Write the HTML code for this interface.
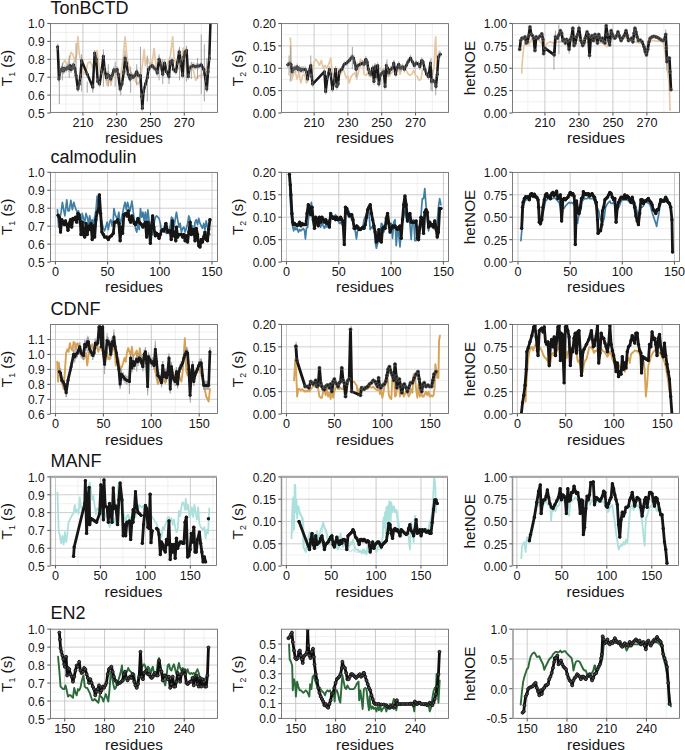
<!DOCTYPE html>
<html><head><meta charset="utf-8"><style>
html,body{margin:0;padding:0;background:#fff;}
svg{display:block;}
text{font-family:"Liberation Sans", sans-serif;fill:#141414;}
.tk{font-size:12px;}
.tkx{font-size:12.6px;}
.ax{font-size:15.3px;}
.ti{font-size:18px;}
</style></head><body>
<svg width="685" height="750" viewBox="0 0 685 750">
<defs><clipPath id="c00"><rect x="50.5" y="23.6" width="167" height="88.8"/></clipPath><clipPath id="c01"><rect x="281.5" y="23.6" width="167" height="88.8"/></clipPath><clipPath id="c02"><rect x="512.5" y="23.6" width="167" height="88.8"/></clipPath><clipPath id="c10"><rect x="50.5" y="172.4" width="167" height="89.1"/></clipPath><clipPath id="c11"><rect x="281.5" y="172.4" width="167" height="89.1"/></clipPath><clipPath id="c12"><rect x="512.5" y="172.4" width="167" height="89.1"/></clipPath><clipPath id="c20"><rect x="50.5" y="324.5" width="167" height="89"/></clipPath><clipPath id="c21"><rect x="281.5" y="324.5" width="167" height="89"/></clipPath><clipPath id="c22"><rect x="512.5" y="324.5" width="167" height="89"/></clipPath><clipPath id="c30"><rect x="50.5" y="477" width="166" height="88.5"/></clipPath><clipPath id="c31"><rect x="281.5" y="477" width="166" height="88.5"/></clipPath><clipPath id="c32"><rect x="512.5" y="477" width="166" height="88.5"/></clipPath><clipPath id="c40"><rect x="50.5" y="629.2" width="167" height="89.2"/></clipPath><clipPath id="c41"><rect x="281.5" y="629.2" width="167" height="89.2"/></clipPath><clipPath id="c42"><rect x="512.5" y="629.2" width="167" height="89.2"/></clipPath></defs>
<rect width="685" height="750" fill="#fff"/>
<line x1="50.5" x2="217.5" y1="104.05" y2="104.05" stroke="#e5e5e5" stroke-width="0.6"/>
<line x1="50.5" x2="217.5" y1="86.15" y2="86.15" stroke="#e5e5e5" stroke-width="0.6"/>
<line x1="50.5" x2="217.5" y1="68.25" y2="68.25" stroke="#e5e5e5" stroke-width="0.6"/>
<line x1="50.5" x2="217.5" y1="50.35" y2="50.35" stroke="#e5e5e5" stroke-width="0.6"/>
<line x1="50.5" x2="217.5" y1="32.45" y2="32.45" stroke="#e5e5e5" stroke-width="0.6"/>
<line y1="23.6" y2="112.4" x1="66" x2="66" stroke="#e5e5e5" stroke-width="0.6"/>
<line y1="23.6" y2="112.4" x1="99.8" x2="99.8" stroke="#e5e5e5" stroke-width="0.6"/>
<line y1="23.6" y2="112.4" x1="133.6" x2="133.6" stroke="#e5e5e5" stroke-width="0.6"/>
<line y1="23.6" y2="112.4" x1="167.4" x2="167.4" stroke="#e5e5e5" stroke-width="0.6"/>
<line y1="23.6" y2="112.4" x1="201.2" x2="201.2" stroke="#e5e5e5" stroke-width="0.6"/>
<line x1="50.5" x2="217.5" y1="95.1" y2="95.1" stroke="#cbcbcb" stroke-width="0.9"/>
<line x1="50.5" x2="217.5" y1="77.2" y2="77.2" stroke="#cbcbcb" stroke-width="0.9"/>
<line x1="50.5" x2="217.5" y1="59.3" y2="59.3" stroke="#cbcbcb" stroke-width="0.9"/>
<line x1="50.5" x2="217.5" y1="41.4" y2="41.4" stroke="#cbcbcb" stroke-width="0.9"/>
<line y1="23.6" y2="112.4" x1="82.9" x2="82.9" stroke="#c4c4c4" stroke-width="0.9"/>
<line y1="23.6" y2="112.4" x1="116.7" x2="116.7" stroke="#c4c4c4" stroke-width="0.9"/>
<line y1="23.6" y2="112.4" x1="150.5" x2="150.5" stroke="#c4c4c4" stroke-width="0.9"/>
<line y1="23.6" y2="112.4" x1="184.3" x2="184.3" stroke="#c4c4c4" stroke-width="0.9"/>
<g clip-path="url(#c00)">
<polyline points="60.55,74.15 63.03,62.97 64.89,60.49 67.37,65.45 69.85,58.01 71.09,52.42 72.96,54.28 74.82,61.73 76.68,54.28 77.92,36.9 79.16,53.04 81.02,62.97 83.5,74.15 85.99,71.66 87.85,62.97 90.33,61.73 92.81,67.94 95.29,55.52 97.15,50.56 99.01,66.7 100.88,75.39 103.36,65.45 105.22,75.39 107.08,85.32 108.94,75.39 110.8,85.32 113.28,74.15 115.77,70.42 118.25,77.87 120.73,75.39 123.21,56.76 125.07,36.9 126.93,56.76 129.42,69.18 131.9,74.15 135,75.39 135.48,81.6 137.96,84.08 140.45,80.35 142.31,65.45 144.17,49.31 145.41,65.45 147.27,58.01 149.13,62.97 150.99,65.45 152.85,58.01 154.09,48.69 155.34,59.25 156.58,69.18 158.44,62.97 160.3,59.25 162.78,64.21 165.26,69.18 167.74,62.97 170.23,56.76 172.71,36.9 173.95,56.76 175.81,64.21 177.67,69.18 179.53,66.7 181.39,59.25 183.26,48.07 185.12,59.25 186.36,66.7 188.22,74.15 190.08,69.18 191.94,67.94 193.8,71.66 195.66,80.35 197.53,76.63 200.01,75.39 202.49,75.39 204.35,71.66 206.21,67.94 207.45,66.7" fill="none" stroke="#e6c7a2" stroke-width="1.7" stroke-linejoin="round" stroke-linecap="round" opacity="1"/>
<line x1="59.31" x2="59.31" y1="59.25" y2="103.94" stroke="#9a9a9a" stroke-width="0.9"/>
<line x1="62.41" x2="62.41" y1="62.97" y2="80.35" stroke="#9a9a9a" stroke-width="0.9"/>
<line x1="69.23" x2="69.23" y1="55.52" y2="77.87" stroke="#9a9a9a" stroke-width="0.9"/>
<line x1="76.06" x2="76.06" y1="43.11" y2="71.66" stroke="#9a9a9a" stroke-width="0.9"/>
<line x1="81.64" x2="81.64" y1="54.28" y2="91.53" stroke="#9a9a9a" stroke-width="0.9"/>
<line x1="87.23" x2="87.23" y1="81.6" y2="92.77" stroke="#9a9a9a" stroke-width="0.9"/>
<line x1="92.81" x2="92.81" y1="81.6" y2="92.77" stroke="#9a9a9a" stroke-width="0.9"/>
<line x1="103.36" x2="103.36" y1="49.31" y2="86.56" stroke="#9a9a9a" stroke-width="0.9"/>
<line x1="108.32" x2="108.32" y1="64.21" y2="86.56" stroke="#9a9a9a" stroke-width="0.9"/>
<line x1="115.15" x2="115.15" y1="61.73" y2="86.56" stroke="#9a9a9a" stroke-width="0.9"/>
<line x1="120.73" x2="120.73" y1="76.63" y2="95.25" stroke="#9a9a9a" stroke-width="0.9"/>
<line x1="125.07" x2="125.07" y1="50.56" y2="74.15" stroke="#9a9a9a" stroke-width="0.9"/>
<line x1="130.66" x2="130.66" y1="66.7" y2="92.77" stroke="#9a9a9a" stroke-width="0.9"/>
<line x1="136.72" x2="136.72" y1="64.21" y2="85.32" stroke="#9a9a9a" stroke-width="0.9"/>
<line x1="140.45" x2="140.45" y1="46.83" y2="89.04" stroke="#9a9a9a" stroke-width="0.9"/>
<line x1="147.27" x2="147.27" y1="55.52" y2="101.46" stroke="#9a9a9a" stroke-width="0.9"/>
<line x1="159.06" x2="159.06" y1="54.28" y2="80.35" stroke="#9a9a9a" stroke-width="0.9"/>
<line x1="162.78" x2="162.78" y1="59.25" y2="84.08" stroke="#9a9a9a" stroke-width="0.9"/>
<line x1="168.99" x2="168.99" y1="61.73" y2="84.08" stroke="#9a9a9a" stroke-width="0.9"/>
<line x1="179.53" x2="179.53" y1="46.83" y2="80.35" stroke="#9a9a9a" stroke-width="0.9"/>
<line x1="186.36" x2="186.36" y1="45.59" y2="81.6" stroke="#9a9a9a" stroke-width="0.9"/>
<line x1="191.32" x2="191.32" y1="61.73" y2="79.11" stroke="#9a9a9a" stroke-width="0.9"/>
<line x1="197.53" x2="197.53" y1="58.01" y2="79.11" stroke="#9a9a9a" stroke-width="0.9"/>
<line x1="201.25" x2="201.25" y1="34.42" y2="94.01" stroke="#9a9a9a" stroke-width="0.9"/>
<line x1="204.35" x2="204.35" y1="44.35" y2="101.46" stroke="#9a9a9a" stroke-width="0.9"/>
<line x1="206.83" x2="206.83" y1="58.01" y2="91.53" stroke="#9a9a9a" stroke-width="0.9"/>
<polyline points="57.69,46.83 58.93,79.11 59.93,71.66 61.17,69.8 62.41,67.94 63.65,71.04 64.89,68.56 66.13,69.18 67.37,67.32 68.61,68.56 69.85,65.45 71.09,69.8 72.34,66.08 73.58,64.83 74.82,68.56 76.06,75.39 77.92,89.04 79.16,84.08 80.4,76.63 81.64,60.49 87.23,74.15 92.81,87.18 94.67,53.04 96.16,59.25 97.77,81.6 99.64,84.08 101.5,71.66 103.36,56.14 104.6,69.18 106.46,77.87 107.7,74.15 108.94,75.39 110.8,79.11 112.04,75.39 113.91,69.8 115.15,71.04 117.01,69.18 118.25,74.15 120.11,89.04 121.97,84.08 123.83,71.66 125.07,58.01 126.31,62.97 128.18,74.15 130.04,79.11 131.28,75.39 133.14,77.25 134.86,75.39 136.72,71.66 138.58,75.39 140.45,75.39 141.69,96.49 142.31,108.29 143.55,91.53 145.41,84.08 147.27,77.87 148.51,69.18 150.37,66.7 152.23,65.45 154.09,67.94 155.96,69.18 157.2,72.9 159.06,59.25 160.92,65.45 162.78,74.15 164.64,62.97 166.5,71.66 168.99,76.63 170.23,61.73 172.09,60.49 173.33,69.18 175.81,71.66 177.67,61.73 179.16,51.8 180.77,61.73 182.64,75.39 183.88,56.76 185.12,51.8 186.61,50.56 188.22,76.63 189.46,67.94 191.32,66.7 193.18,65.45 195.04,66.7 196.91,66.08 198.77,66.08 201.25,64.83 203.73,69.18 205.59,79.11 206.83,89.04 208.07,71.66 209.31,58.01 210.55,19.52" fill="none" stroke="#1a1a1a" stroke-width="2.5" stroke-linejoin="round" stroke-linecap="round" opacity="1"/>
<circle cx="57.69" cy="46.83" r="1.5" fill="#1a1a1a" stroke="none" stroke-width="0"/>
<circle cx="58.93" cy="79.11" r="1.5" fill="#1a1a1a" stroke="none" stroke-width="0"/>
<circle cx="59.93" cy="71.66" r="1.5" fill="#1a1a1a" stroke="none" stroke-width="0"/>
<circle cx="61.17" cy="69.8" r="1.5" fill="#1a1a1a" stroke="none" stroke-width="0"/>
<circle cx="62.41" cy="67.94" r="1.5" fill="#1a1a1a" stroke="none" stroke-width="0"/>
<circle cx="63.65" cy="71.04" r="1.5" fill="#1a1a1a" stroke="none" stroke-width="0"/>
<circle cx="64.89" cy="68.56" r="1.5" fill="#1a1a1a" stroke="none" stroke-width="0"/>
<circle cx="66.13" cy="69.18" r="1.5" fill="#1a1a1a" stroke="none" stroke-width="0"/>
<circle cx="67.37" cy="67.32" r="1.5" fill="#1a1a1a" stroke="none" stroke-width="0"/>
<circle cx="68.61" cy="68.56" r="1.5" fill="#1a1a1a" stroke="none" stroke-width="0"/>
<circle cx="69.85" cy="65.45" r="1.5" fill="#1a1a1a" stroke="none" stroke-width="0"/>
<circle cx="71.09" cy="69.8" r="1.5" fill="#1a1a1a" stroke="none" stroke-width="0"/>
<circle cx="72.34" cy="66.08" r="1.5" fill="#1a1a1a" stroke="none" stroke-width="0"/>
<circle cx="73.58" cy="64.83" r="1.5" fill="#1a1a1a" stroke="none" stroke-width="0"/>
<circle cx="74.82" cy="68.56" r="1.5" fill="#1a1a1a" stroke="none" stroke-width="0"/>
<circle cx="76.06" cy="75.39" r="1.5" fill="#1a1a1a" stroke="none" stroke-width="0"/>
<circle cx="77.92" cy="89.04" r="1.5" fill="#1a1a1a" stroke="none" stroke-width="0"/>
<circle cx="79.16" cy="84.08" r="1.5" fill="#1a1a1a" stroke="none" stroke-width="0"/>
<circle cx="80.4" cy="76.63" r="1.5" fill="#1a1a1a" stroke="none" stroke-width="0"/>
<circle cx="81.64" cy="60.49" r="1.5" fill="#1a1a1a" stroke="none" stroke-width="0"/>
<circle cx="87.23" cy="74.15" r="1.5" fill="#1a1a1a" stroke="none" stroke-width="0"/>
<circle cx="92.81" cy="87.18" r="1.5" fill="#1a1a1a" stroke="none" stroke-width="0"/>
<circle cx="94.67" cy="53.04" r="1.5" fill="#1a1a1a" stroke="none" stroke-width="0"/>
<circle cx="96.16" cy="59.25" r="1.5" fill="#1a1a1a" stroke="none" stroke-width="0"/>
<circle cx="97.77" cy="81.6" r="1.5" fill="#1a1a1a" stroke="none" stroke-width="0"/>
<circle cx="99.64" cy="84.08" r="1.5" fill="#1a1a1a" stroke="none" stroke-width="0"/>
<circle cx="101.5" cy="71.66" r="1.5" fill="#1a1a1a" stroke="none" stroke-width="0"/>
<circle cx="103.36" cy="56.14" r="1.5" fill="#1a1a1a" stroke="none" stroke-width="0"/>
<circle cx="104.6" cy="69.18" r="1.5" fill="#1a1a1a" stroke="none" stroke-width="0"/>
<circle cx="106.46" cy="77.87" r="1.5" fill="#1a1a1a" stroke="none" stroke-width="0"/>
<circle cx="107.7" cy="74.15" r="1.5" fill="#1a1a1a" stroke="none" stroke-width="0"/>
<circle cx="108.94" cy="75.39" r="1.5" fill="#1a1a1a" stroke="none" stroke-width="0"/>
<circle cx="110.8" cy="79.11" r="1.5" fill="#1a1a1a" stroke="none" stroke-width="0"/>
<circle cx="112.04" cy="75.39" r="1.5" fill="#1a1a1a" stroke="none" stroke-width="0"/>
<circle cx="113.91" cy="69.8" r="1.5" fill="#1a1a1a" stroke="none" stroke-width="0"/>
<circle cx="115.15" cy="71.04" r="1.5" fill="#1a1a1a" stroke="none" stroke-width="0"/>
<circle cx="117.01" cy="69.18" r="1.5" fill="#1a1a1a" stroke="none" stroke-width="0"/>
<circle cx="118.25" cy="74.15" r="1.5" fill="#1a1a1a" stroke="none" stroke-width="0"/>
<circle cx="120.11" cy="89.04" r="1.5" fill="#1a1a1a" stroke="none" stroke-width="0"/>
<circle cx="121.97" cy="84.08" r="1.5" fill="#1a1a1a" stroke="none" stroke-width="0"/>
<circle cx="123.83" cy="71.66" r="1.5" fill="#1a1a1a" stroke="none" stroke-width="0"/>
<circle cx="125.07" cy="58.01" r="1.5" fill="#1a1a1a" stroke="none" stroke-width="0"/>
<circle cx="126.31" cy="62.97" r="1.5" fill="#1a1a1a" stroke="none" stroke-width="0"/>
<circle cx="128.18" cy="74.15" r="1.5" fill="#1a1a1a" stroke="none" stroke-width="0"/>
<circle cx="130.04" cy="79.11" r="1.5" fill="#1a1a1a" stroke="none" stroke-width="0"/>
<circle cx="131.28" cy="75.39" r="1.5" fill="#1a1a1a" stroke="none" stroke-width="0"/>
<circle cx="133.14" cy="77.25" r="1.5" fill="#1a1a1a" stroke="none" stroke-width="0"/>
<circle cx="134.86" cy="75.39" r="1.5" fill="#1a1a1a" stroke="none" stroke-width="0"/>
<circle cx="136.72" cy="71.66" r="1.5" fill="#1a1a1a" stroke="none" stroke-width="0"/>
<circle cx="138.58" cy="75.39" r="1.5" fill="#1a1a1a" stroke="none" stroke-width="0"/>
<circle cx="140.45" cy="75.39" r="1.5" fill="#1a1a1a" stroke="none" stroke-width="0"/>
<circle cx="141.69" cy="96.49" r="1.5" fill="#1a1a1a" stroke="none" stroke-width="0"/>
<circle cx="142.31" cy="108.29" r="1.5" fill="#1a1a1a" stroke="none" stroke-width="0"/>
<circle cx="143.55" cy="91.53" r="1.5" fill="#1a1a1a" stroke="none" stroke-width="0"/>
<circle cx="145.41" cy="84.08" r="1.5" fill="#1a1a1a" stroke="none" stroke-width="0"/>
<circle cx="147.27" cy="77.87" r="1.5" fill="#1a1a1a" stroke="none" stroke-width="0"/>
<circle cx="148.51" cy="69.18" r="1.5" fill="#1a1a1a" stroke="none" stroke-width="0"/>
<circle cx="150.37" cy="66.7" r="1.5" fill="#1a1a1a" stroke="none" stroke-width="0"/>
<circle cx="152.23" cy="65.45" r="1.5" fill="#1a1a1a" stroke="none" stroke-width="0"/>
<circle cx="154.09" cy="67.94" r="1.5" fill="#1a1a1a" stroke="none" stroke-width="0"/>
<circle cx="155.96" cy="69.18" r="1.5" fill="#1a1a1a" stroke="none" stroke-width="0"/>
<circle cx="157.2" cy="72.9" r="1.5" fill="#1a1a1a" stroke="none" stroke-width="0"/>
<circle cx="159.06" cy="59.25" r="1.5" fill="#1a1a1a" stroke="none" stroke-width="0"/>
<circle cx="160.92" cy="65.45" r="1.5" fill="#1a1a1a" stroke="none" stroke-width="0"/>
<circle cx="162.78" cy="74.15" r="1.5" fill="#1a1a1a" stroke="none" stroke-width="0"/>
<circle cx="164.64" cy="62.97" r="1.5" fill="#1a1a1a" stroke="none" stroke-width="0"/>
<circle cx="166.5" cy="71.66" r="1.5" fill="#1a1a1a" stroke="none" stroke-width="0"/>
<circle cx="168.99" cy="76.63" r="1.5" fill="#1a1a1a" stroke="none" stroke-width="0"/>
<circle cx="170.23" cy="61.73" r="1.5" fill="#1a1a1a" stroke="none" stroke-width="0"/>
<circle cx="172.09" cy="60.49" r="1.5" fill="#1a1a1a" stroke="none" stroke-width="0"/>
<circle cx="173.33" cy="69.18" r="1.5" fill="#1a1a1a" stroke="none" stroke-width="0"/>
<circle cx="175.81" cy="71.66" r="1.5" fill="#1a1a1a" stroke="none" stroke-width="0"/>
<circle cx="177.67" cy="61.73" r="1.5" fill="#1a1a1a" stroke="none" stroke-width="0"/>
<circle cx="179.16" cy="51.8" r="1.5" fill="#1a1a1a" stroke="none" stroke-width="0"/>
<circle cx="180.77" cy="61.73" r="1.5" fill="#1a1a1a" stroke="none" stroke-width="0"/>
<circle cx="182.64" cy="75.39" r="1.5" fill="#1a1a1a" stroke="none" stroke-width="0"/>
<circle cx="183.88" cy="56.76" r="1.5" fill="#1a1a1a" stroke="none" stroke-width="0"/>
<circle cx="185.12" cy="51.8" r="1.5" fill="#1a1a1a" stroke="none" stroke-width="0"/>
<circle cx="186.61" cy="50.56" r="1.5" fill="#1a1a1a" stroke="none" stroke-width="0"/>
<circle cx="188.22" cy="76.63" r="1.5" fill="#1a1a1a" stroke="none" stroke-width="0"/>
<circle cx="189.46" cy="67.94" r="1.5" fill="#1a1a1a" stroke="none" stroke-width="0"/>
<circle cx="191.32" cy="66.7" r="1.5" fill="#1a1a1a" stroke="none" stroke-width="0"/>
<circle cx="193.18" cy="65.45" r="1.5" fill="#1a1a1a" stroke="none" stroke-width="0"/>
<circle cx="195.04" cy="66.7" r="1.5" fill="#1a1a1a" stroke="none" stroke-width="0"/>
<circle cx="196.91" cy="66.08" r="1.5" fill="#1a1a1a" stroke="none" stroke-width="0"/>
<circle cx="198.77" cy="66.08" r="1.5" fill="#1a1a1a" stroke="none" stroke-width="0"/>
<circle cx="201.25" cy="64.83" r="1.5" fill="#1a1a1a" stroke="none" stroke-width="0"/>
<circle cx="203.73" cy="69.18" r="1.5" fill="#1a1a1a" stroke="none" stroke-width="0"/>
<circle cx="205.59" cy="79.11" r="1.5" fill="#1a1a1a" stroke="none" stroke-width="0"/>
<circle cx="206.83" cy="89.04" r="1.5" fill="#1a1a1a" stroke="none" stroke-width="0"/>
<circle cx="208.07" cy="71.66" r="1.5" fill="#1a1a1a" stroke="none" stroke-width="0"/>
<circle cx="209.31" cy="58.01" r="1.5" fill="#1a1a1a" stroke="none" stroke-width="0"/>
<circle cx="210.55" cy="19.52" r="1.5" fill="#1a1a1a" stroke="none" stroke-width="0"/>
<line x1="57.69" x2="57.69" y1="43.63" y2="50.03" stroke="#8c8c8c" stroke-width="1.2" opacity="0.55"/>
<line x1="58.93" x2="58.93" y1="75.91" y2="82.31" stroke="#8c8c8c" stroke-width="1.2" opacity="0.55"/>
<line x1="59.93" x2="59.93" y1="68.46" y2="74.86" stroke="#8c8c8c" stroke-width="1.2" opacity="0.55"/>
<line x1="61.17" x2="61.17" y1="66.6" y2="73" stroke="#8c8c8c" stroke-width="1.2" opacity="0.55"/>
<line x1="62.41" x2="62.41" y1="64.74" y2="71.14" stroke="#8c8c8c" stroke-width="1.2" opacity="0.55"/>
<line x1="63.65" x2="63.65" y1="67.84" y2="74.24" stroke="#8c8c8c" stroke-width="1.2" opacity="0.55"/>
<line x1="64.89" x2="64.89" y1="65.36" y2="71.76" stroke="#8c8c8c" stroke-width="1.2" opacity="0.55"/>
<line x1="66.13" x2="66.13" y1="65.98" y2="72.38" stroke="#8c8c8c" stroke-width="1.2" opacity="0.55"/>
<line x1="67.37" x2="67.37" y1="64.12" y2="70.52" stroke="#8c8c8c" stroke-width="1.2" opacity="0.55"/>
<line x1="68.61" x2="68.61" y1="65.36" y2="71.76" stroke="#8c8c8c" stroke-width="1.2" opacity="0.55"/>
<line x1="69.85" x2="69.85" y1="62.25" y2="68.65" stroke="#8c8c8c" stroke-width="1.2" opacity="0.55"/>
<line x1="71.09" x2="71.09" y1="66.6" y2="73" stroke="#8c8c8c" stroke-width="1.2" opacity="0.55"/>
<line x1="72.34" x2="72.34" y1="62.88" y2="69.28" stroke="#8c8c8c" stroke-width="1.2" opacity="0.55"/>
<line x1="73.58" x2="73.58" y1="61.63" y2="68.03" stroke="#8c8c8c" stroke-width="1.2" opacity="0.55"/>
<line x1="74.82" x2="74.82" y1="65.36" y2="71.76" stroke="#8c8c8c" stroke-width="1.2" opacity="0.55"/>
<line x1="76.06" x2="76.06" y1="72.19" y2="78.59" stroke="#8c8c8c" stroke-width="1.2" opacity="0.55"/>
<line x1="77.92" x2="77.92" y1="85.84" y2="92.24" stroke="#8c8c8c" stroke-width="1.2" opacity="0.55"/>
<line x1="79.16" x2="79.16" y1="80.88" y2="87.28" stroke="#8c8c8c" stroke-width="1.2" opacity="0.55"/>
<line x1="80.4" x2="80.4" y1="73.43" y2="79.83" stroke="#8c8c8c" stroke-width="1.2" opacity="0.55"/>
<line x1="81.64" x2="81.64" y1="57.29" y2="63.69" stroke="#8c8c8c" stroke-width="1.2" opacity="0.55"/>
<line x1="87.23" x2="87.23" y1="70.95" y2="77.35" stroke="#8c8c8c" stroke-width="1.2" opacity="0.55"/>
<line x1="92.81" x2="92.81" y1="83.98" y2="90.38" stroke="#8c8c8c" stroke-width="1.2" opacity="0.55"/>
<line x1="94.67" x2="94.67" y1="49.84" y2="56.24" stroke="#8c8c8c" stroke-width="1.2" opacity="0.55"/>
<line x1="96.16" x2="96.16" y1="56.05" y2="62.45" stroke="#8c8c8c" stroke-width="1.2" opacity="0.55"/>
<line x1="97.77" x2="97.77" y1="78.4" y2="84.8" stroke="#8c8c8c" stroke-width="1.2" opacity="0.55"/>
<line x1="99.64" x2="99.64" y1="80.88" y2="87.28" stroke="#8c8c8c" stroke-width="1.2" opacity="0.55"/>
<line x1="101.5" x2="101.5" y1="68.46" y2="74.86" stroke="#8c8c8c" stroke-width="1.2" opacity="0.55"/>
<line x1="103.36" x2="103.36" y1="52.94" y2="59.34" stroke="#8c8c8c" stroke-width="1.2" opacity="0.55"/>
<line x1="104.6" x2="104.6" y1="65.98" y2="72.38" stroke="#8c8c8c" stroke-width="1.2" opacity="0.55"/>
<line x1="106.46" x2="106.46" y1="74.67" y2="81.07" stroke="#8c8c8c" stroke-width="1.2" opacity="0.55"/>
<line x1="107.7" x2="107.7" y1="70.95" y2="77.35" stroke="#8c8c8c" stroke-width="1.2" opacity="0.55"/>
<line x1="108.94" x2="108.94" y1="72.19" y2="78.59" stroke="#8c8c8c" stroke-width="1.2" opacity="0.55"/>
<line x1="110.8" x2="110.8" y1="75.91" y2="82.31" stroke="#8c8c8c" stroke-width="1.2" opacity="0.55"/>
<line x1="112.04" x2="112.04" y1="72.19" y2="78.59" stroke="#8c8c8c" stroke-width="1.2" opacity="0.55"/>
<line x1="113.91" x2="113.91" y1="66.6" y2="73" stroke="#8c8c8c" stroke-width="1.2" opacity="0.55"/>
<line x1="115.15" x2="115.15" y1="67.84" y2="74.24" stroke="#8c8c8c" stroke-width="1.2" opacity="0.55"/>
<line x1="117.01" x2="117.01" y1="65.98" y2="72.38" stroke="#8c8c8c" stroke-width="1.2" opacity="0.55"/>
<line x1="118.25" x2="118.25" y1="70.95" y2="77.35" stroke="#8c8c8c" stroke-width="1.2" opacity="0.55"/>
<line x1="120.11" x2="120.11" y1="85.84" y2="92.24" stroke="#8c8c8c" stroke-width="1.2" opacity="0.55"/>
<line x1="121.97" x2="121.97" y1="80.88" y2="87.28" stroke="#8c8c8c" stroke-width="1.2" opacity="0.55"/>
<line x1="123.83" x2="123.83" y1="68.46" y2="74.86" stroke="#8c8c8c" stroke-width="1.2" opacity="0.55"/>
<line x1="125.07" x2="125.07" y1="54.81" y2="61.21" stroke="#8c8c8c" stroke-width="1.2" opacity="0.55"/>
<line x1="126.31" x2="126.31" y1="59.77" y2="66.17" stroke="#8c8c8c" stroke-width="1.2" opacity="0.55"/>
<line x1="128.18" x2="128.18" y1="70.95" y2="77.35" stroke="#8c8c8c" stroke-width="1.2" opacity="0.55"/>
<line x1="130.04" x2="130.04" y1="75.91" y2="82.31" stroke="#8c8c8c" stroke-width="1.2" opacity="0.55"/>
<line x1="131.28" x2="131.28" y1="72.19" y2="78.59" stroke="#8c8c8c" stroke-width="1.2" opacity="0.55"/>
<line x1="133.14" x2="133.14" y1="74.05" y2="80.45" stroke="#8c8c8c" stroke-width="1.2" opacity="0.55"/>
<line x1="134.86" x2="134.86" y1="72.19" y2="78.59" stroke="#8c8c8c" stroke-width="1.2" opacity="0.55"/>
<line x1="136.72" x2="136.72" y1="68.46" y2="74.86" stroke="#8c8c8c" stroke-width="1.2" opacity="0.55"/>
<line x1="138.58" x2="138.58" y1="72.19" y2="78.59" stroke="#8c8c8c" stroke-width="1.2" opacity="0.55"/>
<line x1="140.45" x2="140.45" y1="72.19" y2="78.59" stroke="#8c8c8c" stroke-width="1.2" opacity="0.55"/>
<line x1="141.69" x2="141.69" y1="93.29" y2="99.69" stroke="#8c8c8c" stroke-width="1.2" opacity="0.55"/>
<line x1="142.31" x2="142.31" y1="105.09" y2="111.49" stroke="#8c8c8c" stroke-width="1.2" opacity="0.55"/>
<line x1="143.55" x2="143.55" y1="88.33" y2="94.73" stroke="#8c8c8c" stroke-width="1.2" opacity="0.55"/>
<line x1="145.41" x2="145.41" y1="80.88" y2="87.28" stroke="#8c8c8c" stroke-width="1.2" opacity="0.55"/>
<line x1="147.27" x2="147.27" y1="74.67" y2="81.07" stroke="#8c8c8c" stroke-width="1.2" opacity="0.55"/>
<line x1="148.51" x2="148.51" y1="65.98" y2="72.38" stroke="#8c8c8c" stroke-width="1.2" opacity="0.55"/>
<line x1="150.37" x2="150.37" y1="63.5" y2="69.9" stroke="#8c8c8c" stroke-width="1.2" opacity="0.55"/>
<line x1="152.23" x2="152.23" y1="62.25" y2="68.65" stroke="#8c8c8c" stroke-width="1.2" opacity="0.55"/>
<line x1="154.09" x2="154.09" y1="64.74" y2="71.14" stroke="#8c8c8c" stroke-width="1.2" opacity="0.55"/>
<line x1="155.96" x2="155.96" y1="65.98" y2="72.38" stroke="#8c8c8c" stroke-width="1.2" opacity="0.55"/>
<line x1="157.2" x2="157.2" y1="69.7" y2="76.1" stroke="#8c8c8c" stroke-width="1.2" opacity="0.55"/>
<line x1="159.06" x2="159.06" y1="56.05" y2="62.45" stroke="#8c8c8c" stroke-width="1.2" opacity="0.55"/>
<line x1="160.92" x2="160.92" y1="62.25" y2="68.65" stroke="#8c8c8c" stroke-width="1.2" opacity="0.55"/>
<line x1="162.78" x2="162.78" y1="70.95" y2="77.35" stroke="#8c8c8c" stroke-width="1.2" opacity="0.55"/>
<line x1="164.64" x2="164.64" y1="59.77" y2="66.17" stroke="#8c8c8c" stroke-width="1.2" opacity="0.55"/>
<line x1="166.5" x2="166.5" y1="68.46" y2="74.86" stroke="#8c8c8c" stroke-width="1.2" opacity="0.55"/>
<line x1="168.99" x2="168.99" y1="73.43" y2="79.83" stroke="#8c8c8c" stroke-width="1.2" opacity="0.55"/>
<line x1="170.23" x2="170.23" y1="58.53" y2="64.93" stroke="#8c8c8c" stroke-width="1.2" opacity="0.55"/>
<line x1="172.09" x2="172.09" y1="57.29" y2="63.69" stroke="#8c8c8c" stroke-width="1.2" opacity="0.55"/>
<line x1="173.33" x2="173.33" y1="65.98" y2="72.38" stroke="#8c8c8c" stroke-width="1.2" opacity="0.55"/>
<line x1="175.81" x2="175.81" y1="68.46" y2="74.86" stroke="#8c8c8c" stroke-width="1.2" opacity="0.55"/>
<line x1="177.67" x2="177.67" y1="58.53" y2="64.93" stroke="#8c8c8c" stroke-width="1.2" opacity="0.55"/>
<line x1="179.16" x2="179.16" y1="48.6" y2="55" stroke="#8c8c8c" stroke-width="1.2" opacity="0.55"/>
<line x1="180.77" x2="180.77" y1="58.53" y2="64.93" stroke="#8c8c8c" stroke-width="1.2" opacity="0.55"/>
<line x1="182.64" x2="182.64" y1="72.19" y2="78.59" stroke="#8c8c8c" stroke-width="1.2" opacity="0.55"/>
<line x1="183.88" x2="183.88" y1="53.56" y2="59.96" stroke="#8c8c8c" stroke-width="1.2" opacity="0.55"/>
<line x1="185.12" x2="185.12" y1="48.6" y2="55" stroke="#8c8c8c" stroke-width="1.2" opacity="0.55"/>
<line x1="186.61" x2="186.61" y1="47.36" y2="53.76" stroke="#8c8c8c" stroke-width="1.2" opacity="0.55"/>
<line x1="188.22" x2="188.22" y1="73.43" y2="79.83" stroke="#8c8c8c" stroke-width="1.2" opacity="0.55"/>
<line x1="189.46" x2="189.46" y1="64.74" y2="71.14" stroke="#8c8c8c" stroke-width="1.2" opacity="0.55"/>
<line x1="191.32" x2="191.32" y1="63.5" y2="69.9" stroke="#8c8c8c" stroke-width="1.2" opacity="0.55"/>
<line x1="193.18" x2="193.18" y1="62.25" y2="68.65" stroke="#8c8c8c" stroke-width="1.2" opacity="0.55"/>
<line x1="195.04" x2="195.04" y1="63.5" y2="69.9" stroke="#8c8c8c" stroke-width="1.2" opacity="0.55"/>
<line x1="196.91" x2="196.91" y1="62.88" y2="69.28" stroke="#8c8c8c" stroke-width="1.2" opacity="0.55"/>
<line x1="198.77" x2="198.77" y1="62.88" y2="69.28" stroke="#8c8c8c" stroke-width="1.2" opacity="0.55"/>
<line x1="201.25" x2="201.25" y1="61.63" y2="68.03" stroke="#8c8c8c" stroke-width="1.2" opacity="0.55"/>
<line x1="203.73" x2="203.73" y1="65.98" y2="72.38" stroke="#8c8c8c" stroke-width="1.2" opacity="0.55"/>
<line x1="205.59" x2="205.59" y1="75.91" y2="82.31" stroke="#8c8c8c" stroke-width="1.2" opacity="0.55"/>
<line x1="206.83" x2="206.83" y1="85.84" y2="92.24" stroke="#8c8c8c" stroke-width="1.2" opacity="0.55"/>
<line x1="208.07" x2="208.07" y1="68.46" y2="74.86" stroke="#8c8c8c" stroke-width="1.2" opacity="0.55"/>
<line x1="209.31" x2="209.31" y1="54.81" y2="61.21" stroke="#8c8c8c" stroke-width="1.2" opacity="0.55"/>
<line x1="210.55" x2="210.55" y1="16.32" y2="22.72" stroke="#8c8c8c" stroke-width="1.2" opacity="0.55"/>
</g>
<rect x="50.5" y="23.6" width="167" height="88.8" fill="none" stroke="#6e6e6e" stroke-width="0.9"/>
<line x1="47.3" x2="50.5" y1="113" y2="113" stroke="#5e5e5e" stroke-width="1.1"/>
<text x="44.6" y="117.9" text-anchor="end" class="tk">0.5</text>
<line x1="47.3" x2="50.5" y1="95.1" y2="95.1" stroke="#5e5e5e" stroke-width="1.1"/>
<text x="44.6" y="100" text-anchor="end" class="tk">0.6</text>
<line x1="47.3" x2="50.5" y1="77.2" y2="77.2" stroke="#5e5e5e" stroke-width="1.1"/>
<text x="44.6" y="82.1" text-anchor="end" class="tk">0.7</text>
<line x1="47.3" x2="50.5" y1="59.3" y2="59.3" stroke="#5e5e5e" stroke-width="1.1"/>
<text x="44.6" y="64.2" text-anchor="end" class="tk">0.8</text>
<line x1="47.3" x2="50.5" y1="41.4" y2="41.4" stroke="#5e5e5e" stroke-width="1.1"/>
<text x="44.6" y="46.3" text-anchor="end" class="tk">0.9</text>
<line x1="47.3" x2="50.5" y1="23.5" y2="23.5" stroke="#5e5e5e" stroke-width="1.1"/>
<text x="44.6" y="28.4" text-anchor="end" class="tk">1.0</text>
<line y1="112.4" y2="115.4" x1="82.9" x2="82.9" stroke="#5e5e5e" stroke-width="1.1"/>
<text x="82.9" y="127" text-anchor="middle" class="tkx">210</text>
<line y1="112.4" y2="115.4" x1="116.7" x2="116.7" stroke="#5e5e5e" stroke-width="1.1"/>
<text x="116.7" y="127" text-anchor="middle" class="tkx">230</text>
<line y1="112.4" y2="115.4" x1="150.5" x2="150.5" stroke="#5e5e5e" stroke-width="1.1"/>
<text x="150.5" y="127" text-anchor="middle" class="tkx">250</text>
<line y1="112.4" y2="115.4" x1="184.3" x2="184.3" stroke="#5e5e5e" stroke-width="1.1"/>
<text x="184.3" y="127" text-anchor="middle" class="tkx">270</text>
<text x="134" y="143.3" text-anchor="middle" class="ax">residues</text>
<text transform="translate(12,68) rotate(-90)" text-anchor="middle" class="ax">T<tspan font-size="8.8" dy="2.8">1</tspan><tspan dy="-2.8"> (s)</tspan></text>
<line x1="281.5" x2="448.5" y1="101.81" y2="101.81" stroke="#e5e5e5" stroke-width="0.6"/>
<line x1="281.5" x2="448.5" y1="79.44" y2="79.44" stroke="#e5e5e5" stroke-width="0.6"/>
<line x1="281.5" x2="448.5" y1="57.06" y2="57.06" stroke="#e5e5e5" stroke-width="0.6"/>
<line x1="281.5" x2="448.5" y1="34.69" y2="34.69" stroke="#e5e5e5" stroke-width="0.6"/>
<line y1="23.6" y2="112.4" x1="297.2" x2="297.2" stroke="#e5e5e5" stroke-width="0.6"/>
<line y1="23.6" y2="112.4" x1="331" x2="331" stroke="#e5e5e5" stroke-width="0.6"/>
<line y1="23.6" y2="112.4" x1="364.8" x2="364.8" stroke="#e5e5e5" stroke-width="0.6"/>
<line y1="23.6" y2="112.4" x1="398.6" x2="398.6" stroke="#e5e5e5" stroke-width="0.6"/>
<line y1="23.6" y2="112.4" x1="432.4" x2="432.4" stroke="#e5e5e5" stroke-width="0.6"/>
<line x1="281.5" x2="448.5" y1="90.62" y2="90.62" stroke="#cbcbcb" stroke-width="0.9"/>
<line x1="281.5" x2="448.5" y1="68.25" y2="68.25" stroke="#cbcbcb" stroke-width="0.9"/>
<line x1="281.5" x2="448.5" y1="45.88" y2="45.88" stroke="#cbcbcb" stroke-width="0.9"/>
<line y1="23.6" y2="112.4" x1="314.1" x2="314.1" stroke="#c4c4c4" stroke-width="0.9"/>
<line y1="23.6" y2="112.4" x1="347.9" x2="347.9" stroke="#c4c4c4" stroke-width="0.9"/>
<line y1="23.6" y2="112.4" x1="381.7" x2="381.7" stroke="#c4c4c4" stroke-width="0.9"/>
<line y1="23.6" y2="112.4" x1="415.5" x2="415.5" stroke="#c4c4c4" stroke-width="0.9"/>
<g clip-path="url(#c01)">
<polyline points="290.31,38.14 290.93,46.83 291.55,80.35 293.41,74.15 295.27,71.66 297.13,79.11 298.99,72.9 300.85,82.84 302.72,75.39 304.58,74.15 306.44,82.84 308.3,71.66 310.16,69.18 312.02,74.15 313.88,62.97 315.74,59.25 317.61,61.73 319.47,65.45 321.33,60.49 323.19,67.94 325.05,65.45 326.91,67.94 328.77,64.21 330.64,58.01 331.88,69.18 333.74,76.63 335.6,71.66 337.46,74.15 339.32,69.18 340.56,74.15 342.42,67.94 344.28,71.66 346.15,77.87 348.01,76.63 349.25,82.84 351.11,76.63 352.97,74.15 354.83,72.9 356.69,79.11 358.55,71.66 360.42,59.25 362.9,61.73 364,74.15 365.86,75.39 367.72,72.9 369.58,76.63 371.45,76.63 373.31,69.18 375.17,64.21 377.03,69.18 378.89,66.7 381.37,70.42 383.23,69.18 385.09,72.9 386.96,74.15 388.82,76.63 390.68,74.15 392.54,71.66 394.4,71.66 396.26,69.18 398.12,66.7 399.99,74.15 401.85,67.94 403.71,69.18 405.57,69.18 407.43,72.9 409.91,75.39 411.77,74.15 413.64,70.42 415.5,75.39 417.36,76.63 419.22,80.35 421.08,79.11 422.32,70.42 423.56,69.18 426.04,71.66 428.53,74.15 431.01,75.39 432.87,74.15 434.11,66.7 434.98,46.83 435.72,36.9 436.59,61.73 437.83,74.15" fill="none" stroke="#e6c7a2" stroke-width="1.7" stroke-linejoin="round" stroke-linecap="round" opacity="1"/>
<line x1="289.07" x2="289.07" y1="55.52" y2="75.39" stroke="#9a9a9a" stroke-width="0.9"/>
<line x1="290.31" x2="290.31" y1="45.59" y2="81.6" stroke="#9a9a9a" stroke-width="0.9"/>
<line x1="310.78" x2="310.78" y1="55.52" y2="74.15" stroke="#9a9a9a" stroke-width="0.9"/>
<line x1="352.35" x2="352.35" y1="46.83" y2="69.18" stroke="#9a9a9a" stroke-width="0.9"/>
<line x1="356.69" x2="356.69" y1="65.45" y2="76.63" stroke="#9a9a9a" stroke-width="0.9"/>
<line x1="386.96" x2="386.96" y1="59.25" y2="76.63" stroke="#9a9a9a" stroke-width="0.9"/>
<line x1="431.01" x2="431.01" y1="58.01" y2="90.29" stroke="#9a9a9a" stroke-width="0.9"/>
<line x1="432.25" x2="432.25" y1="69.18" y2="91.53" stroke="#9a9a9a" stroke-width="0.9"/>
<line x1="435.72" x2="435.72" y1="75.39" y2="95.25" stroke="#9a9a9a" stroke-width="0.9"/>
<line x1="439.07" x2="439.07" y1="50.56" y2="59.25" stroke="#9a9a9a" stroke-width="0.9"/>
<polyline points="287.82,64.83 289.69,63.59 290.93,64.21 292.17,71.66 293.41,69.18 294.65,67.94 295.89,68.56 297.13,66.7 298.37,69.8 299.61,68.56 300.85,70.42 302.09,69.18 303.34,69.8 305.2,69.18 306.44,71.66 307.68,79.11 308.92,71.66 310.78,65.45 311.77,76.63 312.64,84.08 324.43,71.66 325.67,91.53 327.53,76.63 329.39,69.18 330.64,74.15 332.5,89.04 334.36,80.35 335.6,69.18 336.84,86.56 338.08,84.08 339.32,71.66 341.8,69.18 344.28,64.21 346.77,62.97 349.25,60.49 351.11,58.01 352.35,56.76 353.59,58.01 354.83,62.97 356.07,69.18 357.93,65.45 360.42,64.21 362.9,62.97 364,64.21 365.86,59.25 367.1,61.73 368.34,69.18 369.58,72.9 370.82,74.15 372.69,67.94 373.93,81.6 375.17,66.7 376.41,76.63 377.65,65.45 378.89,84.08 380.13,75.39 381.99,72.9 383.85,71.66 385.09,86.56 386.34,65.45 387.58,67.94 388.82,72.9 390.68,69.18 392.54,67.94 393.78,62.97 395.64,74.15 396.88,67.94 398.74,64.21 399.99,67.94 401.23,67.94 402.47,66.7 404.33,69.18 406.19,65.45 408.05,61.73 410.53,58.01 412.39,61.73 414.26,65.45 416.12,62.97 418.6,64.21 419.84,66.7 421.7,60.49 422.94,61.73 424.8,69.18 426.66,74.15 428.53,76.63 430.39,62.97 431.63,81.6 432.87,80.35 434.73,81.6 435.97,86.56 437.21,74.15 438.45,56.76 440.31,54.28" fill="none" stroke="#1a1a1a" stroke-width="2.5" stroke-linejoin="round" stroke-linecap="round" opacity="1"/>
<circle cx="287.82" cy="64.83" r="1.5" fill="#1a1a1a" stroke="none" stroke-width="0"/>
<circle cx="289.69" cy="63.59" r="1.5" fill="#1a1a1a" stroke="none" stroke-width="0"/>
<circle cx="290.93" cy="64.21" r="1.5" fill="#1a1a1a" stroke="none" stroke-width="0"/>
<circle cx="292.17" cy="71.66" r="1.5" fill="#1a1a1a" stroke="none" stroke-width="0"/>
<circle cx="293.41" cy="69.18" r="1.5" fill="#1a1a1a" stroke="none" stroke-width="0"/>
<circle cx="294.65" cy="67.94" r="1.5" fill="#1a1a1a" stroke="none" stroke-width="0"/>
<circle cx="295.89" cy="68.56" r="1.5" fill="#1a1a1a" stroke="none" stroke-width="0"/>
<circle cx="297.13" cy="66.7" r="1.5" fill="#1a1a1a" stroke="none" stroke-width="0"/>
<circle cx="298.37" cy="69.8" r="1.5" fill="#1a1a1a" stroke="none" stroke-width="0"/>
<circle cx="299.61" cy="68.56" r="1.5" fill="#1a1a1a" stroke="none" stroke-width="0"/>
<circle cx="300.85" cy="70.42" r="1.5" fill="#1a1a1a" stroke="none" stroke-width="0"/>
<circle cx="302.09" cy="69.18" r="1.5" fill="#1a1a1a" stroke="none" stroke-width="0"/>
<circle cx="303.34" cy="69.8" r="1.5" fill="#1a1a1a" stroke="none" stroke-width="0"/>
<circle cx="305.2" cy="69.18" r="1.5" fill="#1a1a1a" stroke="none" stroke-width="0"/>
<circle cx="306.44" cy="71.66" r="1.5" fill="#1a1a1a" stroke="none" stroke-width="0"/>
<circle cx="307.68" cy="79.11" r="1.5" fill="#1a1a1a" stroke="none" stroke-width="0"/>
<circle cx="308.92" cy="71.66" r="1.5" fill="#1a1a1a" stroke="none" stroke-width="0"/>
<circle cx="310.78" cy="65.45" r="1.5" fill="#1a1a1a" stroke="none" stroke-width="0"/>
<circle cx="311.77" cy="76.63" r="1.5" fill="#1a1a1a" stroke="none" stroke-width="0"/>
<circle cx="312.64" cy="84.08" r="1.5" fill="#1a1a1a" stroke="none" stroke-width="0"/>
<circle cx="324.43" cy="71.66" r="1.5" fill="#1a1a1a" stroke="none" stroke-width="0"/>
<circle cx="325.67" cy="91.53" r="1.5" fill="#1a1a1a" stroke="none" stroke-width="0"/>
<circle cx="327.53" cy="76.63" r="1.5" fill="#1a1a1a" stroke="none" stroke-width="0"/>
<circle cx="329.39" cy="69.18" r="1.5" fill="#1a1a1a" stroke="none" stroke-width="0"/>
<circle cx="330.64" cy="74.15" r="1.5" fill="#1a1a1a" stroke="none" stroke-width="0"/>
<circle cx="332.5" cy="89.04" r="1.5" fill="#1a1a1a" stroke="none" stroke-width="0"/>
<circle cx="334.36" cy="80.35" r="1.5" fill="#1a1a1a" stroke="none" stroke-width="0"/>
<circle cx="335.6" cy="69.18" r="1.5" fill="#1a1a1a" stroke="none" stroke-width="0"/>
<circle cx="336.84" cy="86.56" r="1.5" fill="#1a1a1a" stroke="none" stroke-width="0"/>
<circle cx="338.08" cy="84.08" r="1.5" fill="#1a1a1a" stroke="none" stroke-width="0"/>
<circle cx="339.32" cy="71.66" r="1.5" fill="#1a1a1a" stroke="none" stroke-width="0"/>
<circle cx="341.8" cy="69.18" r="1.5" fill="#1a1a1a" stroke="none" stroke-width="0"/>
<circle cx="344.28" cy="64.21" r="1.5" fill="#1a1a1a" stroke="none" stroke-width="0"/>
<circle cx="346.77" cy="62.97" r="1.5" fill="#1a1a1a" stroke="none" stroke-width="0"/>
<circle cx="349.25" cy="60.49" r="1.5" fill="#1a1a1a" stroke="none" stroke-width="0"/>
<circle cx="351.11" cy="58.01" r="1.5" fill="#1a1a1a" stroke="none" stroke-width="0"/>
<circle cx="352.35" cy="56.76" r="1.5" fill="#1a1a1a" stroke="none" stroke-width="0"/>
<circle cx="353.59" cy="58.01" r="1.5" fill="#1a1a1a" stroke="none" stroke-width="0"/>
<circle cx="354.83" cy="62.97" r="1.5" fill="#1a1a1a" stroke="none" stroke-width="0"/>
<circle cx="356.07" cy="69.18" r="1.5" fill="#1a1a1a" stroke="none" stroke-width="0"/>
<circle cx="357.93" cy="65.45" r="1.5" fill="#1a1a1a" stroke="none" stroke-width="0"/>
<circle cx="360.42" cy="64.21" r="1.5" fill="#1a1a1a" stroke="none" stroke-width="0"/>
<circle cx="362.9" cy="62.97" r="1.5" fill="#1a1a1a" stroke="none" stroke-width="0"/>
<circle cx="364" cy="64.21" r="1.5" fill="#1a1a1a" stroke="none" stroke-width="0"/>
<circle cx="365.86" cy="59.25" r="1.5" fill="#1a1a1a" stroke="none" stroke-width="0"/>
<circle cx="367.1" cy="61.73" r="1.5" fill="#1a1a1a" stroke="none" stroke-width="0"/>
<circle cx="368.34" cy="69.18" r="1.5" fill="#1a1a1a" stroke="none" stroke-width="0"/>
<circle cx="369.58" cy="72.9" r="1.5" fill="#1a1a1a" stroke="none" stroke-width="0"/>
<circle cx="370.82" cy="74.15" r="1.5" fill="#1a1a1a" stroke="none" stroke-width="0"/>
<circle cx="372.69" cy="67.94" r="1.5" fill="#1a1a1a" stroke="none" stroke-width="0"/>
<circle cx="373.93" cy="81.6" r="1.5" fill="#1a1a1a" stroke="none" stroke-width="0"/>
<circle cx="375.17" cy="66.7" r="1.5" fill="#1a1a1a" stroke="none" stroke-width="0"/>
<circle cx="376.41" cy="76.63" r="1.5" fill="#1a1a1a" stroke="none" stroke-width="0"/>
<circle cx="377.65" cy="65.45" r="1.5" fill="#1a1a1a" stroke="none" stroke-width="0"/>
<circle cx="378.89" cy="84.08" r="1.5" fill="#1a1a1a" stroke="none" stroke-width="0"/>
<circle cx="380.13" cy="75.39" r="1.5" fill="#1a1a1a" stroke="none" stroke-width="0"/>
<circle cx="381.99" cy="72.9" r="1.5" fill="#1a1a1a" stroke="none" stroke-width="0"/>
<circle cx="383.85" cy="71.66" r="1.5" fill="#1a1a1a" stroke="none" stroke-width="0"/>
<circle cx="385.09" cy="86.56" r="1.5" fill="#1a1a1a" stroke="none" stroke-width="0"/>
<circle cx="386.34" cy="65.45" r="1.5" fill="#1a1a1a" stroke="none" stroke-width="0"/>
<circle cx="387.58" cy="67.94" r="1.5" fill="#1a1a1a" stroke="none" stroke-width="0"/>
<circle cx="388.82" cy="72.9" r="1.5" fill="#1a1a1a" stroke="none" stroke-width="0"/>
<circle cx="390.68" cy="69.18" r="1.5" fill="#1a1a1a" stroke="none" stroke-width="0"/>
<circle cx="392.54" cy="67.94" r="1.5" fill="#1a1a1a" stroke="none" stroke-width="0"/>
<circle cx="393.78" cy="62.97" r="1.5" fill="#1a1a1a" stroke="none" stroke-width="0"/>
<circle cx="395.64" cy="74.15" r="1.5" fill="#1a1a1a" stroke="none" stroke-width="0"/>
<circle cx="396.88" cy="67.94" r="1.5" fill="#1a1a1a" stroke="none" stroke-width="0"/>
<circle cx="398.74" cy="64.21" r="1.5" fill="#1a1a1a" stroke="none" stroke-width="0"/>
<circle cx="399.99" cy="67.94" r="1.5" fill="#1a1a1a" stroke="none" stroke-width="0"/>
<circle cx="401.23" cy="67.94" r="1.5" fill="#1a1a1a" stroke="none" stroke-width="0"/>
<circle cx="402.47" cy="66.7" r="1.5" fill="#1a1a1a" stroke="none" stroke-width="0"/>
<circle cx="404.33" cy="69.18" r="1.5" fill="#1a1a1a" stroke="none" stroke-width="0"/>
<circle cx="406.19" cy="65.45" r="1.5" fill="#1a1a1a" stroke="none" stroke-width="0"/>
<circle cx="408.05" cy="61.73" r="1.5" fill="#1a1a1a" stroke="none" stroke-width="0"/>
<circle cx="410.53" cy="58.01" r="1.5" fill="#1a1a1a" stroke="none" stroke-width="0"/>
<circle cx="412.39" cy="61.73" r="1.5" fill="#1a1a1a" stroke="none" stroke-width="0"/>
<circle cx="414.26" cy="65.45" r="1.5" fill="#1a1a1a" stroke="none" stroke-width="0"/>
<circle cx="416.12" cy="62.97" r="1.5" fill="#1a1a1a" stroke="none" stroke-width="0"/>
<circle cx="418.6" cy="64.21" r="1.5" fill="#1a1a1a" stroke="none" stroke-width="0"/>
<circle cx="419.84" cy="66.7" r="1.5" fill="#1a1a1a" stroke="none" stroke-width="0"/>
<circle cx="421.7" cy="60.49" r="1.5" fill="#1a1a1a" stroke="none" stroke-width="0"/>
<circle cx="422.94" cy="61.73" r="1.5" fill="#1a1a1a" stroke="none" stroke-width="0"/>
<circle cx="424.8" cy="69.18" r="1.5" fill="#1a1a1a" stroke="none" stroke-width="0"/>
<circle cx="426.66" cy="74.15" r="1.5" fill="#1a1a1a" stroke="none" stroke-width="0"/>
<circle cx="428.53" cy="76.63" r="1.5" fill="#1a1a1a" stroke="none" stroke-width="0"/>
<circle cx="430.39" cy="62.97" r="1.5" fill="#1a1a1a" stroke="none" stroke-width="0"/>
<circle cx="431.63" cy="81.6" r="1.5" fill="#1a1a1a" stroke="none" stroke-width="0"/>
<circle cx="432.87" cy="80.35" r="1.5" fill="#1a1a1a" stroke="none" stroke-width="0"/>
<circle cx="434.73" cy="81.6" r="1.5" fill="#1a1a1a" stroke="none" stroke-width="0"/>
<circle cx="435.97" cy="86.56" r="1.5" fill="#1a1a1a" stroke="none" stroke-width="0"/>
<circle cx="437.21" cy="74.15" r="1.5" fill="#1a1a1a" stroke="none" stroke-width="0"/>
<circle cx="438.45" cy="56.76" r="1.5" fill="#1a1a1a" stroke="none" stroke-width="0"/>
<circle cx="440.31" cy="54.28" r="1.5" fill="#1a1a1a" stroke="none" stroke-width="0"/>
<line x1="287.82" x2="287.82" y1="61.63" y2="68.03" stroke="#8c8c8c" stroke-width="1.2" opacity="0.55"/>
<line x1="289.69" x2="289.69" y1="60.39" y2="66.79" stroke="#8c8c8c" stroke-width="1.2" opacity="0.55"/>
<line x1="290.93" x2="290.93" y1="61.01" y2="67.41" stroke="#8c8c8c" stroke-width="1.2" opacity="0.55"/>
<line x1="292.17" x2="292.17" y1="68.46" y2="74.86" stroke="#8c8c8c" stroke-width="1.2" opacity="0.55"/>
<line x1="293.41" x2="293.41" y1="65.98" y2="72.38" stroke="#8c8c8c" stroke-width="1.2" opacity="0.55"/>
<line x1="294.65" x2="294.65" y1="64.74" y2="71.14" stroke="#8c8c8c" stroke-width="1.2" opacity="0.55"/>
<line x1="295.89" x2="295.89" y1="65.36" y2="71.76" stroke="#8c8c8c" stroke-width="1.2" opacity="0.55"/>
<line x1="297.13" x2="297.13" y1="63.5" y2="69.9" stroke="#8c8c8c" stroke-width="1.2" opacity="0.55"/>
<line x1="298.37" x2="298.37" y1="66.6" y2="73" stroke="#8c8c8c" stroke-width="1.2" opacity="0.55"/>
<line x1="299.61" x2="299.61" y1="65.36" y2="71.76" stroke="#8c8c8c" stroke-width="1.2" opacity="0.55"/>
<line x1="300.85" x2="300.85" y1="67.22" y2="73.62" stroke="#8c8c8c" stroke-width="1.2" opacity="0.55"/>
<line x1="302.09" x2="302.09" y1="65.98" y2="72.38" stroke="#8c8c8c" stroke-width="1.2" opacity="0.55"/>
<line x1="303.34" x2="303.34" y1="66.6" y2="73" stroke="#8c8c8c" stroke-width="1.2" opacity="0.55"/>
<line x1="305.2" x2="305.2" y1="65.98" y2="72.38" stroke="#8c8c8c" stroke-width="1.2" opacity="0.55"/>
<line x1="306.44" x2="306.44" y1="68.46" y2="74.86" stroke="#8c8c8c" stroke-width="1.2" opacity="0.55"/>
<line x1="307.68" x2="307.68" y1="75.91" y2="82.31" stroke="#8c8c8c" stroke-width="1.2" opacity="0.55"/>
<line x1="308.92" x2="308.92" y1="68.46" y2="74.86" stroke="#8c8c8c" stroke-width="1.2" opacity="0.55"/>
<line x1="310.78" x2="310.78" y1="62.25" y2="68.65" stroke="#8c8c8c" stroke-width="1.2" opacity="0.55"/>
<line x1="311.77" x2="311.77" y1="73.43" y2="79.83" stroke="#8c8c8c" stroke-width="1.2" opacity="0.55"/>
<line x1="312.64" x2="312.64" y1="80.88" y2="87.28" stroke="#8c8c8c" stroke-width="1.2" opacity="0.55"/>
<line x1="324.43" x2="324.43" y1="68.46" y2="74.86" stroke="#8c8c8c" stroke-width="1.2" opacity="0.55"/>
<line x1="325.67" x2="325.67" y1="88.33" y2="94.73" stroke="#8c8c8c" stroke-width="1.2" opacity="0.55"/>
<line x1="327.53" x2="327.53" y1="73.43" y2="79.83" stroke="#8c8c8c" stroke-width="1.2" opacity="0.55"/>
<line x1="329.39" x2="329.39" y1="65.98" y2="72.38" stroke="#8c8c8c" stroke-width="1.2" opacity="0.55"/>
<line x1="330.64" x2="330.64" y1="70.95" y2="77.35" stroke="#8c8c8c" stroke-width="1.2" opacity="0.55"/>
<line x1="332.5" x2="332.5" y1="85.84" y2="92.24" stroke="#8c8c8c" stroke-width="1.2" opacity="0.55"/>
<line x1="334.36" x2="334.36" y1="77.15" y2="83.55" stroke="#8c8c8c" stroke-width="1.2" opacity="0.55"/>
<line x1="335.6" x2="335.6" y1="65.98" y2="72.38" stroke="#8c8c8c" stroke-width="1.2" opacity="0.55"/>
<line x1="336.84" x2="336.84" y1="83.36" y2="89.76" stroke="#8c8c8c" stroke-width="1.2" opacity="0.55"/>
<line x1="338.08" x2="338.08" y1="80.88" y2="87.28" stroke="#8c8c8c" stroke-width="1.2" opacity="0.55"/>
<line x1="339.32" x2="339.32" y1="68.46" y2="74.86" stroke="#8c8c8c" stroke-width="1.2" opacity="0.55"/>
<line x1="341.8" x2="341.8" y1="65.98" y2="72.38" stroke="#8c8c8c" stroke-width="1.2" opacity="0.55"/>
<line x1="344.28" x2="344.28" y1="61.01" y2="67.41" stroke="#8c8c8c" stroke-width="1.2" opacity="0.55"/>
<line x1="346.77" x2="346.77" y1="59.77" y2="66.17" stroke="#8c8c8c" stroke-width="1.2" opacity="0.55"/>
<line x1="349.25" x2="349.25" y1="57.29" y2="63.69" stroke="#8c8c8c" stroke-width="1.2" opacity="0.55"/>
<line x1="351.11" x2="351.11" y1="54.81" y2="61.21" stroke="#8c8c8c" stroke-width="1.2" opacity="0.55"/>
<line x1="352.35" x2="352.35" y1="53.56" y2="59.96" stroke="#8c8c8c" stroke-width="1.2" opacity="0.55"/>
<line x1="353.59" x2="353.59" y1="54.81" y2="61.21" stroke="#8c8c8c" stroke-width="1.2" opacity="0.55"/>
<line x1="354.83" x2="354.83" y1="59.77" y2="66.17" stroke="#8c8c8c" stroke-width="1.2" opacity="0.55"/>
<line x1="356.07" x2="356.07" y1="65.98" y2="72.38" stroke="#8c8c8c" stroke-width="1.2" opacity="0.55"/>
<line x1="357.93" x2="357.93" y1="62.25" y2="68.65" stroke="#8c8c8c" stroke-width="1.2" opacity="0.55"/>
<line x1="360.42" x2="360.42" y1="61.01" y2="67.41" stroke="#8c8c8c" stroke-width="1.2" opacity="0.55"/>
<line x1="362.9" x2="362.9" y1="59.77" y2="66.17" stroke="#8c8c8c" stroke-width="1.2" opacity="0.55"/>
<line x1="364" x2="364" y1="61.01" y2="67.41" stroke="#8c8c8c" stroke-width="1.2" opacity="0.55"/>
<line x1="365.86" x2="365.86" y1="56.05" y2="62.45" stroke="#8c8c8c" stroke-width="1.2" opacity="0.55"/>
<line x1="367.1" x2="367.1" y1="58.53" y2="64.93" stroke="#8c8c8c" stroke-width="1.2" opacity="0.55"/>
<line x1="368.34" x2="368.34" y1="65.98" y2="72.38" stroke="#8c8c8c" stroke-width="1.2" opacity="0.55"/>
<line x1="369.58" x2="369.58" y1="69.7" y2="76.1" stroke="#8c8c8c" stroke-width="1.2" opacity="0.55"/>
<line x1="370.82" x2="370.82" y1="70.95" y2="77.35" stroke="#8c8c8c" stroke-width="1.2" opacity="0.55"/>
<line x1="372.69" x2="372.69" y1="64.74" y2="71.14" stroke="#8c8c8c" stroke-width="1.2" opacity="0.55"/>
<line x1="373.93" x2="373.93" y1="78.4" y2="84.8" stroke="#8c8c8c" stroke-width="1.2" opacity="0.55"/>
<line x1="375.17" x2="375.17" y1="63.5" y2="69.9" stroke="#8c8c8c" stroke-width="1.2" opacity="0.55"/>
<line x1="376.41" x2="376.41" y1="73.43" y2="79.83" stroke="#8c8c8c" stroke-width="1.2" opacity="0.55"/>
<line x1="377.65" x2="377.65" y1="62.25" y2="68.65" stroke="#8c8c8c" stroke-width="1.2" opacity="0.55"/>
<line x1="378.89" x2="378.89" y1="80.88" y2="87.28" stroke="#8c8c8c" stroke-width="1.2" opacity="0.55"/>
<line x1="380.13" x2="380.13" y1="72.19" y2="78.59" stroke="#8c8c8c" stroke-width="1.2" opacity="0.55"/>
<line x1="381.99" x2="381.99" y1="69.7" y2="76.1" stroke="#8c8c8c" stroke-width="1.2" opacity="0.55"/>
<line x1="383.85" x2="383.85" y1="68.46" y2="74.86" stroke="#8c8c8c" stroke-width="1.2" opacity="0.55"/>
<line x1="385.09" x2="385.09" y1="83.36" y2="89.76" stroke="#8c8c8c" stroke-width="1.2" opacity="0.55"/>
<line x1="386.34" x2="386.34" y1="62.25" y2="68.65" stroke="#8c8c8c" stroke-width="1.2" opacity="0.55"/>
<line x1="387.58" x2="387.58" y1="64.74" y2="71.14" stroke="#8c8c8c" stroke-width="1.2" opacity="0.55"/>
<line x1="388.82" x2="388.82" y1="69.7" y2="76.1" stroke="#8c8c8c" stroke-width="1.2" opacity="0.55"/>
<line x1="390.68" x2="390.68" y1="65.98" y2="72.38" stroke="#8c8c8c" stroke-width="1.2" opacity="0.55"/>
<line x1="392.54" x2="392.54" y1="64.74" y2="71.14" stroke="#8c8c8c" stroke-width="1.2" opacity="0.55"/>
<line x1="393.78" x2="393.78" y1="59.77" y2="66.17" stroke="#8c8c8c" stroke-width="1.2" opacity="0.55"/>
<line x1="395.64" x2="395.64" y1="70.95" y2="77.35" stroke="#8c8c8c" stroke-width="1.2" opacity="0.55"/>
<line x1="396.88" x2="396.88" y1="64.74" y2="71.14" stroke="#8c8c8c" stroke-width="1.2" opacity="0.55"/>
<line x1="398.74" x2="398.74" y1="61.01" y2="67.41" stroke="#8c8c8c" stroke-width="1.2" opacity="0.55"/>
<line x1="399.99" x2="399.99" y1="64.74" y2="71.14" stroke="#8c8c8c" stroke-width="1.2" opacity="0.55"/>
<line x1="401.23" x2="401.23" y1="64.74" y2="71.14" stroke="#8c8c8c" stroke-width="1.2" opacity="0.55"/>
<line x1="402.47" x2="402.47" y1="63.5" y2="69.9" stroke="#8c8c8c" stroke-width="1.2" opacity="0.55"/>
<line x1="404.33" x2="404.33" y1="65.98" y2="72.38" stroke="#8c8c8c" stroke-width="1.2" opacity="0.55"/>
<line x1="406.19" x2="406.19" y1="62.25" y2="68.65" stroke="#8c8c8c" stroke-width="1.2" opacity="0.55"/>
<line x1="408.05" x2="408.05" y1="58.53" y2="64.93" stroke="#8c8c8c" stroke-width="1.2" opacity="0.55"/>
<line x1="410.53" x2="410.53" y1="54.81" y2="61.21" stroke="#8c8c8c" stroke-width="1.2" opacity="0.55"/>
<line x1="412.39" x2="412.39" y1="58.53" y2="64.93" stroke="#8c8c8c" stroke-width="1.2" opacity="0.55"/>
<line x1="414.26" x2="414.26" y1="62.25" y2="68.65" stroke="#8c8c8c" stroke-width="1.2" opacity="0.55"/>
<line x1="416.12" x2="416.12" y1="59.77" y2="66.17" stroke="#8c8c8c" stroke-width="1.2" opacity="0.55"/>
<line x1="418.6" x2="418.6" y1="61.01" y2="67.41" stroke="#8c8c8c" stroke-width="1.2" opacity="0.55"/>
<line x1="419.84" x2="419.84" y1="63.5" y2="69.9" stroke="#8c8c8c" stroke-width="1.2" opacity="0.55"/>
<line x1="421.7" x2="421.7" y1="57.29" y2="63.69" stroke="#8c8c8c" stroke-width="1.2" opacity="0.55"/>
<line x1="422.94" x2="422.94" y1="58.53" y2="64.93" stroke="#8c8c8c" stroke-width="1.2" opacity="0.55"/>
<line x1="424.8" x2="424.8" y1="65.98" y2="72.38" stroke="#8c8c8c" stroke-width="1.2" opacity="0.55"/>
<line x1="426.66" x2="426.66" y1="70.95" y2="77.35" stroke="#8c8c8c" stroke-width="1.2" opacity="0.55"/>
<line x1="428.53" x2="428.53" y1="73.43" y2="79.83" stroke="#8c8c8c" stroke-width="1.2" opacity="0.55"/>
<line x1="430.39" x2="430.39" y1="59.77" y2="66.17" stroke="#8c8c8c" stroke-width="1.2" opacity="0.55"/>
<line x1="431.63" x2="431.63" y1="78.4" y2="84.8" stroke="#8c8c8c" stroke-width="1.2" opacity="0.55"/>
<line x1="432.87" x2="432.87" y1="77.15" y2="83.55" stroke="#8c8c8c" stroke-width="1.2" opacity="0.55"/>
<line x1="434.73" x2="434.73" y1="78.4" y2="84.8" stroke="#8c8c8c" stroke-width="1.2" opacity="0.55"/>
<line x1="435.97" x2="435.97" y1="83.36" y2="89.76" stroke="#8c8c8c" stroke-width="1.2" opacity="0.55"/>
<line x1="437.21" x2="437.21" y1="70.95" y2="77.35" stroke="#8c8c8c" stroke-width="1.2" opacity="0.55"/>
<line x1="438.45" x2="438.45" y1="53.56" y2="59.96" stroke="#8c8c8c" stroke-width="1.2" opacity="0.55"/>
<line x1="440.31" x2="440.31" y1="51.08" y2="57.48" stroke="#8c8c8c" stroke-width="1.2" opacity="0.55"/>
</g>
<rect x="281.5" y="23.6" width="167" height="88.8" fill="none" stroke="#6e6e6e" stroke-width="0.9"/>
<line x1="278.3" x2="281.5" y1="113" y2="113" stroke="#5e5e5e" stroke-width="1.1"/>
<text x="276" y="117.9" text-anchor="end" class="tk">0.00</text>
<line x1="278.3" x2="281.5" y1="90.62" y2="90.62" stroke="#5e5e5e" stroke-width="1.1"/>
<text x="276" y="95.53" text-anchor="end" class="tk">0.05</text>
<line x1="278.3" x2="281.5" y1="68.25" y2="68.25" stroke="#5e5e5e" stroke-width="1.1"/>
<text x="276" y="73.15" text-anchor="end" class="tk">0.10</text>
<line x1="278.3" x2="281.5" y1="45.88" y2="45.88" stroke="#5e5e5e" stroke-width="1.1"/>
<text x="276" y="50.78" text-anchor="end" class="tk">0.15</text>
<line x1="278.3" x2="281.5" y1="23.5" y2="23.5" stroke="#5e5e5e" stroke-width="1.1"/>
<text x="276" y="28.4" text-anchor="end" class="tk">0.20</text>
<line y1="112.4" y2="115.4" x1="314.1" x2="314.1" stroke="#5e5e5e" stroke-width="1.1"/>
<text x="314.1" y="127" text-anchor="middle" class="tkx">210</text>
<line y1="112.4" y2="115.4" x1="347.9" x2="347.9" stroke="#5e5e5e" stroke-width="1.1"/>
<text x="347.9" y="127" text-anchor="middle" class="tkx">230</text>
<line y1="112.4" y2="115.4" x1="381.7" x2="381.7" stroke="#5e5e5e" stroke-width="1.1"/>
<text x="381.7" y="127" text-anchor="middle" class="tkx">250</text>
<line y1="112.4" y2="115.4" x1="415.5" x2="415.5" stroke="#5e5e5e" stroke-width="1.1"/>
<text x="415.5" y="127" text-anchor="middle" class="tkx">270</text>
<text x="365" y="143.3" text-anchor="middle" class="ax">residues</text>
<text transform="translate(243,68) rotate(-90)" text-anchor="middle" class="ax">T<tspan font-size="8.8" dy="2.8">2</tspan><tspan dy="-2.8"> (s)</tspan></text>
<line x1="512.5" x2="679.5" y1="101.81" y2="101.81" stroke="#e5e5e5" stroke-width="0.6"/>
<line x1="512.5" x2="679.5" y1="79.44" y2="79.44" stroke="#e5e5e5" stroke-width="0.6"/>
<line x1="512.5" x2="679.5" y1="57.06" y2="57.06" stroke="#e5e5e5" stroke-width="0.6"/>
<line x1="512.5" x2="679.5" y1="34.69" y2="34.69" stroke="#e5e5e5" stroke-width="0.6"/>
<line y1="23.6" y2="112.4" x1="527.9" x2="527.9" stroke="#e5e5e5" stroke-width="0.6"/>
<line y1="23.6" y2="112.4" x1="561.9" x2="561.9" stroke="#e5e5e5" stroke-width="0.6"/>
<line y1="23.6" y2="112.4" x1="595.9" x2="595.9" stroke="#e5e5e5" stroke-width="0.6"/>
<line y1="23.6" y2="112.4" x1="629.9" x2="629.9" stroke="#e5e5e5" stroke-width="0.6"/>
<line y1="23.6" y2="112.4" x1="663.9" x2="663.9" stroke="#e5e5e5" stroke-width="0.6"/>
<line x1="512.5" x2="679.5" y1="90.62" y2="90.62" stroke="#cbcbcb" stroke-width="0.9"/>
<line x1="512.5" x2="679.5" y1="68.25" y2="68.25" stroke="#cbcbcb" stroke-width="0.9"/>
<line x1="512.5" x2="679.5" y1="45.88" y2="45.88" stroke="#cbcbcb" stroke-width="0.9"/>
<line y1="23.6" y2="112.4" x1="544.9" x2="544.9" stroke="#c4c4c4" stroke-width="0.9"/>
<line y1="23.6" y2="112.4" x1="578.9" x2="578.9" stroke="#c4c4c4" stroke-width="0.9"/>
<line y1="23.6" y2="112.4" x1="612.9" x2="612.9" stroke="#c4c4c4" stroke-width="0.9"/>
<line y1="23.6" y2="112.4" x1="646.9" x2="646.9" stroke="#c4c4c4" stroke-width="0.9"/>
<g clip-path="url(#c02)">
<polyline points="521.68,72.9 522.55,59.25 523.79,46.83 525.03,42.49 526.89,43.11 528.75,44.35 530.61,41.87 531.85,38.76 533.72,38.14 535.58,39.38 537.44,39.38 539.3,40.62 541.16,43.11 543.02,45.59 544.88,46.83 546.74,43.73 548.61,42.49 550.47,41.87 552.95,43.11 555.43,41.87 557.91,41.87 560.39,41.87 562.88,42.49 565.36,41.87 567.84,40.62 570.32,40.62 572.8,40.62 575.28,40.62 577.77,40 580.25,40.62 582.73,40.62 585.21,41.87 587.69,42.49 590.18,41.87 593.9,41.24 595,41.87 597.48,43.11 599.96,42.49 602.45,43.11 604.93,44.35 606.79,46.83 608.65,43.11 610.51,38.14 612.37,39.38 614.85,38.76 617.34,36.9 619.82,38.14 622.3,39.38 624.78,37.52 627.26,38.14 629.74,39.38 632.23,40.62 634.71,41.87 637.19,42.49 639.67,43.11 642.15,43.11 644.64,46.83 646.5,54.28 647.74,48.07 649.6,41.24 652.08,40.62 654.56,40.62 657.04,41.24 659.53,40.62 662.01,41.87 663.87,44.35 665.11,53.04 666.35,61.73 667.59,71.66 668.83,80.35 669.45,91.53 670.07,110.15" fill="none" stroke="#e6c7a2" stroke-width="1.7" stroke-linejoin="round" stroke-linecap="round" opacity="1"/>
<line x1="553.94" x2="553.94" y1="55.52" y2="69.8" stroke="#9a9a9a" stroke-width="0.9"/>
<line x1="555.43" x2="555.43" y1="30.69" y2="53.04" stroke="#9a9a9a" stroke-width="0.9"/>
<line x1="558.91" x2="558.91" y1="24.48" y2="54.28" stroke="#9a9a9a" stroke-width="0.9"/>
<line x1="569.08" x2="569.08" y1="46.83" y2="53.66" stroke="#9a9a9a" stroke-width="0.9"/>
<line x1="589.55" x2="589.55" y1="51.8" y2="59.25" stroke="#9a9a9a" stroke-width="0.9"/>
<line x1="665.73" x2="665.73" y1="29.45" y2="50.56" stroke="#9a9a9a" stroke-width="0.9"/>
<line x1="666.97" x2="666.97" y1="56.76" y2="70.42" stroke="#9a9a9a" stroke-width="0.9"/>
<polyline points="519.69,49.31 520.69,40.62 521.93,38.14 523.79,38.14 525.03,36.9 526.27,43.11 527.51,41.87 528.75,35.66 529.99,26.97 531.23,34.42 532.47,35.66 533.72,38.14 534.96,50.56 536.2,36.9 538.06,38.14 539.92,36.28 541.78,33.79 543.02,39.38 543.64,53.66 544.88,48.07 554.19,54.9 555.43,36.9 557.29,38.14 559.15,34.42 560.39,30.69 561.64,33.17 562.88,40.62 564.12,39.38 565.36,43.11 566.6,39.38 567.84,40.62 569.08,49.31 570.32,39.38 571.56,36.9 572.8,28.21 574.04,45.59 575.28,43.11 576.53,36.9 577.77,34.42 579.01,28.21 580.87,40.62 582.73,45.59 583.97,43.11 585.21,38.14 587.07,31.93 588.31,34.42 589.55,55.52 590.8,36.9 592.04,35.66 593.28,40.62 594.52,35.66 595,34.42 596.24,36.9 597.48,43.11 598.72,34.42 599.96,38.14 601.2,40.62 602.45,38.14 603.69,41.87 604.93,43.11 606.17,25.72 607.41,34.42 608.65,40.62 609.64,44.97 611.13,30.69 612.37,34.42 613.61,36.9 614.85,38.14 616.72,35.66 617.96,31.93 619.2,35.66 621.06,40.62 622.3,38.14 624.16,35.66 626.02,30.69 627.26,35.66 628.5,40.62 630.36,39.38 631.61,38.14 632.85,41.87 634.09,33.17 634.96,28.21 635.95,31.93 637.19,36.9 638.43,40.62 640.29,40 642.15,41.87 644.01,46.83 645.26,51.8 646.5,54.9 647.74,49.31 648.98,41.87 650.22,38.14 652.08,36.9 653.94,36.28 655.8,36.9 657.66,37.52 659.53,38.76 661.39,40 663.25,40.62 664.49,39.38 665.73,34.42 666.35,48.07 666.97,61.73 668.21,58.01 669.45,58.01 670.07,71.66 670.94,89.67" fill="none" stroke="#161616" stroke-width="2.7" stroke-linejoin="round" stroke-linecap="round" opacity="1"/>
<circle cx="519.69" cy="49.31" r="1.6" fill="#2a2a2a" stroke="#7a7a7a" stroke-width="0.5"/>
<circle cx="520.69" cy="40.62" r="1.6" fill="#2a2a2a" stroke="#7a7a7a" stroke-width="0.5"/>
<circle cx="521.93" cy="38.14" r="1.6" fill="#2a2a2a" stroke="#7a7a7a" stroke-width="0.5"/>
<circle cx="523.79" cy="38.14" r="1.6" fill="#2a2a2a" stroke="#7a7a7a" stroke-width="0.5"/>
<circle cx="525.03" cy="36.9" r="1.6" fill="#2a2a2a" stroke="#7a7a7a" stroke-width="0.5"/>
<circle cx="526.27" cy="43.11" r="1.6" fill="#2a2a2a" stroke="#7a7a7a" stroke-width="0.5"/>
<circle cx="527.51" cy="41.87" r="1.6" fill="#2a2a2a" stroke="#7a7a7a" stroke-width="0.5"/>
<circle cx="528.75" cy="35.66" r="1.6" fill="#2a2a2a" stroke="#7a7a7a" stroke-width="0.5"/>
<circle cx="529.99" cy="26.97" r="1.6" fill="#2a2a2a" stroke="#7a7a7a" stroke-width="0.5"/>
<circle cx="531.23" cy="34.42" r="1.6" fill="#2a2a2a" stroke="#7a7a7a" stroke-width="0.5"/>
<circle cx="532.47" cy="35.66" r="1.6" fill="#2a2a2a" stroke="#7a7a7a" stroke-width="0.5"/>
<circle cx="533.72" cy="38.14" r="1.6" fill="#2a2a2a" stroke="#7a7a7a" stroke-width="0.5"/>
<circle cx="534.96" cy="50.56" r="1.6" fill="#2a2a2a" stroke="#7a7a7a" stroke-width="0.5"/>
<circle cx="536.2" cy="36.9" r="1.6" fill="#2a2a2a" stroke="#7a7a7a" stroke-width="0.5"/>
<circle cx="538.06" cy="38.14" r="1.6" fill="#2a2a2a" stroke="#7a7a7a" stroke-width="0.5"/>
<circle cx="539.92" cy="36.28" r="1.6" fill="#2a2a2a" stroke="#7a7a7a" stroke-width="0.5"/>
<circle cx="541.78" cy="33.79" r="1.6" fill="#2a2a2a" stroke="#7a7a7a" stroke-width="0.5"/>
<circle cx="543.02" cy="39.38" r="1.6" fill="#2a2a2a" stroke="#7a7a7a" stroke-width="0.5"/>
<circle cx="543.64" cy="53.66" r="1.6" fill="#2a2a2a" stroke="#7a7a7a" stroke-width="0.5"/>
<circle cx="544.88" cy="48.07" r="1.6" fill="#2a2a2a" stroke="#7a7a7a" stroke-width="0.5"/>
<circle cx="554.19" cy="54.9" r="1.6" fill="#2a2a2a" stroke="#7a7a7a" stroke-width="0.5"/>
<circle cx="555.43" cy="36.9" r="1.6" fill="#2a2a2a" stroke="#7a7a7a" stroke-width="0.5"/>
<circle cx="557.29" cy="38.14" r="1.6" fill="#2a2a2a" stroke="#7a7a7a" stroke-width="0.5"/>
<circle cx="559.15" cy="34.42" r="1.6" fill="#2a2a2a" stroke="#7a7a7a" stroke-width="0.5"/>
<circle cx="560.39" cy="30.69" r="1.6" fill="#2a2a2a" stroke="#7a7a7a" stroke-width="0.5"/>
<circle cx="561.64" cy="33.17" r="1.6" fill="#2a2a2a" stroke="#7a7a7a" stroke-width="0.5"/>
<circle cx="562.88" cy="40.62" r="1.6" fill="#2a2a2a" stroke="#7a7a7a" stroke-width="0.5"/>
<circle cx="564.12" cy="39.38" r="1.6" fill="#2a2a2a" stroke="#7a7a7a" stroke-width="0.5"/>
<circle cx="565.36" cy="43.11" r="1.6" fill="#2a2a2a" stroke="#7a7a7a" stroke-width="0.5"/>
<circle cx="566.6" cy="39.38" r="1.6" fill="#2a2a2a" stroke="#7a7a7a" stroke-width="0.5"/>
<circle cx="567.84" cy="40.62" r="1.6" fill="#2a2a2a" stroke="#7a7a7a" stroke-width="0.5"/>
<circle cx="569.08" cy="49.31" r="1.6" fill="#2a2a2a" stroke="#7a7a7a" stroke-width="0.5"/>
<circle cx="570.32" cy="39.38" r="1.6" fill="#2a2a2a" stroke="#7a7a7a" stroke-width="0.5"/>
<circle cx="571.56" cy="36.9" r="1.6" fill="#2a2a2a" stroke="#7a7a7a" stroke-width="0.5"/>
<circle cx="572.8" cy="28.21" r="1.6" fill="#2a2a2a" stroke="#7a7a7a" stroke-width="0.5"/>
<circle cx="574.04" cy="45.59" r="1.6" fill="#2a2a2a" stroke="#7a7a7a" stroke-width="0.5"/>
<circle cx="575.28" cy="43.11" r="1.6" fill="#2a2a2a" stroke="#7a7a7a" stroke-width="0.5"/>
<circle cx="576.53" cy="36.9" r="1.6" fill="#2a2a2a" stroke="#7a7a7a" stroke-width="0.5"/>
<circle cx="577.77" cy="34.42" r="1.6" fill="#2a2a2a" stroke="#7a7a7a" stroke-width="0.5"/>
<circle cx="579.01" cy="28.21" r="1.6" fill="#2a2a2a" stroke="#7a7a7a" stroke-width="0.5"/>
<circle cx="580.87" cy="40.62" r="1.6" fill="#2a2a2a" stroke="#7a7a7a" stroke-width="0.5"/>
<circle cx="582.73" cy="45.59" r="1.6" fill="#2a2a2a" stroke="#7a7a7a" stroke-width="0.5"/>
<circle cx="583.97" cy="43.11" r="1.6" fill="#2a2a2a" stroke="#7a7a7a" stroke-width="0.5"/>
<circle cx="585.21" cy="38.14" r="1.6" fill="#2a2a2a" stroke="#7a7a7a" stroke-width="0.5"/>
<circle cx="587.07" cy="31.93" r="1.6" fill="#2a2a2a" stroke="#7a7a7a" stroke-width="0.5"/>
<circle cx="588.31" cy="34.42" r="1.6" fill="#2a2a2a" stroke="#7a7a7a" stroke-width="0.5"/>
<circle cx="589.55" cy="55.52" r="1.6" fill="#2a2a2a" stroke="#7a7a7a" stroke-width="0.5"/>
<circle cx="590.8" cy="36.9" r="1.6" fill="#2a2a2a" stroke="#7a7a7a" stroke-width="0.5"/>
<circle cx="592.04" cy="35.66" r="1.6" fill="#2a2a2a" stroke="#7a7a7a" stroke-width="0.5"/>
<circle cx="593.28" cy="40.62" r="1.6" fill="#2a2a2a" stroke="#7a7a7a" stroke-width="0.5"/>
<circle cx="594.52" cy="35.66" r="1.6" fill="#2a2a2a" stroke="#7a7a7a" stroke-width="0.5"/>
<circle cx="595" cy="34.42" r="1.6" fill="#2a2a2a" stroke="#7a7a7a" stroke-width="0.5"/>
<circle cx="596.24" cy="36.9" r="1.6" fill="#2a2a2a" stroke="#7a7a7a" stroke-width="0.5"/>
<circle cx="597.48" cy="43.11" r="1.6" fill="#2a2a2a" stroke="#7a7a7a" stroke-width="0.5"/>
<circle cx="598.72" cy="34.42" r="1.6" fill="#2a2a2a" stroke="#7a7a7a" stroke-width="0.5"/>
<circle cx="599.96" cy="38.14" r="1.6" fill="#2a2a2a" stroke="#7a7a7a" stroke-width="0.5"/>
<circle cx="601.2" cy="40.62" r="1.6" fill="#2a2a2a" stroke="#7a7a7a" stroke-width="0.5"/>
<circle cx="602.45" cy="38.14" r="1.6" fill="#2a2a2a" stroke="#7a7a7a" stroke-width="0.5"/>
<circle cx="603.69" cy="41.87" r="1.6" fill="#2a2a2a" stroke="#7a7a7a" stroke-width="0.5"/>
<circle cx="604.93" cy="43.11" r="1.6" fill="#2a2a2a" stroke="#7a7a7a" stroke-width="0.5"/>
<circle cx="606.17" cy="25.72" r="1.6" fill="#2a2a2a" stroke="#7a7a7a" stroke-width="0.5"/>
<circle cx="607.41" cy="34.42" r="1.6" fill="#2a2a2a" stroke="#7a7a7a" stroke-width="0.5"/>
<circle cx="608.65" cy="40.62" r="1.6" fill="#2a2a2a" stroke="#7a7a7a" stroke-width="0.5"/>
<circle cx="609.64" cy="44.97" r="1.6" fill="#2a2a2a" stroke="#7a7a7a" stroke-width="0.5"/>
<circle cx="611.13" cy="30.69" r="1.6" fill="#2a2a2a" stroke="#7a7a7a" stroke-width="0.5"/>
<circle cx="612.37" cy="34.42" r="1.6" fill="#2a2a2a" stroke="#7a7a7a" stroke-width="0.5"/>
<circle cx="613.61" cy="36.9" r="1.6" fill="#2a2a2a" stroke="#7a7a7a" stroke-width="0.5"/>
<circle cx="614.85" cy="38.14" r="1.6" fill="#2a2a2a" stroke="#7a7a7a" stroke-width="0.5"/>
<circle cx="616.72" cy="35.66" r="1.6" fill="#2a2a2a" stroke="#7a7a7a" stroke-width="0.5"/>
<circle cx="617.96" cy="31.93" r="1.6" fill="#2a2a2a" stroke="#7a7a7a" stroke-width="0.5"/>
<circle cx="619.2" cy="35.66" r="1.6" fill="#2a2a2a" stroke="#7a7a7a" stroke-width="0.5"/>
<circle cx="621.06" cy="40.62" r="1.6" fill="#2a2a2a" stroke="#7a7a7a" stroke-width="0.5"/>
<circle cx="622.3" cy="38.14" r="1.6" fill="#2a2a2a" stroke="#7a7a7a" stroke-width="0.5"/>
<circle cx="624.16" cy="35.66" r="1.6" fill="#2a2a2a" stroke="#7a7a7a" stroke-width="0.5"/>
<circle cx="626.02" cy="30.69" r="1.6" fill="#2a2a2a" stroke="#7a7a7a" stroke-width="0.5"/>
<circle cx="627.26" cy="35.66" r="1.6" fill="#2a2a2a" stroke="#7a7a7a" stroke-width="0.5"/>
<circle cx="628.5" cy="40.62" r="1.6" fill="#2a2a2a" stroke="#7a7a7a" stroke-width="0.5"/>
<circle cx="630.36" cy="39.38" r="1.6" fill="#2a2a2a" stroke="#7a7a7a" stroke-width="0.5"/>
<circle cx="631.61" cy="38.14" r="1.6" fill="#2a2a2a" stroke="#7a7a7a" stroke-width="0.5"/>
<circle cx="632.85" cy="41.87" r="1.6" fill="#2a2a2a" stroke="#7a7a7a" stroke-width="0.5"/>
<circle cx="634.09" cy="33.17" r="1.6" fill="#2a2a2a" stroke="#7a7a7a" stroke-width="0.5"/>
<circle cx="634.96" cy="28.21" r="1.6" fill="#2a2a2a" stroke="#7a7a7a" stroke-width="0.5"/>
<circle cx="635.95" cy="31.93" r="1.6" fill="#2a2a2a" stroke="#7a7a7a" stroke-width="0.5"/>
<circle cx="637.19" cy="36.9" r="1.6" fill="#2a2a2a" stroke="#7a7a7a" stroke-width="0.5"/>
<circle cx="638.43" cy="40.62" r="1.6" fill="#2a2a2a" stroke="#7a7a7a" stroke-width="0.5"/>
<circle cx="640.29" cy="40" r="1.6" fill="#2a2a2a" stroke="#7a7a7a" stroke-width="0.5"/>
<circle cx="642.15" cy="41.87" r="1.6" fill="#2a2a2a" stroke="#7a7a7a" stroke-width="0.5"/>
<circle cx="644.01" cy="46.83" r="1.6" fill="#2a2a2a" stroke="#7a7a7a" stroke-width="0.5"/>
<circle cx="645.26" cy="51.8" r="1.6" fill="#2a2a2a" stroke="#7a7a7a" stroke-width="0.5"/>
<circle cx="646.5" cy="54.9" r="1.6" fill="#2a2a2a" stroke="#7a7a7a" stroke-width="0.5"/>
<circle cx="647.74" cy="49.31" r="1.6" fill="#2a2a2a" stroke="#7a7a7a" stroke-width="0.5"/>
<circle cx="648.98" cy="41.87" r="1.6" fill="#2a2a2a" stroke="#7a7a7a" stroke-width="0.5"/>
<circle cx="650.22" cy="38.14" r="1.6" fill="#2a2a2a" stroke="#7a7a7a" stroke-width="0.5"/>
<circle cx="652.08" cy="36.9" r="1.6" fill="#2a2a2a" stroke="#7a7a7a" stroke-width="0.5"/>
<circle cx="653.94" cy="36.28" r="1.6" fill="#2a2a2a" stroke="#7a7a7a" stroke-width="0.5"/>
<circle cx="655.8" cy="36.9" r="1.6" fill="#2a2a2a" stroke="#7a7a7a" stroke-width="0.5"/>
<circle cx="657.66" cy="37.52" r="1.6" fill="#2a2a2a" stroke="#7a7a7a" stroke-width="0.5"/>
<circle cx="659.53" cy="38.76" r="1.6" fill="#2a2a2a" stroke="#7a7a7a" stroke-width="0.5"/>
<circle cx="661.39" cy="40" r="1.6" fill="#2a2a2a" stroke="#7a7a7a" stroke-width="0.5"/>
<circle cx="663.25" cy="40.62" r="1.6" fill="#2a2a2a" stroke="#7a7a7a" stroke-width="0.5"/>
<circle cx="664.49" cy="39.38" r="1.6" fill="#2a2a2a" stroke="#7a7a7a" stroke-width="0.5"/>
<circle cx="665.73" cy="34.42" r="1.6" fill="#2a2a2a" stroke="#7a7a7a" stroke-width="0.5"/>
<circle cx="666.35" cy="48.07" r="1.6" fill="#2a2a2a" stroke="#7a7a7a" stroke-width="0.5"/>
<circle cx="666.97" cy="61.73" r="1.6" fill="#2a2a2a" stroke="#7a7a7a" stroke-width="0.5"/>
<circle cx="668.21" cy="58.01" r="1.6" fill="#2a2a2a" stroke="#7a7a7a" stroke-width="0.5"/>
<circle cx="669.45" cy="58.01" r="1.6" fill="#2a2a2a" stroke="#7a7a7a" stroke-width="0.5"/>
<circle cx="670.07" cy="71.66" r="1.6" fill="#2a2a2a" stroke="#7a7a7a" stroke-width="0.5"/>
<circle cx="670.94" cy="89.67" r="1.6" fill="#2a2a2a" stroke="#7a7a7a" stroke-width="0.5"/>
</g>
<rect x="512.5" y="23.6" width="167" height="88.8" fill="none" stroke="#6e6e6e" stroke-width="0.9"/>
<line x1="509.3" x2="512.5" y1="113" y2="113" stroke="#5e5e5e" stroke-width="1.1"/>
<text x="507.2" y="117.9" text-anchor="end" class="tk">0.00</text>
<line x1="509.3" x2="512.5" y1="90.62" y2="90.62" stroke="#5e5e5e" stroke-width="1.1"/>
<text x="507.2" y="95.53" text-anchor="end" class="tk">0.25</text>
<line x1="509.3" x2="512.5" y1="68.25" y2="68.25" stroke="#5e5e5e" stroke-width="1.1"/>
<text x="507.2" y="73.15" text-anchor="end" class="tk">0.50</text>
<line x1="509.3" x2="512.5" y1="45.88" y2="45.88" stroke="#5e5e5e" stroke-width="1.1"/>
<text x="507.2" y="50.77" text-anchor="end" class="tk">0.75</text>
<line x1="509.3" x2="512.5" y1="23.5" y2="23.5" stroke="#5e5e5e" stroke-width="1.1"/>
<text x="507.2" y="28.4" text-anchor="end" class="tk">1.00</text>
<line y1="112.4" y2="115.4" x1="544.9" x2="544.9" stroke="#5e5e5e" stroke-width="1.1"/>
<text x="544.9" y="127" text-anchor="middle" class="tkx">210</text>
<line y1="112.4" y2="115.4" x1="578.9" x2="578.9" stroke="#5e5e5e" stroke-width="1.1"/>
<text x="578.9" y="127" text-anchor="middle" class="tkx">230</text>
<line y1="112.4" y2="115.4" x1="612.9" x2="612.9" stroke="#5e5e5e" stroke-width="1.1"/>
<text x="612.9" y="127" text-anchor="middle" class="tkx">250</text>
<line y1="112.4" y2="115.4" x1="646.9" x2="646.9" stroke="#5e5e5e" stroke-width="1.1"/>
<text x="646.9" y="127" text-anchor="middle" class="tkx">270</text>
<text x="596" y="143.3" text-anchor="middle" class="ax">residues</text>
<text transform="translate(474.6,68) rotate(-90)" text-anchor="middle" class="ax">hetNOE</text>
<text x="50.5" y="13.8" class="ti">TonBCTD</text>
<line x1="50.5" x2="217.5" y1="253.12" y2="253.12" stroke="#e5e5e5" stroke-width="0.6"/>
<line x1="50.5" x2="217.5" y1="235.16" y2="235.16" stroke="#e5e5e5" stroke-width="0.6"/>
<line x1="50.5" x2="217.5" y1="217.2" y2="217.2" stroke="#e5e5e5" stroke-width="0.6"/>
<line x1="50.5" x2="217.5" y1="199.24" y2="199.24" stroke="#e5e5e5" stroke-width="0.6"/>
<line x1="50.5" x2="217.5" y1="181.28" y2="181.28" stroke="#e5e5e5" stroke-width="0.6"/>
<line y1="172.4" y2="261.5" x1="81.5" x2="81.5" stroke="#e5e5e5" stroke-width="0.6"/>
<line y1="172.4" y2="261.5" x1="133.7" x2="133.7" stroke="#e5e5e5" stroke-width="0.6"/>
<line y1="172.4" y2="261.5" x1="185.9" x2="185.9" stroke="#e5e5e5" stroke-width="0.6"/>
<line x1="50.5" x2="217.5" y1="244.14" y2="244.14" stroke="#cbcbcb" stroke-width="0.9"/>
<line x1="50.5" x2="217.5" y1="226.18" y2="226.18" stroke="#cbcbcb" stroke-width="0.9"/>
<line x1="50.5" x2="217.5" y1="208.22" y2="208.22" stroke="#cbcbcb" stroke-width="0.9"/>
<line x1="50.5" x2="217.5" y1="190.26" y2="190.26" stroke="#cbcbcb" stroke-width="0.9"/>
<line y1="172.4" y2="261.5" x1="55.4" x2="55.4" stroke="#c4c4c4" stroke-width="0.9"/>
<line y1="172.4" y2="261.5" x1="107.6" x2="107.6" stroke="#c4c4c4" stroke-width="0.9"/>
<line y1="172.4" y2="261.5" x1="159.8" x2="159.8" stroke="#c4c4c4" stroke-width="0.9"/>
<line y1="172.4" y2="261.5" x1="212" x2="212" stroke="#c4c4c4" stroke-width="0.9"/>
<g clip-path="url(#c10)">
<polyline points="57.45,209.73 58.69,227.12 59.93,217.18 61.17,212.22 62.41,202.28 63.65,209.73 64.89,215.94 66.75,199.8 67.99,210.97 69.23,210.97 70.85,200.42 72.34,209.73 73.82,202.28 74.82,206.01 76.06,209.73 77.3,212.22 78.54,210.97 79.78,217.18 81.02,225.87 82.26,213.46 83.5,218.42 84.74,222.15 85.99,213.46 87.23,217.18 88.47,223.39 89.71,215.94 90.95,224.63 92.19,219.67 93.43,225.87 94.67,217.18 95.91,210.97 97.15,196.07 98.39,202.28 99.64,212.22 100.88,217.18 102.12,223.39 103.36,228.36 104.6,230.84 105.84,227.12 107.08,222.15 108.32,229.6 109.56,222.15 110.8,219.67 112.04,225.87 113.28,219.67 113.91,208.49 115.15,214.7 116.39,217.18 117.63,218.42 118.87,212.22 120.11,225.87 121.35,219.67 122.59,213.46 123.83,207.25 125.07,202.28 126.31,209.73 127.55,202.28 128.8,207.25 130.04,210.97 131.9,201.04 134.24,219.67 135.48,228.36 136.72,232.08 137.96,224.63 139.2,229.6 140.45,208.49 141.69,217.18 142.93,212.22 144.17,220.91 145.41,212.22 146.65,222.15 147.89,209.73 149.13,220.91 150.37,224.63 151.61,232.08 152.85,234.57 154.09,223.39 155.34,217.18 156.58,215.94 157.82,217.18 159.06,218.42 160.3,223.39 161.54,232.08 162.78,229.6 164.02,232.08 165.26,232.08 166.5,233.32 167.74,232.08 168.99,233.32 170.23,225.87 171.47,217.18 172.71,218.42 173.95,227.12 175.19,219.67 176.43,212.22 177.67,219.67 178.91,227.12 180.15,223.39 181.39,232.08 182.64,228.36 183.88,227.12 185.12,232.08 186.36,228.36 187.6,223.39 188.84,215.94 190.08,219.67 191.32,229.6 192.56,225.87 193.8,234.57 195.04,222.15 196.28,219.67 197.53,224.63 198.77,218.42 200.01,223.39 201.25,225.87 202.49,228.36 203.73,223.39 204.97,229.6 206.21,220.91 207.45,227.12 208.69,232.08 209.93,234.57" fill="none" stroke="#3f7fa6" stroke-width="1.7" stroke-linejoin="round" stroke-linecap="round" opacity="1"/>
<polyline points="58.07,215.32 59.31,217.18 60.55,232.08 61.79,219.67 63.03,222.15 64.27,224.63 65.51,220.91 66.75,224.63 67.99,230.22 69.23,223.39 70.47,219.67 71.72,227.12 72.96,218.42 74.2,219.67 75.44,217.18 76.68,222.15 77.92,213.46 79.16,214.7 80.4,223.39 81.02,234.57 82.26,222.15 83.5,234.57 84.74,237.05 85.99,223.39 87.23,234.57 88.47,225.87 89.71,229.6 90.95,223.39 92.19,239.53 93.43,225.87 94.67,237.05 95.91,219.67 97.15,212.22 98.39,209.73 99.39,194.83 100.63,213.46 101.87,232.08 103.36,234.57 104.6,237.05 106.46,237.05 108.32,239.53 109.56,237.05 111.42,235.81 113.28,233.32 114.53,222.15 115.77,222.15 117.63,219.67 118.87,223.39 120.11,240.77 121.35,227.12 122.59,233.32 123.83,214.7 125.69,213.46 126.93,215.94 128.18,210.97 129.42,219.67 130.66,222.15 131.9,215.94 134.24,223.39 135.48,224.63 136.72,222.15 137.96,218.42 139.2,222.15 140.45,223.39 141.69,224.63 142.93,227.12 144.17,224.63 145.41,222.15 146.65,237.05 147.89,222.15 149.13,227.12 150.37,243.26 151.61,225.87 152.61,215.94 153.85,227.12 155.34,235.81 156.58,233.32 157.82,234.57 159.06,238.29 160.3,234.57 161.54,230.84 162.78,229.6 164.02,230.84 165.88,223.39 167.74,232.08 168.99,230.84 170.23,230.84 171.22,239.53 172.46,220.91 173.33,235.81 174.57,232.08 175.81,240.77 176.43,227.12 177.67,237.05 178.91,234.57 180.15,234.57 181.39,234.57 182.64,237.05 183.88,234.57 185.12,240.77 186.36,235.81 187.6,242.02 188.84,232.08 190.08,222.15 191.32,234.57 192.56,229.6 193.8,229.6 195.04,240.77 196.28,228.36 197.53,234.57 198.77,245.74 200.01,246.98 201.25,239.53 202.49,242.02 203.73,237.05 204.97,232.08 206.21,239.53 207.45,240.77 208.69,229.6 209.93,219.67" fill="none" stroke="#161616" stroke-width="2.8" stroke-linejoin="round" stroke-linecap="round" opacity="1"/>
<circle cx="58.07" cy="215.32" r="1.7" fill="#161616" stroke="none" stroke-width="0"/>
<circle cx="59.31" cy="217.18" r="1.7" fill="#161616" stroke="none" stroke-width="0"/>
<circle cx="60.55" cy="232.08" r="1.7" fill="#161616" stroke="none" stroke-width="0"/>
<circle cx="61.79" cy="219.67" r="1.7" fill="#161616" stroke="none" stroke-width="0"/>
<circle cx="63.03" cy="222.15" r="1.7" fill="#161616" stroke="none" stroke-width="0"/>
<circle cx="64.27" cy="224.63" r="1.7" fill="#161616" stroke="none" stroke-width="0"/>
<circle cx="65.51" cy="220.91" r="1.7" fill="#161616" stroke="none" stroke-width="0"/>
<circle cx="66.75" cy="224.63" r="1.7" fill="#161616" stroke="none" stroke-width="0"/>
<circle cx="67.99" cy="230.22" r="1.7" fill="#161616" stroke="none" stroke-width="0"/>
<circle cx="69.23" cy="223.39" r="1.7" fill="#161616" stroke="none" stroke-width="0"/>
<circle cx="70.47" cy="219.67" r="1.7" fill="#161616" stroke="none" stroke-width="0"/>
<circle cx="71.72" cy="227.12" r="1.7" fill="#161616" stroke="none" stroke-width="0"/>
<circle cx="72.96" cy="218.42" r="1.7" fill="#161616" stroke="none" stroke-width="0"/>
<circle cx="74.2" cy="219.67" r="1.7" fill="#161616" stroke="none" stroke-width="0"/>
<circle cx="75.44" cy="217.18" r="1.7" fill="#161616" stroke="none" stroke-width="0"/>
<circle cx="76.68" cy="222.15" r="1.7" fill="#161616" stroke="none" stroke-width="0"/>
<circle cx="77.92" cy="213.46" r="1.7" fill="#161616" stroke="none" stroke-width="0"/>
<circle cx="79.16" cy="214.7" r="1.7" fill="#161616" stroke="none" stroke-width="0"/>
<circle cx="80.4" cy="223.39" r="1.7" fill="#161616" stroke="none" stroke-width="0"/>
<circle cx="81.02" cy="234.57" r="1.7" fill="#161616" stroke="none" stroke-width="0"/>
<circle cx="82.26" cy="222.15" r="1.7" fill="#161616" stroke="none" stroke-width="0"/>
<circle cx="83.5" cy="234.57" r="1.7" fill="#161616" stroke="none" stroke-width="0"/>
<circle cx="84.74" cy="237.05" r="1.7" fill="#161616" stroke="none" stroke-width="0"/>
<circle cx="85.99" cy="223.39" r="1.7" fill="#161616" stroke="none" stroke-width="0"/>
<circle cx="87.23" cy="234.57" r="1.7" fill="#161616" stroke="none" stroke-width="0"/>
<circle cx="88.47" cy="225.87" r="1.7" fill="#161616" stroke="none" stroke-width="0"/>
<circle cx="89.71" cy="229.6" r="1.7" fill="#161616" stroke="none" stroke-width="0"/>
<circle cx="90.95" cy="223.39" r="1.7" fill="#161616" stroke="none" stroke-width="0"/>
<circle cx="92.19" cy="239.53" r="1.7" fill="#161616" stroke="none" stroke-width="0"/>
<circle cx="93.43" cy="225.87" r="1.7" fill="#161616" stroke="none" stroke-width="0"/>
<circle cx="94.67" cy="237.05" r="1.7" fill="#161616" stroke="none" stroke-width="0"/>
<circle cx="95.91" cy="219.67" r="1.7" fill="#161616" stroke="none" stroke-width="0"/>
<circle cx="97.15" cy="212.22" r="1.7" fill="#161616" stroke="none" stroke-width="0"/>
<circle cx="98.39" cy="209.73" r="1.7" fill="#161616" stroke="none" stroke-width="0"/>
<circle cx="99.39" cy="194.83" r="1.7" fill="#161616" stroke="none" stroke-width="0"/>
<circle cx="100.63" cy="213.46" r="1.7" fill="#161616" stroke="none" stroke-width="0"/>
<circle cx="101.87" cy="232.08" r="1.7" fill="#161616" stroke="none" stroke-width="0"/>
<circle cx="103.36" cy="234.57" r="1.7" fill="#161616" stroke="none" stroke-width="0"/>
<circle cx="104.6" cy="237.05" r="1.7" fill="#161616" stroke="none" stroke-width="0"/>
<circle cx="106.46" cy="237.05" r="1.7" fill="#161616" stroke="none" stroke-width="0"/>
<circle cx="108.32" cy="239.53" r="1.7" fill="#161616" stroke="none" stroke-width="0"/>
<circle cx="109.56" cy="237.05" r="1.7" fill="#161616" stroke="none" stroke-width="0"/>
<circle cx="111.42" cy="235.81" r="1.7" fill="#161616" stroke="none" stroke-width="0"/>
<circle cx="113.28" cy="233.32" r="1.7" fill="#161616" stroke="none" stroke-width="0"/>
<circle cx="114.53" cy="222.15" r="1.7" fill="#161616" stroke="none" stroke-width="0"/>
<circle cx="115.77" cy="222.15" r="1.7" fill="#161616" stroke="none" stroke-width="0"/>
<circle cx="117.63" cy="219.67" r="1.7" fill="#161616" stroke="none" stroke-width="0"/>
<circle cx="118.87" cy="223.39" r="1.7" fill="#161616" stroke="none" stroke-width="0"/>
<circle cx="120.11" cy="240.77" r="1.7" fill="#161616" stroke="none" stroke-width="0"/>
<circle cx="121.35" cy="227.12" r="1.7" fill="#161616" stroke="none" stroke-width="0"/>
<circle cx="122.59" cy="233.32" r="1.7" fill="#161616" stroke="none" stroke-width="0"/>
<circle cx="123.83" cy="214.7" r="1.7" fill="#161616" stroke="none" stroke-width="0"/>
<circle cx="125.69" cy="213.46" r="1.7" fill="#161616" stroke="none" stroke-width="0"/>
<circle cx="126.93" cy="215.94" r="1.7" fill="#161616" stroke="none" stroke-width="0"/>
<circle cx="128.18" cy="210.97" r="1.7" fill="#161616" stroke="none" stroke-width="0"/>
<circle cx="129.42" cy="219.67" r="1.7" fill="#161616" stroke="none" stroke-width="0"/>
<circle cx="130.66" cy="222.15" r="1.7" fill="#161616" stroke="none" stroke-width="0"/>
<circle cx="131.9" cy="215.94" r="1.7" fill="#161616" stroke="none" stroke-width="0"/>
<circle cx="134.24" cy="223.39" r="1.7" fill="#161616" stroke="none" stroke-width="0"/>
<circle cx="135.48" cy="224.63" r="1.7" fill="#161616" stroke="none" stroke-width="0"/>
<circle cx="136.72" cy="222.15" r="1.7" fill="#161616" stroke="none" stroke-width="0"/>
<circle cx="137.96" cy="218.42" r="1.7" fill="#161616" stroke="none" stroke-width="0"/>
<circle cx="139.2" cy="222.15" r="1.7" fill="#161616" stroke="none" stroke-width="0"/>
<circle cx="140.45" cy="223.39" r="1.7" fill="#161616" stroke="none" stroke-width="0"/>
<circle cx="141.69" cy="224.63" r="1.7" fill="#161616" stroke="none" stroke-width="0"/>
<circle cx="142.93" cy="227.12" r="1.7" fill="#161616" stroke="none" stroke-width="0"/>
<circle cx="144.17" cy="224.63" r="1.7" fill="#161616" stroke="none" stroke-width="0"/>
<circle cx="145.41" cy="222.15" r="1.7" fill="#161616" stroke="none" stroke-width="0"/>
<circle cx="146.65" cy="237.05" r="1.7" fill="#161616" stroke="none" stroke-width="0"/>
<circle cx="147.89" cy="222.15" r="1.7" fill="#161616" stroke="none" stroke-width="0"/>
<circle cx="149.13" cy="227.12" r="1.7" fill="#161616" stroke="none" stroke-width="0"/>
<circle cx="150.37" cy="243.26" r="1.7" fill="#161616" stroke="none" stroke-width="0"/>
<circle cx="151.61" cy="225.87" r="1.7" fill="#161616" stroke="none" stroke-width="0"/>
<circle cx="152.61" cy="215.94" r="1.7" fill="#161616" stroke="none" stroke-width="0"/>
<circle cx="153.85" cy="227.12" r="1.7" fill="#161616" stroke="none" stroke-width="0"/>
<circle cx="155.34" cy="235.81" r="1.7" fill="#161616" stroke="none" stroke-width="0"/>
<circle cx="156.58" cy="233.32" r="1.7" fill="#161616" stroke="none" stroke-width="0"/>
<circle cx="157.82" cy="234.57" r="1.7" fill="#161616" stroke="none" stroke-width="0"/>
<circle cx="159.06" cy="238.29" r="1.7" fill="#161616" stroke="none" stroke-width="0"/>
<circle cx="160.3" cy="234.57" r="1.7" fill="#161616" stroke="none" stroke-width="0"/>
<circle cx="161.54" cy="230.84" r="1.7" fill="#161616" stroke="none" stroke-width="0"/>
<circle cx="162.78" cy="229.6" r="1.7" fill="#161616" stroke="none" stroke-width="0"/>
<circle cx="164.02" cy="230.84" r="1.7" fill="#161616" stroke="none" stroke-width="0"/>
<circle cx="165.88" cy="223.39" r="1.7" fill="#161616" stroke="none" stroke-width="0"/>
<circle cx="167.74" cy="232.08" r="1.7" fill="#161616" stroke="none" stroke-width="0"/>
<circle cx="168.99" cy="230.84" r="1.7" fill="#161616" stroke="none" stroke-width="0"/>
<circle cx="170.23" cy="230.84" r="1.7" fill="#161616" stroke="none" stroke-width="0"/>
<circle cx="171.22" cy="239.53" r="1.7" fill="#161616" stroke="none" stroke-width="0"/>
<circle cx="172.46" cy="220.91" r="1.7" fill="#161616" stroke="none" stroke-width="0"/>
<circle cx="173.33" cy="235.81" r="1.7" fill="#161616" stroke="none" stroke-width="0"/>
<circle cx="174.57" cy="232.08" r="1.7" fill="#161616" stroke="none" stroke-width="0"/>
<circle cx="175.81" cy="240.77" r="1.7" fill="#161616" stroke="none" stroke-width="0"/>
<circle cx="176.43" cy="227.12" r="1.7" fill="#161616" stroke="none" stroke-width="0"/>
<circle cx="177.67" cy="237.05" r="1.7" fill="#161616" stroke="none" stroke-width="0"/>
<circle cx="178.91" cy="234.57" r="1.7" fill="#161616" stroke="none" stroke-width="0"/>
<circle cx="180.15" cy="234.57" r="1.7" fill="#161616" stroke="none" stroke-width="0"/>
<circle cx="181.39" cy="234.57" r="1.7" fill="#161616" stroke="none" stroke-width="0"/>
<circle cx="182.64" cy="237.05" r="1.7" fill="#161616" stroke="none" stroke-width="0"/>
<circle cx="183.88" cy="234.57" r="1.7" fill="#161616" stroke="none" stroke-width="0"/>
<circle cx="185.12" cy="240.77" r="1.7" fill="#161616" stroke="none" stroke-width="0"/>
<circle cx="186.36" cy="235.81" r="1.7" fill="#161616" stroke="none" stroke-width="0"/>
<circle cx="187.6" cy="242.02" r="1.7" fill="#161616" stroke="none" stroke-width="0"/>
<circle cx="188.84" cy="232.08" r="1.7" fill="#161616" stroke="none" stroke-width="0"/>
<circle cx="190.08" cy="222.15" r="1.7" fill="#161616" stroke="none" stroke-width="0"/>
<circle cx="191.32" cy="234.57" r="1.7" fill="#161616" stroke="none" stroke-width="0"/>
<circle cx="192.56" cy="229.6" r="1.7" fill="#161616" stroke="none" stroke-width="0"/>
<circle cx="193.8" cy="229.6" r="1.7" fill="#161616" stroke="none" stroke-width="0"/>
<circle cx="195.04" cy="240.77" r="1.7" fill="#161616" stroke="none" stroke-width="0"/>
<circle cx="196.28" cy="228.36" r="1.7" fill="#161616" stroke="none" stroke-width="0"/>
<circle cx="197.53" cy="234.57" r="1.7" fill="#161616" stroke="none" stroke-width="0"/>
<circle cx="198.77" cy="245.74" r="1.7" fill="#161616" stroke="none" stroke-width="0"/>
<circle cx="200.01" cy="246.98" r="1.7" fill="#161616" stroke="none" stroke-width="0"/>
<circle cx="201.25" cy="239.53" r="1.7" fill="#161616" stroke="none" stroke-width="0"/>
<circle cx="202.49" cy="242.02" r="1.7" fill="#161616" stroke="none" stroke-width="0"/>
<circle cx="203.73" cy="237.05" r="1.7" fill="#161616" stroke="none" stroke-width="0"/>
<circle cx="204.97" cy="232.08" r="1.7" fill="#161616" stroke="none" stroke-width="0"/>
<circle cx="206.21" cy="239.53" r="1.7" fill="#161616" stroke="none" stroke-width="0"/>
<circle cx="207.45" cy="240.77" r="1.7" fill="#161616" stroke="none" stroke-width="0"/>
<circle cx="208.69" cy="229.6" r="1.7" fill="#161616" stroke="none" stroke-width="0"/>
<circle cx="209.93" cy="219.67" r="1.7" fill="#161616" stroke="none" stroke-width="0"/>
</g>
<rect x="50.5" y="172.4" width="167" height="89.1" fill="none" stroke="#6e6e6e" stroke-width="0.9"/>
<line x1="47.3" x2="50.5" y1="262.1" y2="262.1" stroke="#5e5e5e" stroke-width="1.1"/>
<text x="44.6" y="267" text-anchor="end" class="tk">0.5</text>
<line x1="47.3" x2="50.5" y1="244.14" y2="244.14" stroke="#5e5e5e" stroke-width="1.1"/>
<text x="44.6" y="249.04" text-anchor="end" class="tk">0.6</text>
<line x1="47.3" x2="50.5" y1="226.18" y2="226.18" stroke="#5e5e5e" stroke-width="1.1"/>
<text x="44.6" y="231.08" text-anchor="end" class="tk">0.7</text>
<line x1="47.3" x2="50.5" y1="208.22" y2="208.22" stroke="#5e5e5e" stroke-width="1.1"/>
<text x="44.6" y="213.12" text-anchor="end" class="tk">0.8</text>
<line x1="47.3" x2="50.5" y1="190.26" y2="190.26" stroke="#5e5e5e" stroke-width="1.1"/>
<text x="44.6" y="195.16" text-anchor="end" class="tk">0.9</text>
<line x1="47.3" x2="50.5" y1="172.3" y2="172.3" stroke="#5e5e5e" stroke-width="1.1"/>
<text x="44.6" y="177.2" text-anchor="end" class="tk">1.0</text>
<line y1="261.5" y2="264.5" x1="55.4" x2="55.4" stroke="#5e5e5e" stroke-width="1.1"/>
<text x="55.4" y="276.1" text-anchor="middle" class="tkx">0</text>
<line y1="261.5" y2="264.5" x1="107.6" x2="107.6" stroke="#5e5e5e" stroke-width="1.1"/>
<text x="107.6" y="276.1" text-anchor="middle" class="tkx">50</text>
<line y1="261.5" y2="264.5" x1="159.8" x2="159.8" stroke="#5e5e5e" stroke-width="1.1"/>
<text x="159.8" y="276.1" text-anchor="middle" class="tkx">100</text>
<line y1="261.5" y2="264.5" x1="212" x2="212" stroke="#5e5e5e" stroke-width="1.1"/>
<text x="212" y="276.1" text-anchor="middle" class="tkx">150</text>
<text x="134" y="292.1" text-anchor="middle" class="ax">residues</text>
<text transform="translate(12,216.95) rotate(-90)" text-anchor="middle" class="ax">T<tspan font-size="8.8" dy="2.8">1</tspan><tspan dy="-2.8"> (s)</tspan></text>
<line x1="281.5" x2="448.5" y1="250.88" y2="250.88" stroke="#e5e5e5" stroke-width="0.6"/>
<line x1="281.5" x2="448.5" y1="228.43" y2="228.43" stroke="#e5e5e5" stroke-width="0.6"/>
<line x1="281.5" x2="448.5" y1="205.98" y2="205.98" stroke="#e5e5e5" stroke-width="0.6"/>
<line x1="281.5" x2="448.5" y1="183.53" y2="183.53" stroke="#e5e5e5" stroke-width="0.6"/>
<line y1="172.4" y2="261.5" x1="312.65" x2="312.65" stroke="#e5e5e5" stroke-width="0.6"/>
<line y1="172.4" y2="261.5" x1="364.95" x2="364.95" stroke="#e5e5e5" stroke-width="0.6"/>
<line y1="172.4" y2="261.5" x1="417.25" x2="417.25" stroke="#e5e5e5" stroke-width="0.6"/>
<line x1="281.5" x2="448.5" y1="239.65" y2="239.65" stroke="#cbcbcb" stroke-width="0.9"/>
<line x1="281.5" x2="448.5" y1="217.2" y2="217.2" stroke="#cbcbcb" stroke-width="0.9"/>
<line x1="281.5" x2="448.5" y1="194.75" y2="194.75" stroke="#cbcbcb" stroke-width="0.9"/>
<line y1="172.4" y2="261.5" x1="286.5" x2="286.5" stroke="#c4c4c4" stroke-width="0.9"/>
<line y1="172.4" y2="261.5" x1="338.8" x2="338.8" stroke="#c4c4c4" stroke-width="0.9"/>
<line y1="172.4" y2="261.5" x1="391.1" x2="391.1" stroke="#c4c4c4" stroke-width="0.9"/>
<line y1="172.4" y2="261.5" x1="443.4" x2="443.4" stroke="#c4c4c4" stroke-width="0.9"/>
<g clip-path="url(#c11)">
<polyline points="289.44,174.35 289.93,194.83 291.55,219.67 292.79,227.12 293.66,230.84 294.65,227.12 295.89,229.6 297.13,228.36 298.37,232.08 299.61,229.6 300.85,230.84 302.09,229.6 303.34,228.36 304.58,230.84 305.45,238.91 306.44,228.36 307.68,227.12 308.92,214.7 310.16,209.73 311.4,202.28 312.64,217.18 313.88,224.63 315.12,225.87 316.36,223.39 318.23,217.18 319.47,223.39 320.71,227.12 321.95,222.15 323.19,225.87 324.43,228.36 325.67,224.63 326.91,227.12 328.15,219.67 329.39,222.15 330.64,217.18 331.88,217.18 333.12,215.94 334.36,218.42 335.6,214.7 336.84,218.42 338.08,220.91 339.32,223.39 340.56,222.15 341.8,224.63 343.04,223.39 344.28,223.39 345.53,212.22 346.77,208.49 348.01,209.73 349.25,212.22 350.49,217.18 351.73,219.67 352.97,222.15 354.21,227.12 355.45,232.08 356.45,238.91 357.31,232.08 358.55,228.36 360.42,228.36 361.66,228.36 362.9,227.12 364,219.67 365.24,217.18 366.48,213.46 367.72,209.73 368.96,212.22 370.2,229.6 371.45,227.12 372.69,228.36 373.93,224.63 375.17,242.02 376.41,248.22 377.65,243.26 378.89,239.53 380.13,234.57 381.37,223.39 382.61,224.63 383.85,232.08 385.09,228.36 386.34,217.18 387.58,214.7 388.82,222.15 390.06,224.63 391.3,223.39 392.54,238.29 393.78,222.15 395.02,219.67 396.26,245.74 397.5,229.6 398.74,234.57 399.99,246.98 401.23,232.08 402.47,222.15 403.71,217.18 404.95,210.97 406.19,217.18 407.43,222.15 408.67,218.42 409.91,223.39 411.15,239.53 412.39,220.91 413.64,219.67 414.88,240.77 416.12,240.77 417.36,239.53 418.6,240.77 419.84,222.15 421.08,214.7 422.32,198.56 423.56,198.56 424.8,188.62 426.04,206.01 427.28,217.18 428.53,230.84 429.77,222.15 431.01,224.63 432.25,225.87 433.49,227.12 434.73,229.6 435.97,228.36 437.21,222.15 438.45,207.25 439.69,198.56 440.93,204.77" fill="none" stroke="#3f7fa6" stroke-width="1.7" stroke-linejoin="round" stroke-linecap="round" opacity="1"/>
<polyline points="289.44,174.35 290.31,184.9 290.93,194.83 291.92,213.46 292.79,222.15 293.41,224.63 294.65,223.39 295.89,224.63 297.13,225.87 298.37,224.63 299.61,222.15 300.85,225.87 302.09,223.39 303.34,224.63 304.58,224.63 305.82,224.63 307.06,213.46 308.3,204.77 309.54,212.22 310.16,207.25 310.78,214.7 312.02,207.25 313.26,219.67 314.5,228.36 315.74,217.18 316.99,219.67 318.23,225.87 319.47,217.18 320.71,222.15 321.95,217.18 323.19,219.67 324.43,222.15 325.67,219.67 326.91,223.39 328.15,222.15 329.39,227.12 330.64,213.46 331.88,217.18 333.12,218.42 334.36,217.18 335.6,219.67 336.84,217.18 338.08,219.67 339.32,219.67 340.56,217.18 341.8,219.67 343.04,222.15 344.28,244.5 345.53,207.25 346.77,208.49 348.01,213.46 349.25,215.94 350.49,214.7 351.73,214.7 352.97,219.67 354.21,228.36 355.45,228.36 356.69,225.87 357.93,227.12 359.18,229.6 360.42,229.6 361.66,228.36 362.9,227.12 364,228.36 365.24,224.63 366.48,217.18 367.72,209.73 368.96,207.25 370.2,204.77 371.45,213.46 372.69,219.67 373.93,225.87 375.17,232.08 376.41,242.02 377.65,239.53 378.89,229.6 380.13,240.77 381.37,242.02 382.61,228.36 383.85,227.12 385.09,228.36 386.34,218.42 387.58,213.46 388.82,223.39 390.06,232.08 391.3,228.36 392.54,225.87 393.78,227.12 395.02,225.87 396.26,228.36 397.5,229.6 398.74,227.12 399.99,225.87 401.23,238.29 402.47,219.67 403.71,204.77 404.95,196.07 406.19,204.77 407.43,220.91 408.67,214.7 409.91,213.46 411.15,222.15 412.39,222.15 413.64,222.15 414.88,222.15 416.12,220.91 417.36,238.29 418.6,239.53 419.84,227.12 421.08,217.18 422.32,218.42 423.56,233.32 424.8,212.22 426.04,209.73 427.28,212.22 428.53,227.12 429.77,222.15 431.01,225.87 432.25,224.63 433.49,227.12 434.73,220.91 435.97,227.12 437.21,237.05 438.45,232.08 439.69,208.49 440.93,208.49" fill="none" stroke="#161616" stroke-width="2.8" stroke-linejoin="round" stroke-linecap="round" opacity="1"/>
<circle cx="289.44" cy="174.35" r="1.7" fill="#161616" stroke="none" stroke-width="0"/>
<circle cx="290.31" cy="184.9" r="1.7" fill="#161616" stroke="none" stroke-width="0"/>
<circle cx="290.93" cy="194.83" r="1.7" fill="#161616" stroke="none" stroke-width="0"/>
<circle cx="291.92" cy="213.46" r="1.7" fill="#161616" stroke="none" stroke-width="0"/>
<circle cx="292.79" cy="222.15" r="1.7" fill="#161616" stroke="none" stroke-width="0"/>
<circle cx="293.41" cy="224.63" r="1.7" fill="#161616" stroke="none" stroke-width="0"/>
<circle cx="294.65" cy="223.39" r="1.7" fill="#161616" stroke="none" stroke-width="0"/>
<circle cx="295.89" cy="224.63" r="1.7" fill="#161616" stroke="none" stroke-width="0"/>
<circle cx="297.13" cy="225.87" r="1.7" fill="#161616" stroke="none" stroke-width="0"/>
<circle cx="298.37" cy="224.63" r="1.7" fill="#161616" stroke="none" stroke-width="0"/>
<circle cx="299.61" cy="222.15" r="1.7" fill="#161616" stroke="none" stroke-width="0"/>
<circle cx="300.85" cy="225.87" r="1.7" fill="#161616" stroke="none" stroke-width="0"/>
<circle cx="302.09" cy="223.39" r="1.7" fill="#161616" stroke="none" stroke-width="0"/>
<circle cx="303.34" cy="224.63" r="1.7" fill="#161616" stroke="none" stroke-width="0"/>
<circle cx="304.58" cy="224.63" r="1.7" fill="#161616" stroke="none" stroke-width="0"/>
<circle cx="305.82" cy="224.63" r="1.7" fill="#161616" stroke="none" stroke-width="0"/>
<circle cx="307.06" cy="213.46" r="1.7" fill="#161616" stroke="none" stroke-width="0"/>
<circle cx="308.3" cy="204.77" r="1.7" fill="#161616" stroke="none" stroke-width="0"/>
<circle cx="309.54" cy="212.22" r="1.7" fill="#161616" stroke="none" stroke-width="0"/>
<circle cx="310.16" cy="207.25" r="1.7" fill="#161616" stroke="none" stroke-width="0"/>
<circle cx="310.78" cy="214.7" r="1.7" fill="#161616" stroke="none" stroke-width="0"/>
<circle cx="312.02" cy="207.25" r="1.7" fill="#161616" stroke="none" stroke-width="0"/>
<circle cx="313.26" cy="219.67" r="1.7" fill="#161616" stroke="none" stroke-width="0"/>
<circle cx="314.5" cy="228.36" r="1.7" fill="#161616" stroke="none" stroke-width="0"/>
<circle cx="315.74" cy="217.18" r="1.7" fill="#161616" stroke="none" stroke-width="0"/>
<circle cx="316.99" cy="219.67" r="1.7" fill="#161616" stroke="none" stroke-width="0"/>
<circle cx="318.23" cy="225.87" r="1.7" fill="#161616" stroke="none" stroke-width="0"/>
<circle cx="319.47" cy="217.18" r="1.7" fill="#161616" stroke="none" stroke-width="0"/>
<circle cx="320.71" cy="222.15" r="1.7" fill="#161616" stroke="none" stroke-width="0"/>
<circle cx="321.95" cy="217.18" r="1.7" fill="#161616" stroke="none" stroke-width="0"/>
<circle cx="323.19" cy="219.67" r="1.7" fill="#161616" stroke="none" stroke-width="0"/>
<circle cx="324.43" cy="222.15" r="1.7" fill="#161616" stroke="none" stroke-width="0"/>
<circle cx="325.67" cy="219.67" r="1.7" fill="#161616" stroke="none" stroke-width="0"/>
<circle cx="326.91" cy="223.39" r="1.7" fill="#161616" stroke="none" stroke-width="0"/>
<circle cx="328.15" cy="222.15" r="1.7" fill="#161616" stroke="none" stroke-width="0"/>
<circle cx="329.39" cy="227.12" r="1.7" fill="#161616" stroke="none" stroke-width="0"/>
<circle cx="330.64" cy="213.46" r="1.7" fill="#161616" stroke="none" stroke-width="0"/>
<circle cx="331.88" cy="217.18" r="1.7" fill="#161616" stroke="none" stroke-width="0"/>
<circle cx="333.12" cy="218.42" r="1.7" fill="#161616" stroke="none" stroke-width="0"/>
<circle cx="334.36" cy="217.18" r="1.7" fill="#161616" stroke="none" stroke-width="0"/>
<circle cx="335.6" cy="219.67" r="1.7" fill="#161616" stroke="none" stroke-width="0"/>
<circle cx="336.84" cy="217.18" r="1.7" fill="#161616" stroke="none" stroke-width="0"/>
<circle cx="338.08" cy="219.67" r="1.7" fill="#161616" stroke="none" stroke-width="0"/>
<circle cx="339.32" cy="219.67" r="1.7" fill="#161616" stroke="none" stroke-width="0"/>
<circle cx="340.56" cy="217.18" r="1.7" fill="#161616" stroke="none" stroke-width="0"/>
<circle cx="341.8" cy="219.67" r="1.7" fill="#161616" stroke="none" stroke-width="0"/>
<circle cx="343.04" cy="222.15" r="1.7" fill="#161616" stroke="none" stroke-width="0"/>
<circle cx="344.28" cy="244.5" r="1.7" fill="#161616" stroke="none" stroke-width="0"/>
<circle cx="345.53" cy="207.25" r="1.7" fill="#161616" stroke="none" stroke-width="0"/>
<circle cx="346.77" cy="208.49" r="1.7" fill="#161616" stroke="none" stroke-width="0"/>
<circle cx="348.01" cy="213.46" r="1.7" fill="#161616" stroke="none" stroke-width="0"/>
<circle cx="349.25" cy="215.94" r="1.7" fill="#161616" stroke="none" stroke-width="0"/>
<circle cx="350.49" cy="214.7" r="1.7" fill="#161616" stroke="none" stroke-width="0"/>
<circle cx="351.73" cy="214.7" r="1.7" fill="#161616" stroke="none" stroke-width="0"/>
<circle cx="352.97" cy="219.67" r="1.7" fill="#161616" stroke="none" stroke-width="0"/>
<circle cx="354.21" cy="228.36" r="1.7" fill="#161616" stroke="none" stroke-width="0"/>
<circle cx="355.45" cy="228.36" r="1.7" fill="#161616" stroke="none" stroke-width="0"/>
<circle cx="356.69" cy="225.87" r="1.7" fill="#161616" stroke="none" stroke-width="0"/>
<circle cx="357.93" cy="227.12" r="1.7" fill="#161616" stroke="none" stroke-width="0"/>
<circle cx="359.18" cy="229.6" r="1.7" fill="#161616" stroke="none" stroke-width="0"/>
<circle cx="360.42" cy="229.6" r="1.7" fill="#161616" stroke="none" stroke-width="0"/>
<circle cx="361.66" cy="228.36" r="1.7" fill="#161616" stroke="none" stroke-width="0"/>
<circle cx="362.9" cy="227.12" r="1.7" fill="#161616" stroke="none" stroke-width="0"/>
<circle cx="364" cy="228.36" r="1.7" fill="#161616" stroke="none" stroke-width="0"/>
<circle cx="365.24" cy="224.63" r="1.7" fill="#161616" stroke="none" stroke-width="0"/>
<circle cx="366.48" cy="217.18" r="1.7" fill="#161616" stroke="none" stroke-width="0"/>
<circle cx="367.72" cy="209.73" r="1.7" fill="#161616" stroke="none" stroke-width="0"/>
<circle cx="368.96" cy="207.25" r="1.7" fill="#161616" stroke="none" stroke-width="0"/>
<circle cx="370.2" cy="204.77" r="1.7" fill="#161616" stroke="none" stroke-width="0"/>
<circle cx="371.45" cy="213.46" r="1.7" fill="#161616" stroke="none" stroke-width="0"/>
<circle cx="372.69" cy="219.67" r="1.7" fill="#161616" stroke="none" stroke-width="0"/>
<circle cx="373.93" cy="225.87" r="1.7" fill="#161616" stroke="none" stroke-width="0"/>
<circle cx="375.17" cy="232.08" r="1.7" fill="#161616" stroke="none" stroke-width="0"/>
<circle cx="376.41" cy="242.02" r="1.7" fill="#161616" stroke="none" stroke-width="0"/>
<circle cx="377.65" cy="239.53" r="1.7" fill="#161616" stroke="none" stroke-width="0"/>
<circle cx="378.89" cy="229.6" r="1.7" fill="#161616" stroke="none" stroke-width="0"/>
<circle cx="380.13" cy="240.77" r="1.7" fill="#161616" stroke="none" stroke-width="0"/>
<circle cx="381.37" cy="242.02" r="1.7" fill="#161616" stroke="none" stroke-width="0"/>
<circle cx="382.61" cy="228.36" r="1.7" fill="#161616" stroke="none" stroke-width="0"/>
<circle cx="383.85" cy="227.12" r="1.7" fill="#161616" stroke="none" stroke-width="0"/>
<circle cx="385.09" cy="228.36" r="1.7" fill="#161616" stroke="none" stroke-width="0"/>
<circle cx="386.34" cy="218.42" r="1.7" fill="#161616" stroke="none" stroke-width="0"/>
<circle cx="387.58" cy="213.46" r="1.7" fill="#161616" stroke="none" stroke-width="0"/>
<circle cx="388.82" cy="223.39" r="1.7" fill="#161616" stroke="none" stroke-width="0"/>
<circle cx="390.06" cy="232.08" r="1.7" fill="#161616" stroke="none" stroke-width="0"/>
<circle cx="391.3" cy="228.36" r="1.7" fill="#161616" stroke="none" stroke-width="0"/>
<circle cx="392.54" cy="225.87" r="1.7" fill="#161616" stroke="none" stroke-width="0"/>
<circle cx="393.78" cy="227.12" r="1.7" fill="#161616" stroke="none" stroke-width="0"/>
<circle cx="395.02" cy="225.87" r="1.7" fill="#161616" stroke="none" stroke-width="0"/>
<circle cx="396.26" cy="228.36" r="1.7" fill="#161616" stroke="none" stroke-width="0"/>
<circle cx="397.5" cy="229.6" r="1.7" fill="#161616" stroke="none" stroke-width="0"/>
<circle cx="398.74" cy="227.12" r="1.7" fill="#161616" stroke="none" stroke-width="0"/>
<circle cx="399.99" cy="225.87" r="1.7" fill="#161616" stroke="none" stroke-width="0"/>
<circle cx="401.23" cy="238.29" r="1.7" fill="#161616" stroke="none" stroke-width="0"/>
<circle cx="402.47" cy="219.67" r="1.7" fill="#161616" stroke="none" stroke-width="0"/>
<circle cx="403.71" cy="204.77" r="1.7" fill="#161616" stroke="none" stroke-width="0"/>
<circle cx="404.95" cy="196.07" r="1.7" fill="#161616" stroke="none" stroke-width="0"/>
<circle cx="406.19" cy="204.77" r="1.7" fill="#161616" stroke="none" stroke-width="0"/>
<circle cx="407.43" cy="220.91" r="1.7" fill="#161616" stroke="none" stroke-width="0"/>
<circle cx="408.67" cy="214.7" r="1.7" fill="#161616" stroke="none" stroke-width="0"/>
<circle cx="409.91" cy="213.46" r="1.7" fill="#161616" stroke="none" stroke-width="0"/>
<circle cx="411.15" cy="222.15" r="1.7" fill="#161616" stroke="none" stroke-width="0"/>
<circle cx="412.39" cy="222.15" r="1.7" fill="#161616" stroke="none" stroke-width="0"/>
<circle cx="413.64" cy="222.15" r="1.7" fill="#161616" stroke="none" stroke-width="0"/>
<circle cx="414.88" cy="222.15" r="1.7" fill="#161616" stroke="none" stroke-width="0"/>
<circle cx="416.12" cy="220.91" r="1.7" fill="#161616" stroke="none" stroke-width="0"/>
<circle cx="417.36" cy="238.29" r="1.7" fill="#161616" stroke="none" stroke-width="0"/>
<circle cx="418.6" cy="239.53" r="1.7" fill="#161616" stroke="none" stroke-width="0"/>
<circle cx="419.84" cy="227.12" r="1.7" fill="#161616" stroke="none" stroke-width="0"/>
<circle cx="421.08" cy="217.18" r="1.7" fill="#161616" stroke="none" stroke-width="0"/>
<circle cx="422.32" cy="218.42" r="1.7" fill="#161616" stroke="none" stroke-width="0"/>
<circle cx="423.56" cy="233.32" r="1.7" fill="#161616" stroke="none" stroke-width="0"/>
<circle cx="424.8" cy="212.22" r="1.7" fill="#161616" stroke="none" stroke-width="0"/>
<circle cx="426.04" cy="209.73" r="1.7" fill="#161616" stroke="none" stroke-width="0"/>
<circle cx="427.28" cy="212.22" r="1.7" fill="#161616" stroke="none" stroke-width="0"/>
<circle cx="428.53" cy="227.12" r="1.7" fill="#161616" stroke="none" stroke-width="0"/>
<circle cx="429.77" cy="222.15" r="1.7" fill="#161616" stroke="none" stroke-width="0"/>
<circle cx="431.01" cy="225.87" r="1.7" fill="#161616" stroke="none" stroke-width="0"/>
<circle cx="432.25" cy="224.63" r="1.7" fill="#161616" stroke="none" stroke-width="0"/>
<circle cx="433.49" cy="227.12" r="1.7" fill="#161616" stroke="none" stroke-width="0"/>
<circle cx="434.73" cy="220.91" r="1.7" fill="#161616" stroke="none" stroke-width="0"/>
<circle cx="435.97" cy="227.12" r="1.7" fill="#161616" stroke="none" stroke-width="0"/>
<circle cx="437.21" cy="237.05" r="1.7" fill="#161616" stroke="none" stroke-width="0"/>
<circle cx="438.45" cy="232.08" r="1.7" fill="#161616" stroke="none" stroke-width="0"/>
<circle cx="439.69" cy="208.49" r="1.7" fill="#161616" stroke="none" stroke-width="0"/>
<circle cx="440.93" cy="208.49" r="1.7" fill="#161616" stroke="none" stroke-width="0"/>
</g>
<rect x="281.5" y="172.4" width="167" height="89.1" fill="none" stroke="#6e6e6e" stroke-width="0.9"/>
<line x1="278.3" x2="281.5" y1="262.1" y2="262.1" stroke="#5e5e5e" stroke-width="1.1"/>
<text x="276" y="267" text-anchor="end" class="tk">0.00</text>
<line x1="278.3" x2="281.5" y1="239.65" y2="239.65" stroke="#5e5e5e" stroke-width="1.1"/>
<text x="276" y="244.55" text-anchor="end" class="tk">0.05</text>
<line x1="278.3" x2="281.5" y1="217.2" y2="217.2" stroke="#5e5e5e" stroke-width="1.1"/>
<text x="276" y="222.1" text-anchor="end" class="tk">0.10</text>
<line x1="278.3" x2="281.5" y1="194.75" y2="194.75" stroke="#5e5e5e" stroke-width="1.1"/>
<text x="276" y="199.65" text-anchor="end" class="tk">0.15</text>
<line x1="278.3" x2="281.5" y1="172.3" y2="172.3" stroke="#5e5e5e" stroke-width="1.1"/>
<text x="276" y="177.2" text-anchor="end" class="tk">0.20</text>
<line y1="261.5" y2="264.5" x1="286.5" x2="286.5" stroke="#5e5e5e" stroke-width="1.1"/>
<text x="286.5" y="276.1" text-anchor="middle" class="tkx">0</text>
<line y1="261.5" y2="264.5" x1="338.8" x2="338.8" stroke="#5e5e5e" stroke-width="1.1"/>
<text x="338.8" y="276.1" text-anchor="middle" class="tkx">50</text>
<line y1="261.5" y2="264.5" x1="391.1" x2="391.1" stroke="#5e5e5e" stroke-width="1.1"/>
<text x="391.1" y="276.1" text-anchor="middle" class="tkx">100</text>
<line y1="261.5" y2="264.5" x1="443.4" x2="443.4" stroke="#5e5e5e" stroke-width="1.1"/>
<text x="443.4" y="276.1" text-anchor="middle" class="tkx">150</text>
<text x="365" y="292.1" text-anchor="middle" class="ax">residues</text>
<text transform="translate(243,216.95) rotate(-90)" text-anchor="middle" class="ax">T<tspan font-size="8.8" dy="2.8">2</tspan><tspan dy="-2.8"> (s)</tspan></text>
<line x1="512.5" x2="679.5" y1="250.88" y2="250.88" stroke="#e5e5e5" stroke-width="0.6"/>
<line x1="512.5" x2="679.5" y1="228.43" y2="228.43" stroke="#e5e5e5" stroke-width="0.6"/>
<line x1="512.5" x2="679.5" y1="205.98" y2="205.98" stroke="#e5e5e5" stroke-width="0.6"/>
<line x1="512.5" x2="679.5" y1="183.53" y2="183.53" stroke="#e5e5e5" stroke-width="0.6"/>
<line y1="172.4" y2="261.5" x1="544.08" x2="544.08" stroke="#e5e5e5" stroke-width="0.6"/>
<line y1="172.4" y2="261.5" x1="596.23" x2="596.23" stroke="#e5e5e5" stroke-width="0.6"/>
<line y1="172.4" y2="261.5" x1="648.38" x2="648.38" stroke="#e5e5e5" stroke-width="0.6"/>
<line x1="512.5" x2="679.5" y1="239.65" y2="239.65" stroke="#cbcbcb" stroke-width="0.9"/>
<line x1="512.5" x2="679.5" y1="217.2" y2="217.2" stroke="#cbcbcb" stroke-width="0.9"/>
<line x1="512.5" x2="679.5" y1="194.75" y2="194.75" stroke="#cbcbcb" stroke-width="0.9"/>
<line y1="172.4" y2="261.5" x1="518" x2="518" stroke="#c4c4c4" stroke-width="0.9"/>
<line y1="172.4" y2="261.5" x1="570.15" x2="570.15" stroke="#c4c4c4" stroke-width="0.9"/>
<line y1="172.4" y2="261.5" x1="622.3" x2="622.3" stroke="#c4c4c4" stroke-width="0.9"/>
<line y1="172.4" y2="261.5" x1="674.45" x2="674.45" stroke="#c4c4c4" stroke-width="0.9"/>
<g clip-path="url(#c12)">
<polyline points="520.93,240.77 521.93,228.36 523.17,207.25 524.41,202.28 525.65,199.8 526.89,199.8 528.13,198.56 529.37,198.56 530.61,196.07 531.85,196.07 533.09,197.32 534.34,197.32 535.58,197.32 536.82,198.56 538.06,202.28 539.3,219.67 540.29,225.25 541.78,219.67 543.02,213.46 544.26,207.25 545.5,201.04 546.74,199.8 547.99,198.56 549.23,198.56 550.47,199.8 551.71,198.56 552.95,198.56 554.19,197.32 555.43,198.56 556.67,199.8 557.91,201.04 559.15,202.28 560.39,207.25 561.64,222.15 562.88,207.25 564.12,208.49 565.36,206.01 566.6,204.77 567.84,203.52 569.08,202.28 570.32,203.52 571.56,202.28 572.8,203.52 574.04,204.77 575.28,207.25 576.53,219.67 577.52,223.39 578.39,217.18 579.63,213.46 580.87,209.73 582.11,201.04 583.35,199.8 584.59,198.56 585.83,198.56 587.07,198.56 588.31,197.32 589.55,198.56 590.8,198.56 592.04,198.56 593.28,198.56 594.52,199.8 595,203.52 596.86,207.25 598.72,210.97 599.96,217.18 601.2,220.91 603.07,222.15 604.31,217.18 605.55,207.25 606.79,204.77 608.65,202.28 609.89,201.04 611.13,203.52 612.37,203.52 613.61,202.28 614.85,204.77 616.09,219.67 617.34,209.73 618.58,207.25 619.82,204.77 621.06,201.04 622.3,199.8 623.54,199.8 624.78,199.8 626.02,199.8 627.26,199.8 628.5,201.04 629.74,202.28 630.99,203.52 632.23,203.52 634.71,202.28 635.95,207.25 637.19,212.22 638.43,215.94 639.67,209.73 640.91,207.25 642.15,207.25 643.39,206.01 644.64,202.28 647.12,202.28 648.36,203.52 649.6,203.52 650.84,207.25 652.08,212.22 653.32,215.94 654.56,219.67 655.8,223.39 656.67,226.5 657.66,219.67 658.91,213.46 660.15,204.77 661.39,202.28 662.63,199.8 663.87,198.56 665.11,199.8 666.35,201.04 667.59,202.28 669.45,204.77 670.69,207.25" fill="none" stroke="#3f7fa6" stroke-width="1.7" stroke-linejoin="round" stroke-linecap="round" opacity="1"/>
<polyline points="521.68,228.36 522.55,207.25 523.17,202.28 524.41,198.56 525.65,196.7 526.89,197.32 528.13,196.7 529.37,199.8 530.61,194.21 531.85,193.59 533.09,196.07 534.34,194.21 535.58,196.7 536.82,197.32 538.06,199.8 538.68,207.25 539.3,222.15 540.54,223.39 541.78,219.67 543.02,207.25 544.26,199.8 545.5,194.83 546.74,193.59 547.99,197.32 549.23,196.07 550.47,198.56 551.71,193.59 552.95,192.35 554.19,195.45 555.43,193.59 556.67,191.11 557.91,198.56 559.15,197.32 560.39,194.83 561.64,220.91 562.88,199.8 564.12,198.56 565.36,199.8 566.6,198.56 567.84,197.32 569.08,194.83 570.32,192.35 571.56,194.83 572.8,193.59 574.04,196.07 574.66,202.28 575.28,244.5 576.53,201.04 577.77,210.97 579.01,213.46 580.25,207.25 581.49,198.56 582.73,197.32 583.35,191.73 584.59,194.83 585.83,193.59 587.07,194.83 588.31,193.59 589.55,196.07 590.8,194.83 592.04,193.59 593.28,196.07 594.52,197.32 595,199.8 596.24,202.28 597.48,219.67 598.1,233.32 599.34,230.84 600.58,230.84 601.82,224.63 602.45,210.97 603.69,207.25 604.93,199.8 606.17,198.56 607.41,197.32 608.65,194.83 609.89,192.35 611.13,193.59 612.37,197.32 613.61,199.8 614.85,198.56 616.09,222.15 617.34,207.25 618.58,202.28 619.82,199.8 621.06,197.32 622.3,197.32 623.54,198.56 624.78,194.83 626.02,198.56 627.26,196.07 628.5,197.32 629.74,199.8 630.99,202.28 632.23,197.32 633.47,202.28 634.71,207.25 635.95,215.94 637.19,220.91 638.43,224.63 639.67,213.46 640.91,199.8 642.15,199.8 643.39,203.52 644.64,201.04 645.88,201.04 647.12,199.8 648.36,198.56 649.6,201.04 650.84,202.28 652.08,204.77 653.32,209.73 654.56,210.97 655.8,213.46 657.04,209.73 658.28,209.73 659.53,204.77 660.77,199.8 662.01,201.04 663.25,201.04 664.49,201.04 665.73,197.32 666.97,199.8 668.21,202.28 669.45,203.52 670.69,207.25 671.93,219.67 672.55,251.95" fill="none" stroke="#161616" stroke-width="2.8" stroke-linejoin="round" stroke-linecap="round" opacity="1"/>
<circle cx="521.68" cy="228.36" r="1.7" fill="#161616" stroke="none" stroke-width="0"/>
<circle cx="522.55" cy="207.25" r="1.7" fill="#161616" stroke="none" stroke-width="0"/>
<circle cx="523.17" cy="202.28" r="1.7" fill="#161616" stroke="none" stroke-width="0"/>
<circle cx="524.41" cy="198.56" r="1.7" fill="#161616" stroke="none" stroke-width="0"/>
<circle cx="525.65" cy="196.7" r="1.7" fill="#161616" stroke="none" stroke-width="0"/>
<circle cx="526.89" cy="197.32" r="1.7" fill="#161616" stroke="none" stroke-width="0"/>
<circle cx="528.13" cy="196.7" r="1.7" fill="#161616" stroke="none" stroke-width="0"/>
<circle cx="529.37" cy="199.8" r="1.7" fill="#161616" stroke="none" stroke-width="0"/>
<circle cx="530.61" cy="194.21" r="1.7" fill="#161616" stroke="none" stroke-width="0"/>
<circle cx="531.85" cy="193.59" r="1.7" fill="#161616" stroke="none" stroke-width="0"/>
<circle cx="533.09" cy="196.07" r="1.7" fill="#161616" stroke="none" stroke-width="0"/>
<circle cx="534.34" cy="194.21" r="1.7" fill="#161616" stroke="none" stroke-width="0"/>
<circle cx="535.58" cy="196.7" r="1.7" fill="#161616" stroke="none" stroke-width="0"/>
<circle cx="536.82" cy="197.32" r="1.7" fill="#161616" stroke="none" stroke-width="0"/>
<circle cx="538.06" cy="199.8" r="1.7" fill="#161616" stroke="none" stroke-width="0"/>
<circle cx="538.68" cy="207.25" r="1.7" fill="#161616" stroke="none" stroke-width="0"/>
<circle cx="539.3" cy="222.15" r="1.7" fill="#161616" stroke="none" stroke-width="0"/>
<circle cx="540.54" cy="223.39" r="1.7" fill="#161616" stroke="none" stroke-width="0"/>
<circle cx="541.78" cy="219.67" r="1.7" fill="#161616" stroke="none" stroke-width="0"/>
<circle cx="543.02" cy="207.25" r="1.7" fill="#161616" stroke="none" stroke-width="0"/>
<circle cx="544.26" cy="199.8" r="1.7" fill="#161616" stroke="none" stroke-width="0"/>
<circle cx="545.5" cy="194.83" r="1.7" fill="#161616" stroke="none" stroke-width="0"/>
<circle cx="546.74" cy="193.59" r="1.7" fill="#161616" stroke="none" stroke-width="0"/>
<circle cx="547.99" cy="197.32" r="1.7" fill="#161616" stroke="none" stroke-width="0"/>
<circle cx="549.23" cy="196.07" r="1.7" fill="#161616" stroke="none" stroke-width="0"/>
<circle cx="550.47" cy="198.56" r="1.7" fill="#161616" stroke="none" stroke-width="0"/>
<circle cx="551.71" cy="193.59" r="1.7" fill="#161616" stroke="none" stroke-width="0"/>
<circle cx="552.95" cy="192.35" r="1.7" fill="#161616" stroke="none" stroke-width="0"/>
<circle cx="554.19" cy="195.45" r="1.7" fill="#161616" stroke="none" stroke-width="0"/>
<circle cx="555.43" cy="193.59" r="1.7" fill="#161616" stroke="none" stroke-width="0"/>
<circle cx="556.67" cy="191.11" r="1.7" fill="#161616" stroke="none" stroke-width="0"/>
<circle cx="557.91" cy="198.56" r="1.7" fill="#161616" stroke="none" stroke-width="0"/>
<circle cx="559.15" cy="197.32" r="1.7" fill="#161616" stroke="none" stroke-width="0"/>
<circle cx="560.39" cy="194.83" r="1.7" fill="#161616" stroke="none" stroke-width="0"/>
<circle cx="561.64" cy="220.91" r="1.7" fill="#161616" stroke="none" stroke-width="0"/>
<circle cx="562.88" cy="199.8" r="1.7" fill="#161616" stroke="none" stroke-width="0"/>
<circle cx="564.12" cy="198.56" r="1.7" fill="#161616" stroke="none" stroke-width="0"/>
<circle cx="565.36" cy="199.8" r="1.7" fill="#161616" stroke="none" stroke-width="0"/>
<circle cx="566.6" cy="198.56" r="1.7" fill="#161616" stroke="none" stroke-width="0"/>
<circle cx="567.84" cy="197.32" r="1.7" fill="#161616" stroke="none" stroke-width="0"/>
<circle cx="569.08" cy="194.83" r="1.7" fill="#161616" stroke="none" stroke-width="0"/>
<circle cx="570.32" cy="192.35" r="1.7" fill="#161616" stroke="none" stroke-width="0"/>
<circle cx="571.56" cy="194.83" r="1.7" fill="#161616" stroke="none" stroke-width="0"/>
<circle cx="572.8" cy="193.59" r="1.7" fill="#161616" stroke="none" stroke-width="0"/>
<circle cx="574.04" cy="196.07" r="1.7" fill="#161616" stroke="none" stroke-width="0"/>
<circle cx="574.66" cy="202.28" r="1.7" fill="#161616" stroke="none" stroke-width="0"/>
<circle cx="575.28" cy="244.5" r="1.7" fill="#161616" stroke="none" stroke-width="0"/>
<circle cx="576.53" cy="201.04" r="1.7" fill="#161616" stroke="none" stroke-width="0"/>
<circle cx="577.77" cy="210.97" r="1.7" fill="#161616" stroke="none" stroke-width="0"/>
<circle cx="579.01" cy="213.46" r="1.7" fill="#161616" stroke="none" stroke-width="0"/>
<circle cx="580.25" cy="207.25" r="1.7" fill="#161616" stroke="none" stroke-width="0"/>
<circle cx="581.49" cy="198.56" r="1.7" fill="#161616" stroke="none" stroke-width="0"/>
<circle cx="582.73" cy="197.32" r="1.7" fill="#161616" stroke="none" stroke-width="0"/>
<circle cx="583.35" cy="191.73" r="1.7" fill="#161616" stroke="none" stroke-width="0"/>
<circle cx="584.59" cy="194.83" r="1.7" fill="#161616" stroke="none" stroke-width="0"/>
<circle cx="585.83" cy="193.59" r="1.7" fill="#161616" stroke="none" stroke-width="0"/>
<circle cx="587.07" cy="194.83" r="1.7" fill="#161616" stroke="none" stroke-width="0"/>
<circle cx="588.31" cy="193.59" r="1.7" fill="#161616" stroke="none" stroke-width="0"/>
<circle cx="589.55" cy="196.07" r="1.7" fill="#161616" stroke="none" stroke-width="0"/>
<circle cx="590.8" cy="194.83" r="1.7" fill="#161616" stroke="none" stroke-width="0"/>
<circle cx="592.04" cy="193.59" r="1.7" fill="#161616" stroke="none" stroke-width="0"/>
<circle cx="593.28" cy="196.07" r="1.7" fill="#161616" stroke="none" stroke-width="0"/>
<circle cx="594.52" cy="197.32" r="1.7" fill="#161616" stroke="none" stroke-width="0"/>
<circle cx="595" cy="199.8" r="1.7" fill="#161616" stroke="none" stroke-width="0"/>
<circle cx="596.24" cy="202.28" r="1.7" fill="#161616" stroke="none" stroke-width="0"/>
<circle cx="597.48" cy="219.67" r="1.7" fill="#161616" stroke="none" stroke-width="0"/>
<circle cx="598.1" cy="233.32" r="1.7" fill="#161616" stroke="none" stroke-width="0"/>
<circle cx="599.34" cy="230.84" r="1.7" fill="#161616" stroke="none" stroke-width="0"/>
<circle cx="600.58" cy="230.84" r="1.7" fill="#161616" stroke="none" stroke-width="0"/>
<circle cx="601.82" cy="224.63" r="1.7" fill="#161616" stroke="none" stroke-width="0"/>
<circle cx="602.45" cy="210.97" r="1.7" fill="#161616" stroke="none" stroke-width="0"/>
<circle cx="603.69" cy="207.25" r="1.7" fill="#161616" stroke="none" stroke-width="0"/>
<circle cx="604.93" cy="199.8" r="1.7" fill="#161616" stroke="none" stroke-width="0"/>
<circle cx="606.17" cy="198.56" r="1.7" fill="#161616" stroke="none" stroke-width="0"/>
<circle cx="607.41" cy="197.32" r="1.7" fill="#161616" stroke="none" stroke-width="0"/>
<circle cx="608.65" cy="194.83" r="1.7" fill="#161616" stroke="none" stroke-width="0"/>
<circle cx="609.89" cy="192.35" r="1.7" fill="#161616" stroke="none" stroke-width="0"/>
<circle cx="611.13" cy="193.59" r="1.7" fill="#161616" stroke="none" stroke-width="0"/>
<circle cx="612.37" cy="197.32" r="1.7" fill="#161616" stroke="none" stroke-width="0"/>
<circle cx="613.61" cy="199.8" r="1.7" fill="#161616" stroke="none" stroke-width="0"/>
<circle cx="614.85" cy="198.56" r="1.7" fill="#161616" stroke="none" stroke-width="0"/>
<circle cx="616.09" cy="222.15" r="1.7" fill="#161616" stroke="none" stroke-width="0"/>
<circle cx="617.34" cy="207.25" r="1.7" fill="#161616" stroke="none" stroke-width="0"/>
<circle cx="618.58" cy="202.28" r="1.7" fill="#161616" stroke="none" stroke-width="0"/>
<circle cx="619.82" cy="199.8" r="1.7" fill="#161616" stroke="none" stroke-width="0"/>
<circle cx="621.06" cy="197.32" r="1.7" fill="#161616" stroke="none" stroke-width="0"/>
<circle cx="622.3" cy="197.32" r="1.7" fill="#161616" stroke="none" stroke-width="0"/>
<circle cx="623.54" cy="198.56" r="1.7" fill="#161616" stroke="none" stroke-width="0"/>
<circle cx="624.78" cy="194.83" r="1.7" fill="#161616" stroke="none" stroke-width="0"/>
<circle cx="626.02" cy="198.56" r="1.7" fill="#161616" stroke="none" stroke-width="0"/>
<circle cx="627.26" cy="196.07" r="1.7" fill="#161616" stroke="none" stroke-width="0"/>
<circle cx="628.5" cy="197.32" r="1.7" fill="#161616" stroke="none" stroke-width="0"/>
<circle cx="629.74" cy="199.8" r="1.7" fill="#161616" stroke="none" stroke-width="0"/>
<circle cx="630.99" cy="202.28" r="1.7" fill="#161616" stroke="none" stroke-width="0"/>
<circle cx="632.23" cy="197.32" r="1.7" fill="#161616" stroke="none" stroke-width="0"/>
<circle cx="633.47" cy="202.28" r="1.7" fill="#161616" stroke="none" stroke-width="0"/>
<circle cx="634.71" cy="207.25" r="1.7" fill="#161616" stroke="none" stroke-width="0"/>
<circle cx="635.95" cy="215.94" r="1.7" fill="#161616" stroke="none" stroke-width="0"/>
<circle cx="637.19" cy="220.91" r="1.7" fill="#161616" stroke="none" stroke-width="0"/>
<circle cx="638.43" cy="224.63" r="1.7" fill="#161616" stroke="none" stroke-width="0"/>
<circle cx="639.67" cy="213.46" r="1.7" fill="#161616" stroke="none" stroke-width="0"/>
<circle cx="640.91" cy="199.8" r="1.7" fill="#161616" stroke="none" stroke-width="0"/>
<circle cx="642.15" cy="199.8" r="1.7" fill="#161616" stroke="none" stroke-width="0"/>
<circle cx="643.39" cy="203.52" r="1.7" fill="#161616" stroke="none" stroke-width="0"/>
<circle cx="644.64" cy="201.04" r="1.7" fill="#161616" stroke="none" stroke-width="0"/>
<circle cx="645.88" cy="201.04" r="1.7" fill="#161616" stroke="none" stroke-width="0"/>
<circle cx="647.12" cy="199.8" r="1.7" fill="#161616" stroke="none" stroke-width="0"/>
<circle cx="648.36" cy="198.56" r="1.7" fill="#161616" stroke="none" stroke-width="0"/>
<circle cx="649.6" cy="201.04" r="1.7" fill="#161616" stroke="none" stroke-width="0"/>
<circle cx="650.84" cy="202.28" r="1.7" fill="#161616" stroke="none" stroke-width="0"/>
<circle cx="652.08" cy="204.77" r="1.7" fill="#161616" stroke="none" stroke-width="0"/>
<circle cx="653.32" cy="209.73" r="1.7" fill="#161616" stroke="none" stroke-width="0"/>
<circle cx="654.56" cy="210.97" r="1.7" fill="#161616" stroke="none" stroke-width="0"/>
<circle cx="655.8" cy="213.46" r="1.7" fill="#161616" stroke="none" stroke-width="0"/>
<circle cx="657.04" cy="209.73" r="1.7" fill="#161616" stroke="none" stroke-width="0"/>
<circle cx="658.28" cy="209.73" r="1.7" fill="#161616" stroke="none" stroke-width="0"/>
<circle cx="659.53" cy="204.77" r="1.7" fill="#161616" stroke="none" stroke-width="0"/>
<circle cx="660.77" cy="199.8" r="1.7" fill="#161616" stroke="none" stroke-width="0"/>
<circle cx="662.01" cy="201.04" r="1.7" fill="#161616" stroke="none" stroke-width="0"/>
<circle cx="663.25" cy="201.04" r="1.7" fill="#161616" stroke="none" stroke-width="0"/>
<circle cx="664.49" cy="201.04" r="1.7" fill="#161616" stroke="none" stroke-width="0"/>
<circle cx="665.73" cy="197.32" r="1.7" fill="#161616" stroke="none" stroke-width="0"/>
<circle cx="666.97" cy="199.8" r="1.7" fill="#161616" stroke="none" stroke-width="0"/>
<circle cx="668.21" cy="202.28" r="1.7" fill="#161616" stroke="none" stroke-width="0"/>
<circle cx="669.45" cy="203.52" r="1.7" fill="#161616" stroke="none" stroke-width="0"/>
<circle cx="670.69" cy="207.25" r="1.7" fill="#161616" stroke="none" stroke-width="0"/>
<circle cx="671.93" cy="219.67" r="1.7" fill="#161616" stroke="none" stroke-width="0"/>
<circle cx="672.55" cy="251.95" r="1.7" fill="#161616" stroke="none" stroke-width="0"/>
</g>
<rect x="512.5" y="172.4" width="167" height="89.1" fill="none" stroke="#6e6e6e" stroke-width="0.9"/>
<line x1="509.3" x2="512.5" y1="262.1" y2="262.1" stroke="#5e5e5e" stroke-width="1.1"/>
<text x="507.2" y="267" text-anchor="end" class="tk">0.00</text>
<line x1="509.3" x2="512.5" y1="239.65" y2="239.65" stroke="#5e5e5e" stroke-width="1.1"/>
<text x="507.2" y="244.55" text-anchor="end" class="tk">0.25</text>
<line x1="509.3" x2="512.5" y1="217.2" y2="217.2" stroke="#5e5e5e" stroke-width="1.1"/>
<text x="507.2" y="222.1" text-anchor="end" class="tk">0.50</text>
<line x1="509.3" x2="512.5" y1="194.75" y2="194.75" stroke="#5e5e5e" stroke-width="1.1"/>
<text x="507.2" y="199.65" text-anchor="end" class="tk">0.75</text>
<line x1="509.3" x2="512.5" y1="172.3" y2="172.3" stroke="#5e5e5e" stroke-width="1.1"/>
<text x="507.2" y="177.2" text-anchor="end" class="tk">1.00</text>
<line y1="261.5" y2="264.5" x1="518" x2="518" stroke="#5e5e5e" stroke-width="1.1"/>
<text x="518" y="276.1" text-anchor="middle" class="tkx">0</text>
<line y1="261.5" y2="264.5" x1="570.15" x2="570.15" stroke="#5e5e5e" stroke-width="1.1"/>
<text x="570.15" y="276.1" text-anchor="middle" class="tkx">50</text>
<line y1="261.5" y2="264.5" x1="622.3" x2="622.3" stroke="#5e5e5e" stroke-width="1.1"/>
<text x="622.3" y="276.1" text-anchor="middle" class="tkx">100</text>
<line y1="261.5" y2="264.5" x1="674.45" x2="674.45" stroke="#5e5e5e" stroke-width="1.1"/>
<text x="674.45" y="276.1" text-anchor="middle" class="tkx">150</text>
<text x="596" y="292.1" text-anchor="middle" class="ax">residues</text>
<text transform="translate(474.6,216.95) rotate(-90)" text-anchor="middle" class="ax">hetNOE</text>
<text x="50.5" y="162.6" class="ti">calmodulin</text>
<line x1="50.5" x2="217.5" y1="406.82" y2="406.82" stroke="#e5e5e5" stroke-width="0.6"/>
<line x1="50.5" x2="217.5" y1="391.85" y2="391.85" stroke="#e5e5e5" stroke-width="0.6"/>
<line x1="50.5" x2="217.5" y1="376.88" y2="376.88" stroke="#e5e5e5" stroke-width="0.6"/>
<line x1="50.5" x2="217.5" y1="361.92" y2="361.92" stroke="#e5e5e5" stroke-width="0.6"/>
<line x1="50.5" x2="217.5" y1="346.95" y2="346.95" stroke="#e5e5e5" stroke-width="0.6"/>
<line x1="50.5" x2="217.5" y1="331.98" y2="331.98" stroke="#e5e5e5" stroke-width="0.6"/>
<line y1="324.5" y2="413.5" x1="79.45" x2="79.45" stroke="#e5e5e5" stroke-width="0.6"/>
<line y1="324.5" y2="413.5" x1="127.35" x2="127.35" stroke="#e5e5e5" stroke-width="0.6"/>
<line y1="324.5" y2="413.5" x1="175.25" x2="175.25" stroke="#e5e5e5" stroke-width="0.6"/>
<line x1="50.5" x2="217.5" y1="399.33" y2="399.33" stroke="#cbcbcb" stroke-width="0.9"/>
<line x1="50.5" x2="217.5" y1="384.37" y2="384.37" stroke="#cbcbcb" stroke-width="0.9"/>
<line x1="50.5" x2="217.5" y1="369.4" y2="369.4" stroke="#cbcbcb" stroke-width="0.9"/>
<line x1="50.5" x2="217.5" y1="354.43" y2="354.43" stroke="#cbcbcb" stroke-width="0.9"/>
<line x1="50.5" x2="217.5" y1="339.47" y2="339.47" stroke="#cbcbcb" stroke-width="0.9"/>
<line y1="324.5" y2="413.5" x1="55.5" x2="55.5" stroke="#c4c4c4" stroke-width="0.9"/>
<line y1="324.5" y2="413.5" x1="103.4" x2="103.4" stroke="#c4c4c4" stroke-width="0.9"/>
<line y1="324.5" y2="413.5" x1="151.3" x2="151.3" stroke="#c4c4c4" stroke-width="0.9"/>
<line y1="324.5" y2="413.5" x1="199.2" x2="199.2" stroke="#c4c4c4" stroke-width="0.9"/>
<g clip-path="url(#c20)">
<polyline points="57.2,361.73 58.07,381.6 58.93,362.97 59.93,374.15 61.17,381.6 62.41,384.08 63.65,389.05 64.89,371.67 66.13,353.04 67.37,349.32 68.61,351.8 69.85,343.11 71.09,348.07 72.34,350.56 73.58,341.87 74.82,343.11 76.06,349.32 77.3,343.11 78.54,344.35 79.78,350.56 81.02,351.8 82.26,356.77 83.5,359.25 84.74,356.77 85.99,353.04 87.23,365.46 88.47,355.52 89.71,349.32 90.95,346.83 92.19,344.35 93.43,350.56 94.67,346.83 95.91,343.11 97.15,348.07 98.39,351.8 99.64,346.83 100.88,348.07 102.12,350.56 103.36,353.04 104.6,351.8 105.84,354.28 107.08,351.8 108.32,359.25 109.56,359.25 110.8,354.28 112.04,351.8 113.28,346.83 114.53,349.32 115.77,365.46 117.01,362.97 118.25,358.01 119.49,365.46 120.73,369.18 121.97,366.7 123.21,362.97 124.45,358.01 125.69,361.73 126.93,353.04 128.18,348.07 129.42,351.8 130.66,355.52 131.9,346.83 133.14,356.77 133,356.77 134.86,354.28 136.72,350.56 138.58,359.25 139.82,348.07 141.07,356.77 142.31,362.97 143.55,356.77 144.79,353.04 146.03,359.25 147.89,355.52 149.75,358.01 151.61,364.22 153.47,362.97 155.34,371.67 156.58,377.87 157.82,384.08 159.06,381.6 160.3,379.12 161.54,380.36 162.78,375.39 164.02,381.6 165.26,382.84 166.5,376.63 167.74,374.15 168.99,374.15 170.23,375.39 171.47,371.67 172.71,371.67 173.95,375.39 175.19,380.36 176.43,376.63 177.67,375.39 178.91,374.15 180.15,379.12 181.39,381.6 182.64,371.67 183.88,353.04 184.87,338.14 185.74,359.25 186.36,371.67 187.6,375.39 188.84,371.67 190.08,376.63 191.32,375.39 192.56,371.67 193.8,374.15 195.04,371.67 196.28,371.67 197.53,369.18 198.77,367.94 200.01,371.67 201.25,374.15 202.49,379.12 203.73,384.08 204.97,390.29 206.21,396.5 207.45,398.98 208.69,401.47 209.93,389.05" fill="none" stroke="#d7a253" stroke-width="1.9" stroke-linejoin="round" stroke-linecap="round" opacity="1"/>
<line x1="66.75" x2="66.75" y1="381.6" y2="396.5" stroke="#9a9a9a" stroke-width="0.9"/>
<line x1="74.2" x2="74.2" y1="345.59" y2="362.97" stroke="#9a9a9a" stroke-width="0.9"/>
<line x1="87.85" x2="87.85" y1="335.66" y2="353.04" stroke="#9a9a9a" stroke-width="0.9"/>
<line x1="104.6" x2="104.6" y1="353.04" y2="374.15" stroke="#9a9a9a" stroke-width="0.9"/>
<line x1="107.08" x2="107.08" y1="333.17" y2="353.04" stroke="#9a9a9a" stroke-width="0.9"/>
<line x1="113.91" x2="113.91" y1="329.45" y2="346.83" stroke="#9a9a9a" stroke-width="0.9"/>
<line x1="120.11" x2="120.11" y1="369.18" y2="389.05" stroke="#9a9a9a" stroke-width="0.9"/>
<line x1="129.42" x2="129.42" y1="356.77" y2="394.02" stroke="#9a9a9a" stroke-width="0.9"/>
<line x1="136.72" x2="136.72" y1="353.04" y2="371.67" stroke="#9a9a9a" stroke-width="0.9"/>
<line x1="147.64" x2="147.64" y1="371.67" y2="395.26" stroke="#9a9a9a" stroke-width="0.9"/>
<line x1="155.34" x2="155.34" y1="340.62" y2="359.25" stroke="#9a9a9a" stroke-width="0.9"/>
<line x1="168.36" x2="168.36" y1="355.52" y2="371.67" stroke="#9a9a9a" stroke-width="0.9"/>
<line x1="186.98" x2="186.98" y1="346.83" y2="356.77" stroke="#9a9a9a" stroke-width="0.9"/>
<line x1="190.33" x2="190.33" y1="391.53" y2="402.71" stroke="#9a9a9a" stroke-width="0.9"/>
<line x1="201.25" x2="201.25" y1="359.25" y2="365.46" stroke="#9a9a9a" stroke-width="0.9"/>
<line x1="59.31" x2="59.31" y1="367.17" y2="376.17" stroke="#9a9a9a" stroke-width="1.3" opacity="0.9"/>
<line x1="60.55" x2="60.55" y1="368.41" y2="377.41" stroke="#9a9a9a" stroke-width="1.3" opacity="0.9"/>
<line x1="61.79" x2="61.79" y1="375.86" y2="384.86" stroke="#9a9a9a" stroke-width="1.3" opacity="0.9"/>
<line x1="63.03" x2="63.03" y1="377.1" y2="386.1" stroke="#9a9a9a" stroke-width="1.3" opacity="0.9"/>
<line x1="64.27" x2="64.27" y1="379.58" y2="388.58" stroke="#9a9a9a" stroke-width="1.3" opacity="0.9"/>
<line x1="65.51" x2="65.51" y1="384.55" y2="393.55" stroke="#9a9a9a" stroke-width="1.3" opacity="0.9"/>
<line x1="66.13" x2="66.13" y1="388.27" y2="397.27" stroke="#9a9a9a" stroke-width="1.3" opacity="0.9"/>
<line x1="67.99" x2="67.99" y1="375.86" y2="384.86" stroke="#9a9a9a" stroke-width="1.3" opacity="0.9"/>
<line x1="71.09" x2="71.09" y1="362.2" y2="371.2" stroke="#9a9a9a" stroke-width="1.3" opacity="0.9"/>
<line x1="73.58" x2="73.58" y1="349.78" y2="358.78" stroke="#9a9a9a" stroke-width="1.3" opacity="0.9"/>
<line x1="74.82" x2="74.82" y1="352.27" y2="361.27" stroke="#9a9a9a" stroke-width="1.3" opacity="0.9"/>
<line x1="76.06" x2="76.06" y1="349.78" y2="358.78" stroke="#9a9a9a" stroke-width="1.3" opacity="0.9"/>
<line x1="77.3" x2="77.3" y1="348.54" y2="357.54" stroke="#9a9a9a" stroke-width="1.3" opacity="0.9"/>
<line x1="78.54" x2="78.54" y1="346.06" y2="355.06" stroke="#9a9a9a" stroke-width="1.3" opacity="0.9"/>
<line x1="79.78" x2="79.78" y1="342.33" y2="351.33" stroke="#9a9a9a" stroke-width="1.3" opacity="0.9"/>
<line x1="81.02" x2="81.02" y1="348.54" y2="357.54" stroke="#9a9a9a" stroke-width="1.3" opacity="0.9"/>
<line x1="82.26" x2="82.26" y1="349.78" y2="358.78" stroke="#9a9a9a" stroke-width="1.3" opacity="0.9"/>
<line x1="83.5" x2="83.5" y1="351.02" y2="360.02" stroke="#9a9a9a" stroke-width="1.3" opacity="0.9"/>
<line x1="84.74" x2="84.74" y1="339.85" y2="348.85" stroke="#9a9a9a" stroke-width="1.3" opacity="0.9"/>
<line x1="85.99" x2="85.99" y1="342.33" y2="351.33" stroke="#9a9a9a" stroke-width="1.3" opacity="0.9"/>
<line x1="87.23" x2="87.23" y1="337.37" y2="346.37" stroke="#9a9a9a" stroke-width="1.3" opacity="0.9"/>
<line x1="88.47" x2="88.47" y1="337.37" y2="346.37" stroke="#9a9a9a" stroke-width="1.3" opacity="0.9"/>
<line x1="89.71" x2="89.71" y1="344.82" y2="353.82" stroke="#9a9a9a" stroke-width="1.3" opacity="0.9"/>
<line x1="90.95" x2="90.95" y1="347.3" y2="356.3" stroke="#9a9a9a" stroke-width="1.3" opacity="0.9"/>
<line x1="92.81" x2="92.81" y1="351.02" y2="360.02" stroke="#9a9a9a" stroke-width="1.3" opacity="0.9"/>
<line x1="94.05" x2="94.05" y1="348.54" y2="357.54" stroke="#9a9a9a" stroke-width="1.3" opacity="0.9"/>
<line x1="95.29" x2="95.29" y1="338.61" y2="347.61" stroke="#9a9a9a" stroke-width="1.3" opacity="0.9"/>
<line x1="96.53" x2="96.53" y1="339.85" y2="348.85" stroke="#9a9a9a" stroke-width="1.3" opacity="0.9"/>
<line x1="97.77" x2="97.77" y1="338.61" y2="347.61" stroke="#9a9a9a" stroke-width="1.3" opacity="0.9"/>
<line x1="99.01" x2="99.01" y1="322.47" y2="331.47" stroke="#9a9a9a" stroke-width="1.3" opacity="0.9"/>
<line x1="100.26" x2="100.26" y1="322.47" y2="331.47" stroke="#9a9a9a" stroke-width="1.3" opacity="0.9"/>
<line x1="101.5" x2="101.5" y1="342.33" y2="351.33" stroke="#9a9a9a" stroke-width="1.3" opacity="0.9"/>
<line x1="102.74" x2="102.74" y1="322.47" y2="331.47" stroke="#9a9a9a" stroke-width="1.3" opacity="0.9"/>
<line x1="103.36" x2="103.36" y1="348.54" y2="357.54" stroke="#9a9a9a" stroke-width="1.3" opacity="0.9"/>
<line x1="104.6" x2="104.6" y1="359.72" y2="368.72" stroke="#9a9a9a" stroke-width="1.3" opacity="0.9"/>
<line x1="105.84" x2="105.84" y1="348.54" y2="357.54" stroke="#9a9a9a" stroke-width="1.3" opacity="0.9"/>
<line x1="107.08" x2="107.08" y1="336.12" y2="345.12" stroke="#9a9a9a" stroke-width="1.3" opacity="0.9"/>
<line x1="108.32" x2="108.32" y1="337.37" y2="346.37" stroke="#9a9a9a" stroke-width="1.3" opacity="0.9"/>
<line x1="109.56" x2="109.56" y1="339.85" y2="348.85" stroke="#9a9a9a" stroke-width="1.3" opacity="0.9"/>
<line x1="110.8" x2="110.8" y1="349.78" y2="358.78" stroke="#9a9a9a" stroke-width="1.3" opacity="0.9"/>
<line x1="112.04" x2="112.04" y1="337.37" y2="346.37" stroke="#9a9a9a" stroke-width="1.3" opacity="0.9"/>
<line x1="113.28" x2="113.28" y1="341.09" y2="350.09" stroke="#9a9a9a" stroke-width="1.3" opacity="0.9"/>
<line x1="113.91" x2="113.91" y1="332.4" y2="341.4" stroke="#9a9a9a" stroke-width="1.3" opacity="0.9"/>
<line x1="115.15" x2="115.15" y1="342.33" y2="351.33" stroke="#9a9a9a" stroke-width="1.3" opacity="0.9"/>
<line x1="116.39" x2="116.39" y1="348.54" y2="357.54" stroke="#9a9a9a" stroke-width="1.3" opacity="0.9"/>
<line x1="117.63" x2="117.63" y1="357.23" y2="366.23" stroke="#9a9a9a" stroke-width="1.3" opacity="0.9"/>
<line x1="118.87" x2="118.87" y1="364.68" y2="373.68" stroke="#9a9a9a" stroke-width="1.3" opacity="0.9"/>
<line x1="120.11" x2="120.11" y1="379.58" y2="388.58" stroke="#9a9a9a" stroke-width="1.3" opacity="0.9"/>
<line x1="121.35" x2="121.35" y1="369.65" y2="378.65" stroke="#9a9a9a" stroke-width="1.3" opacity="0.9"/>
<line x1="123.21" x2="123.21" y1="372.13" y2="381.13" stroke="#9a9a9a" stroke-width="1.3" opacity="0.9"/>
<line x1="125.07" x2="125.07" y1="374.62" y2="383.62" stroke="#9a9a9a" stroke-width="1.3" opacity="0.9"/>
<line x1="126.93" x2="126.93" y1="375.86" y2="384.86" stroke="#9a9a9a" stroke-width="1.3" opacity="0.9"/>
<line x1="129.42" x2="129.42" y1="377.1" y2="386.1" stroke="#9a9a9a" stroke-width="1.3" opacity="0.9"/>
<line x1="130.66" x2="130.66" y1="353.51" y2="362.51" stroke="#9a9a9a" stroke-width="1.3" opacity="0.9"/>
<line x1="131.9" x2="131.9" y1="363.44" y2="372.44" stroke="#9a9a9a" stroke-width="1.3" opacity="0.9"/>
<line x1="133.14" x2="133.14" y1="357.23" y2="366.23" stroke="#9a9a9a" stroke-width="1.3" opacity="0.9"/>
<line x1="133" x2="133" y1="357.23" y2="366.23" stroke="#9a9a9a" stroke-width="1.3" opacity="0.9"/>
<line x1="134.24" x2="134.24" y1="360.96" y2="369.96" stroke="#9a9a9a" stroke-width="1.3" opacity="0.9"/>
<line x1="135.48" x2="135.48" y1="357.23" y2="366.23" stroke="#9a9a9a" stroke-width="1.3" opacity="0.9"/>
<line x1="136.72" x2="136.72" y1="354.75" y2="363.75" stroke="#9a9a9a" stroke-width="1.3" opacity="0.9"/>
<line x1="137.96" x2="137.96" y1="357.23" y2="366.23" stroke="#9a9a9a" stroke-width="1.3" opacity="0.9"/>
<line x1="139.2" x2="139.2" y1="353.51" y2="362.51" stroke="#9a9a9a" stroke-width="1.3" opacity="0.9"/>
<line x1="140.45" x2="140.45" y1="354.75" y2="363.75" stroke="#9a9a9a" stroke-width="1.3" opacity="0.9"/>
<line x1="141.69" x2="141.69" y1="358.47" y2="367.47" stroke="#9a9a9a" stroke-width="1.3" opacity="0.9"/>
<line x1="142.93" x2="142.93" y1="362.2" y2="371.2" stroke="#9a9a9a" stroke-width="1.3" opacity="0.9"/>
<line x1="144.17" x2="144.17" y1="349.78" y2="358.78" stroke="#9a9a9a" stroke-width="1.3" opacity="0.9"/>
<line x1="145.41" x2="145.41" y1="347.3" y2="356.3" stroke="#9a9a9a" stroke-width="1.3" opacity="0.9"/>
<line x1="146.65" x2="146.65" y1="358.47" y2="367.47" stroke="#9a9a9a" stroke-width="1.3" opacity="0.9"/>
<line x1="147.64" x2="147.64" y1="382.07" y2="391.07" stroke="#9a9a9a" stroke-width="1.3" opacity="0.9"/>
<line x1="148.51" x2="148.51" y1="352.27" y2="361.27" stroke="#9a9a9a" stroke-width="1.3" opacity="0.9"/>
<line x1="149.75" x2="149.75" y1="354.75" y2="363.75" stroke="#9a9a9a" stroke-width="1.3" opacity="0.9"/>
<line x1="151.61" x2="151.61" y1="358.47" y2="367.47" stroke="#9a9a9a" stroke-width="1.3" opacity="0.9"/>
<line x1="152.85" x2="152.85" y1="357.23" y2="366.23" stroke="#9a9a9a" stroke-width="1.3" opacity="0.9"/>
<line x1="154.09" x2="154.09" y1="360.96" y2="369.96" stroke="#9a9a9a" stroke-width="1.3" opacity="0.9"/>
<line x1="155.34" x2="155.34" y1="344.82" y2="353.82" stroke="#9a9a9a" stroke-width="1.3" opacity="0.9"/>
<line x1="156.58" x2="156.58" y1="357.23" y2="366.23" stroke="#9a9a9a" stroke-width="1.3" opacity="0.9"/>
<line x1="157.82" x2="157.82" y1="370.89" y2="379.89" stroke="#9a9a9a" stroke-width="1.3" opacity="0.9"/>
<line x1="159.06" x2="159.06" y1="372.13" y2="381.13" stroke="#9a9a9a" stroke-width="1.3" opacity="0.9"/>
<line x1="160.3" x2="160.3" y1="374.62" y2="383.62" stroke="#9a9a9a" stroke-width="1.3" opacity="0.9"/>
<line x1="161.54" x2="161.54" y1="378.34" y2="387.34" stroke="#9a9a9a" stroke-width="1.3" opacity="0.9"/>
<line x1="162.78" x2="162.78" y1="360.96" y2="369.96" stroke="#9a9a9a" stroke-width="1.3" opacity="0.9"/>
<line x1="164.02" x2="164.02" y1="372.13" y2="381.13" stroke="#9a9a9a" stroke-width="1.3" opacity="0.9"/>
<line x1="165.26" x2="165.26" y1="368.41" y2="377.41" stroke="#9a9a9a" stroke-width="1.3" opacity="0.9"/>
<line x1="166.5" x2="166.5" y1="373.37" y2="382.37" stroke="#9a9a9a" stroke-width="1.3" opacity="0.9"/>
<line x1="167.74" x2="167.74" y1="367.17" y2="376.17" stroke="#9a9a9a" stroke-width="1.3" opacity="0.9"/>
<line x1="168.99" x2="168.99" y1="353.51" y2="362.51" stroke="#9a9a9a" stroke-width="1.3" opacity="0.9"/>
<line x1="170.23" x2="170.23" y1="384.55" y2="393.55" stroke="#9a9a9a" stroke-width="1.3" opacity="0.9"/>
<line x1="171.47" x2="171.47" y1="362.2" y2="371.2" stroke="#9a9a9a" stroke-width="1.3" opacity="0.9"/>
<line x1="172.71" x2="172.71" y1="372.13" y2="381.13" stroke="#9a9a9a" stroke-width="1.3" opacity="0.9"/>
<line x1="173.95" x2="173.95" y1="374.62" y2="383.62" stroke="#9a9a9a" stroke-width="1.3" opacity="0.9"/>
<line x1="175.19" x2="175.19" y1="377.1" y2="386.1" stroke="#9a9a9a" stroke-width="1.3" opacity="0.9"/>
<line x1="176.43" x2="176.43" y1="367.17" y2="376.17" stroke="#9a9a9a" stroke-width="1.3" opacity="0.9"/>
<line x1="177.67" x2="177.67" y1="379.58" y2="388.58" stroke="#9a9a9a" stroke-width="1.3" opacity="0.9"/>
<line x1="178.91" x2="178.91" y1="367.17" y2="376.17" stroke="#9a9a9a" stroke-width="1.3" opacity="0.9"/>
<line x1="180.15" x2="180.15" y1="363.44" y2="372.44" stroke="#9a9a9a" stroke-width="1.3" opacity="0.9"/>
<line x1="181.39" x2="181.39" y1="360.96" y2="369.96" stroke="#9a9a9a" stroke-width="1.3" opacity="0.9"/>
<line x1="182.64" x2="182.64" y1="358.47" y2="367.47" stroke="#9a9a9a" stroke-width="1.3" opacity="0.9"/>
<line x1="183.88" x2="183.88" y1="353.51" y2="362.51" stroke="#9a9a9a" stroke-width="1.3" opacity="0.9"/>
<line x1="185.12" x2="185.12" y1="349.78" y2="358.78" stroke="#9a9a9a" stroke-width="1.3" opacity="0.9"/>
<line x1="186.36" x2="186.36" y1="347.3" y2="356.3" stroke="#9a9a9a" stroke-width="1.3" opacity="0.9"/>
<line x1="187.6" x2="187.6" y1="348.54" y2="357.54" stroke="#9a9a9a" stroke-width="1.3" opacity="0.9"/>
<line x1="188.84" x2="188.84" y1="364.68" y2="373.68" stroke="#9a9a9a" stroke-width="1.3" opacity="0.9"/>
<line x1="190.08" x2="190.08" y1="390.76" y2="399.76" stroke="#9a9a9a" stroke-width="1.3" opacity="0.9"/>
<line x1="191.32" x2="191.32" y1="369.65" y2="378.65" stroke="#9a9a9a" stroke-width="1.3" opacity="0.9"/>
<line x1="192.56" x2="192.56" y1="360.96" y2="369.96" stroke="#9a9a9a" stroke-width="1.3" opacity="0.9"/>
<line x1="193.8" x2="193.8" y1="377.1" y2="386.1" stroke="#9a9a9a" stroke-width="1.3" opacity="0.9"/>
<line x1="195.04" x2="195.04" y1="369.65" y2="378.65" stroke="#9a9a9a" stroke-width="1.3" opacity="0.9"/>
<line x1="196.28" x2="196.28" y1="367.17" y2="376.17" stroke="#9a9a9a" stroke-width="1.3" opacity="0.9"/>
<line x1="197.53" x2="197.53" y1="364.68" y2="373.68" stroke="#9a9a9a" stroke-width="1.3" opacity="0.9"/>
<line x1="198.77" x2="198.77" y1="360.96" y2="369.96" stroke="#9a9a9a" stroke-width="1.3" opacity="0.9"/>
<line x1="200.01" x2="200.01" y1="358.47" y2="367.47" stroke="#9a9a9a" stroke-width="1.3" opacity="0.9"/>
<line x1="201.25" x2="201.25" y1="358.47" y2="367.47" stroke="#9a9a9a" stroke-width="1.3" opacity="0.9"/>
<line x1="202.49" x2="202.49" y1="370.89" y2="379.89" stroke="#9a9a9a" stroke-width="1.3" opacity="0.9"/>
<line x1="203.73" x2="203.73" y1="380.82" y2="389.82" stroke="#9a9a9a" stroke-width="1.3" opacity="0.9"/>
<line x1="204.97" x2="204.97" y1="380.82" y2="389.82" stroke="#9a9a9a" stroke-width="1.3" opacity="0.9"/>
<line x1="206.21" x2="206.21" y1="380.82" y2="389.82" stroke="#9a9a9a" stroke-width="1.3" opacity="0.9"/>
<line x1="207.45" x2="207.45" y1="380.82" y2="389.82" stroke="#9a9a9a" stroke-width="1.3" opacity="0.9"/>
<line x1="208.69" x2="208.69" y1="380.82" y2="389.82" stroke="#9a9a9a" stroke-width="1.3" opacity="0.9"/>
<line x1="209.93" x2="209.93" y1="347.3" y2="356.3" stroke="#9a9a9a" stroke-width="1.3" opacity="0.9"/>
<polyline points="59.31,371.67 60.55,372.91 61.79,380.36 63.03,381.6 64.27,384.08 65.51,389.05 66.13,392.77 67.99,380.36 71.09,366.7 73.58,354.28 74.82,356.77 76.06,354.28 77.3,353.04 78.54,350.56 79.78,346.83 81.02,353.04 82.26,354.28 83.5,355.52 84.74,344.35 85.99,346.83 87.23,341.87 88.47,341.87 89.71,349.32 90.95,351.8 92.81,355.52 94.05,353.04 95.29,343.11 96.53,344.35 97.77,343.11 99.01,326.97 100.26,326.97 101.5,346.83 102.74,326.97 103.36,353.04 104.6,364.22 105.84,353.04 107.08,340.62 108.32,341.87 109.56,344.35 110.8,354.28 112.04,341.87 113.28,345.59 113.91,336.9 115.15,346.83 116.39,353.04 117.63,361.73 118.87,369.18 120.11,384.08 121.35,374.15 123.21,376.63 125.07,379.12 126.93,380.36 129.42,381.6 130.66,358.01 131.9,367.94 133.14,361.73 133,361.73 134.24,365.46 135.48,361.73 136.72,359.25 137.96,361.73 139.2,358.01 140.45,359.25 141.69,362.97 142.93,366.7 144.17,354.28 145.41,351.8 146.65,362.97 147.64,386.57 148.51,356.77 149.75,359.25 151.61,362.97 152.85,361.73 154.09,365.46 155.34,349.32 156.58,361.73 157.82,375.39 159.06,376.63 160.3,379.12 161.54,382.84 162.78,365.46 164.02,376.63 165.26,372.91 166.5,377.87 167.74,371.67 168.99,358.01 170.23,389.05 171.47,366.7 172.71,376.63 173.95,379.12 175.19,381.6 176.43,371.67 177.67,384.08 178.91,371.67 180.15,367.94 181.39,365.46 182.64,362.97 183.88,358.01 185.12,354.28 186.36,351.8 187.6,353.04 188.84,369.18 190.08,395.26 191.32,374.15 192.56,365.46 193.8,381.6 195.04,374.15 196.28,371.67 197.53,369.18 198.77,365.46 200.01,362.97 201.25,362.97 202.49,375.39 203.73,385.32 204.97,385.32 206.21,385.32 207.45,385.32 208.69,385.32 209.93,351.8" fill="none" stroke="#1a1a1a" stroke-width="2.7" stroke-linejoin="round" stroke-linecap="round" opacity="1"/>
<circle cx="59.31" cy="371.67" r="1.5" fill="#1a1a1a" stroke="none" stroke-width="0"/>
<circle cx="60.55" cy="372.91" r="1.5" fill="#1a1a1a" stroke="none" stroke-width="0"/>
<circle cx="61.79" cy="380.36" r="1.5" fill="#1a1a1a" stroke="none" stroke-width="0"/>
<circle cx="63.03" cy="381.6" r="1.5" fill="#1a1a1a" stroke="none" stroke-width="0"/>
<circle cx="64.27" cy="384.08" r="1.5" fill="#1a1a1a" stroke="none" stroke-width="0"/>
<circle cx="65.51" cy="389.05" r="1.5" fill="#1a1a1a" stroke="none" stroke-width="0"/>
<circle cx="66.13" cy="392.77" r="1.5" fill="#1a1a1a" stroke="none" stroke-width="0"/>
<circle cx="67.99" cy="380.36" r="1.5" fill="#1a1a1a" stroke="none" stroke-width="0"/>
<circle cx="71.09" cy="366.7" r="1.5" fill="#1a1a1a" stroke="none" stroke-width="0"/>
<circle cx="73.58" cy="354.28" r="1.5" fill="#1a1a1a" stroke="none" stroke-width="0"/>
<circle cx="74.82" cy="356.77" r="1.5" fill="#1a1a1a" stroke="none" stroke-width="0"/>
<circle cx="76.06" cy="354.28" r="1.5" fill="#1a1a1a" stroke="none" stroke-width="0"/>
<circle cx="77.3" cy="353.04" r="1.5" fill="#1a1a1a" stroke="none" stroke-width="0"/>
<circle cx="78.54" cy="350.56" r="1.5" fill="#1a1a1a" stroke="none" stroke-width="0"/>
<circle cx="79.78" cy="346.83" r="1.5" fill="#1a1a1a" stroke="none" stroke-width="0"/>
<circle cx="81.02" cy="353.04" r="1.5" fill="#1a1a1a" stroke="none" stroke-width="0"/>
<circle cx="82.26" cy="354.28" r="1.5" fill="#1a1a1a" stroke="none" stroke-width="0"/>
<circle cx="83.5" cy="355.52" r="1.5" fill="#1a1a1a" stroke="none" stroke-width="0"/>
<circle cx="84.74" cy="344.35" r="1.5" fill="#1a1a1a" stroke="none" stroke-width="0"/>
<circle cx="85.99" cy="346.83" r="1.5" fill="#1a1a1a" stroke="none" stroke-width="0"/>
<circle cx="87.23" cy="341.87" r="1.5" fill="#1a1a1a" stroke="none" stroke-width="0"/>
<circle cx="88.47" cy="341.87" r="1.5" fill="#1a1a1a" stroke="none" stroke-width="0"/>
<circle cx="89.71" cy="349.32" r="1.5" fill="#1a1a1a" stroke="none" stroke-width="0"/>
<circle cx="90.95" cy="351.8" r="1.5" fill="#1a1a1a" stroke="none" stroke-width="0"/>
<circle cx="92.81" cy="355.52" r="1.5" fill="#1a1a1a" stroke="none" stroke-width="0"/>
<circle cx="94.05" cy="353.04" r="1.5" fill="#1a1a1a" stroke="none" stroke-width="0"/>
<circle cx="95.29" cy="343.11" r="1.5" fill="#1a1a1a" stroke="none" stroke-width="0"/>
<circle cx="96.53" cy="344.35" r="1.5" fill="#1a1a1a" stroke="none" stroke-width="0"/>
<circle cx="97.77" cy="343.11" r="1.5" fill="#1a1a1a" stroke="none" stroke-width="0"/>
<circle cx="99.01" cy="326.97" r="1.5" fill="#1a1a1a" stroke="none" stroke-width="0"/>
<circle cx="100.26" cy="326.97" r="1.5" fill="#1a1a1a" stroke="none" stroke-width="0"/>
<circle cx="101.5" cy="346.83" r="1.5" fill="#1a1a1a" stroke="none" stroke-width="0"/>
<circle cx="102.74" cy="326.97" r="1.5" fill="#1a1a1a" stroke="none" stroke-width="0"/>
<circle cx="103.36" cy="353.04" r="1.5" fill="#1a1a1a" stroke="none" stroke-width="0"/>
<circle cx="104.6" cy="364.22" r="1.5" fill="#1a1a1a" stroke="none" stroke-width="0"/>
<circle cx="105.84" cy="353.04" r="1.5" fill="#1a1a1a" stroke="none" stroke-width="0"/>
<circle cx="107.08" cy="340.62" r="1.5" fill="#1a1a1a" stroke="none" stroke-width="0"/>
<circle cx="108.32" cy="341.87" r="1.5" fill="#1a1a1a" stroke="none" stroke-width="0"/>
<circle cx="109.56" cy="344.35" r="1.5" fill="#1a1a1a" stroke="none" stroke-width="0"/>
<circle cx="110.8" cy="354.28" r="1.5" fill="#1a1a1a" stroke="none" stroke-width="0"/>
<circle cx="112.04" cy="341.87" r="1.5" fill="#1a1a1a" stroke="none" stroke-width="0"/>
<circle cx="113.28" cy="345.59" r="1.5" fill="#1a1a1a" stroke="none" stroke-width="0"/>
<circle cx="113.91" cy="336.9" r="1.5" fill="#1a1a1a" stroke="none" stroke-width="0"/>
<circle cx="115.15" cy="346.83" r="1.5" fill="#1a1a1a" stroke="none" stroke-width="0"/>
<circle cx="116.39" cy="353.04" r="1.5" fill="#1a1a1a" stroke="none" stroke-width="0"/>
<circle cx="117.63" cy="361.73" r="1.5" fill="#1a1a1a" stroke="none" stroke-width="0"/>
<circle cx="118.87" cy="369.18" r="1.5" fill="#1a1a1a" stroke="none" stroke-width="0"/>
<circle cx="120.11" cy="384.08" r="1.5" fill="#1a1a1a" stroke="none" stroke-width="0"/>
<circle cx="121.35" cy="374.15" r="1.5" fill="#1a1a1a" stroke="none" stroke-width="0"/>
<circle cx="123.21" cy="376.63" r="1.5" fill="#1a1a1a" stroke="none" stroke-width="0"/>
<circle cx="125.07" cy="379.12" r="1.5" fill="#1a1a1a" stroke="none" stroke-width="0"/>
<circle cx="126.93" cy="380.36" r="1.5" fill="#1a1a1a" stroke="none" stroke-width="0"/>
<circle cx="129.42" cy="381.6" r="1.5" fill="#1a1a1a" stroke="none" stroke-width="0"/>
<circle cx="130.66" cy="358.01" r="1.5" fill="#1a1a1a" stroke="none" stroke-width="0"/>
<circle cx="131.9" cy="367.94" r="1.5" fill="#1a1a1a" stroke="none" stroke-width="0"/>
<circle cx="133.14" cy="361.73" r="1.5" fill="#1a1a1a" stroke="none" stroke-width="0"/>
<circle cx="133" cy="361.73" r="1.5" fill="#1a1a1a" stroke="none" stroke-width="0"/>
<circle cx="134.24" cy="365.46" r="1.5" fill="#1a1a1a" stroke="none" stroke-width="0"/>
<circle cx="135.48" cy="361.73" r="1.5" fill="#1a1a1a" stroke="none" stroke-width="0"/>
<circle cx="136.72" cy="359.25" r="1.5" fill="#1a1a1a" stroke="none" stroke-width="0"/>
<circle cx="137.96" cy="361.73" r="1.5" fill="#1a1a1a" stroke="none" stroke-width="0"/>
<circle cx="139.2" cy="358.01" r="1.5" fill="#1a1a1a" stroke="none" stroke-width="0"/>
<circle cx="140.45" cy="359.25" r="1.5" fill="#1a1a1a" stroke="none" stroke-width="0"/>
<circle cx="141.69" cy="362.97" r="1.5" fill="#1a1a1a" stroke="none" stroke-width="0"/>
<circle cx="142.93" cy="366.7" r="1.5" fill="#1a1a1a" stroke="none" stroke-width="0"/>
<circle cx="144.17" cy="354.28" r="1.5" fill="#1a1a1a" stroke="none" stroke-width="0"/>
<circle cx="145.41" cy="351.8" r="1.5" fill="#1a1a1a" stroke="none" stroke-width="0"/>
<circle cx="146.65" cy="362.97" r="1.5" fill="#1a1a1a" stroke="none" stroke-width="0"/>
<circle cx="147.64" cy="386.57" r="1.5" fill="#1a1a1a" stroke="none" stroke-width="0"/>
<circle cx="148.51" cy="356.77" r="1.5" fill="#1a1a1a" stroke="none" stroke-width="0"/>
<circle cx="149.75" cy="359.25" r="1.5" fill="#1a1a1a" stroke="none" stroke-width="0"/>
<circle cx="151.61" cy="362.97" r="1.5" fill="#1a1a1a" stroke="none" stroke-width="0"/>
<circle cx="152.85" cy="361.73" r="1.5" fill="#1a1a1a" stroke="none" stroke-width="0"/>
<circle cx="154.09" cy="365.46" r="1.5" fill="#1a1a1a" stroke="none" stroke-width="0"/>
<circle cx="155.34" cy="349.32" r="1.5" fill="#1a1a1a" stroke="none" stroke-width="0"/>
<circle cx="156.58" cy="361.73" r="1.5" fill="#1a1a1a" stroke="none" stroke-width="0"/>
<circle cx="157.82" cy="375.39" r="1.5" fill="#1a1a1a" stroke="none" stroke-width="0"/>
<circle cx="159.06" cy="376.63" r="1.5" fill="#1a1a1a" stroke="none" stroke-width="0"/>
<circle cx="160.3" cy="379.12" r="1.5" fill="#1a1a1a" stroke="none" stroke-width="0"/>
<circle cx="161.54" cy="382.84" r="1.5" fill="#1a1a1a" stroke="none" stroke-width="0"/>
<circle cx="162.78" cy="365.46" r="1.5" fill="#1a1a1a" stroke="none" stroke-width="0"/>
<circle cx="164.02" cy="376.63" r="1.5" fill="#1a1a1a" stroke="none" stroke-width="0"/>
<circle cx="165.26" cy="372.91" r="1.5" fill="#1a1a1a" stroke="none" stroke-width="0"/>
<circle cx="166.5" cy="377.87" r="1.5" fill="#1a1a1a" stroke="none" stroke-width="0"/>
<circle cx="167.74" cy="371.67" r="1.5" fill="#1a1a1a" stroke="none" stroke-width="0"/>
<circle cx="168.99" cy="358.01" r="1.5" fill="#1a1a1a" stroke="none" stroke-width="0"/>
<circle cx="170.23" cy="389.05" r="1.5" fill="#1a1a1a" stroke="none" stroke-width="0"/>
<circle cx="171.47" cy="366.7" r="1.5" fill="#1a1a1a" stroke="none" stroke-width="0"/>
<circle cx="172.71" cy="376.63" r="1.5" fill="#1a1a1a" stroke="none" stroke-width="0"/>
<circle cx="173.95" cy="379.12" r="1.5" fill="#1a1a1a" stroke="none" stroke-width="0"/>
<circle cx="175.19" cy="381.6" r="1.5" fill="#1a1a1a" stroke="none" stroke-width="0"/>
<circle cx="176.43" cy="371.67" r="1.5" fill="#1a1a1a" stroke="none" stroke-width="0"/>
<circle cx="177.67" cy="384.08" r="1.5" fill="#1a1a1a" stroke="none" stroke-width="0"/>
<circle cx="178.91" cy="371.67" r="1.5" fill="#1a1a1a" stroke="none" stroke-width="0"/>
<circle cx="180.15" cy="367.94" r="1.5" fill="#1a1a1a" stroke="none" stroke-width="0"/>
<circle cx="181.39" cy="365.46" r="1.5" fill="#1a1a1a" stroke="none" stroke-width="0"/>
<circle cx="182.64" cy="362.97" r="1.5" fill="#1a1a1a" stroke="none" stroke-width="0"/>
<circle cx="183.88" cy="358.01" r="1.5" fill="#1a1a1a" stroke="none" stroke-width="0"/>
<circle cx="185.12" cy="354.28" r="1.5" fill="#1a1a1a" stroke="none" stroke-width="0"/>
<circle cx="186.36" cy="351.8" r="1.5" fill="#1a1a1a" stroke="none" stroke-width="0"/>
<circle cx="187.6" cy="353.04" r="1.5" fill="#1a1a1a" stroke="none" stroke-width="0"/>
<circle cx="188.84" cy="369.18" r="1.5" fill="#1a1a1a" stroke="none" stroke-width="0"/>
<circle cx="190.08" cy="395.26" r="1.5" fill="#1a1a1a" stroke="none" stroke-width="0"/>
<circle cx="191.32" cy="374.15" r="1.5" fill="#1a1a1a" stroke="none" stroke-width="0"/>
<circle cx="192.56" cy="365.46" r="1.5" fill="#1a1a1a" stroke="none" stroke-width="0"/>
<circle cx="193.8" cy="381.6" r="1.5" fill="#1a1a1a" stroke="none" stroke-width="0"/>
<circle cx="195.04" cy="374.15" r="1.5" fill="#1a1a1a" stroke="none" stroke-width="0"/>
<circle cx="196.28" cy="371.67" r="1.5" fill="#1a1a1a" stroke="none" stroke-width="0"/>
<circle cx="197.53" cy="369.18" r="1.5" fill="#1a1a1a" stroke="none" stroke-width="0"/>
<circle cx="198.77" cy="365.46" r="1.5" fill="#1a1a1a" stroke="none" stroke-width="0"/>
<circle cx="200.01" cy="362.97" r="1.5" fill="#1a1a1a" stroke="none" stroke-width="0"/>
<circle cx="201.25" cy="362.97" r="1.5" fill="#1a1a1a" stroke="none" stroke-width="0"/>
<circle cx="202.49" cy="375.39" r="1.5" fill="#1a1a1a" stroke="none" stroke-width="0"/>
<circle cx="203.73" cy="385.32" r="1.5" fill="#1a1a1a" stroke="none" stroke-width="0"/>
<circle cx="204.97" cy="385.32" r="1.5" fill="#1a1a1a" stroke="none" stroke-width="0"/>
<circle cx="206.21" cy="385.32" r="1.5" fill="#1a1a1a" stroke="none" stroke-width="0"/>
<circle cx="207.45" cy="385.32" r="1.5" fill="#1a1a1a" stroke="none" stroke-width="0"/>
<circle cx="208.69" cy="385.32" r="1.5" fill="#1a1a1a" stroke="none" stroke-width="0"/>
<circle cx="209.93" cy="351.8" r="1.5" fill="#1a1a1a" stroke="none" stroke-width="0"/>
</g>
<rect x="50.5" y="324.5" width="167" height="89" fill="none" stroke="#6e6e6e" stroke-width="0.9"/>
<line x1="47.3" x2="50.5" y1="414.3" y2="414.3" stroke="#5e5e5e" stroke-width="1.1"/>
<text x="44.6" y="419.2" text-anchor="end" class="tk">0.6</text>
<line x1="47.3" x2="50.5" y1="399.33" y2="399.33" stroke="#5e5e5e" stroke-width="1.1"/>
<text x="44.6" y="404.23" text-anchor="end" class="tk">0.7</text>
<line x1="47.3" x2="50.5" y1="384.37" y2="384.37" stroke="#5e5e5e" stroke-width="1.1"/>
<text x="44.6" y="389.27" text-anchor="end" class="tk">0.8</text>
<line x1="47.3" x2="50.5" y1="369.4" y2="369.4" stroke="#5e5e5e" stroke-width="1.1"/>
<text x="44.6" y="374.3" text-anchor="end" class="tk">0.9</text>
<line x1="47.3" x2="50.5" y1="354.43" y2="354.43" stroke="#5e5e5e" stroke-width="1.1"/>
<text x="44.6" y="359.33" text-anchor="end" class="tk">1.0</text>
<line x1="47.3" x2="50.5" y1="339.47" y2="339.47" stroke="#5e5e5e" stroke-width="1.1"/>
<text x="44.6" y="344.37" text-anchor="end" class="tk">1.1</text>
<line y1="413.5" y2="416.5" x1="55.5" x2="55.5" stroke="#5e5e5e" stroke-width="1.1"/>
<text x="55.5" y="428.1" text-anchor="middle" class="tkx">0</text>
<line y1="413.5" y2="416.5" x1="103.4" x2="103.4" stroke="#5e5e5e" stroke-width="1.1"/>
<text x="103.4" y="428.1" text-anchor="middle" class="tkx">50</text>
<line y1="413.5" y2="416.5" x1="151.3" x2="151.3" stroke="#5e5e5e" stroke-width="1.1"/>
<text x="151.3" y="428.1" text-anchor="middle" class="tkx">100</text>
<line y1="413.5" y2="416.5" x1="199.2" x2="199.2" stroke="#5e5e5e" stroke-width="1.1"/>
<text x="199.2" y="428.1" text-anchor="middle" class="tkx">150</text>
<text x="134" y="445.2" text-anchor="middle" class="ax">residues</text>
<text transform="translate(12,369) rotate(-90)" text-anchor="middle" class="ax">T<tspan font-size="8.8" dy="2.8">1</tspan><tspan dy="-2.8"> (s)</tspan></text>
<line x1="281.5" x2="448.5" y1="402.89" y2="402.89" stroke="#e5e5e5" stroke-width="0.6"/>
<line x1="281.5" x2="448.5" y1="380.46" y2="380.46" stroke="#e5e5e5" stroke-width="0.6"/>
<line x1="281.5" x2="448.5" y1="358.04" y2="358.04" stroke="#e5e5e5" stroke-width="0.6"/>
<line x1="281.5" x2="448.5" y1="335.61" y2="335.61" stroke="#e5e5e5" stroke-width="0.6"/>
<line y1="324.5" y2="413.5" x1="310.45" x2="310.45" stroke="#e5e5e5" stroke-width="0.6"/>
<line y1="324.5" y2="413.5" x1="358.35" x2="358.35" stroke="#e5e5e5" stroke-width="0.6"/>
<line y1="324.5" y2="413.5" x1="406.25" x2="406.25" stroke="#e5e5e5" stroke-width="0.6"/>
<line x1="281.5" x2="448.5" y1="391.68" y2="391.68" stroke="#cbcbcb" stroke-width="0.9"/>
<line x1="281.5" x2="448.5" y1="369.25" y2="369.25" stroke="#cbcbcb" stroke-width="0.9"/>
<line x1="281.5" x2="448.5" y1="346.82" y2="346.82" stroke="#cbcbcb" stroke-width="0.9"/>
<line y1="324.5" y2="413.5" x1="286.5" x2="286.5" stroke="#c4c4c4" stroke-width="0.9"/>
<line y1="324.5" y2="413.5" x1="334.4" x2="334.4" stroke="#c4c4c4" stroke-width="0.9"/>
<line y1="324.5" y2="413.5" x1="382.3" x2="382.3" stroke="#c4c4c4" stroke-width="0.9"/>
<line y1="324.5" y2="413.5" x1="430.2" x2="430.2" stroke="#c4c4c4" stroke-width="0.9"/>
<g clip-path="url(#c21)">
<polyline points="294.03,380.36 295.27,359.25 296.14,371.67 297.13,396.5 298.37,389.05 299.61,389.05 300.85,390.29 302.09,389.05 303.34,390.29 304.58,391.53 305.82,390.91 307.06,391.53 308.3,390.29 309.54,391.53 310.78,389.05 312.02,387.81 313.26,385.32 314.5,386.57 315.74,384.08 316.99,385.32 318.23,389.05 319.47,396.5 320.71,397.74 321.95,397.74 323.19,391.53 324.43,390.29 325.67,395.26 326.91,389.05 328.15,396.5 329.39,392.77 330.64,398.98 331.88,389.05 333.12,397.74 334.36,391.53 335.6,387.81 336.84,386.57 338.08,389.05 339.32,389.05 340.56,387.81 341.8,389.05 343.04,389.05 344.28,384.08 345.53,386.57 346.77,391.53 348.01,381.6 349.25,380.36 350.49,379.12 351.73,384.08 352.97,381.6 354.21,381.6 355.45,384.08 356.69,385.32 357.93,395.26 359.18,389.05 360.42,391.53 361.66,389.05 362.9,389.05 364.14,386.57 364,386.57 365.86,387.81 367.72,389.05 369.58,386.57 371.45,387.81 373.31,386.57 375.17,389.05 377.03,390.29 378.89,387.81 379.88,394.02 381.12,390.29 382.36,397.74 383.61,391.53 384.85,384.08 386.09,381.6 387.58,376.63 388.82,395.26 390.06,397.74 391.3,398.98 392.54,374.15 393.78,371.67 395.02,396.5 396.26,395.26 397.5,376.63 398.74,381.6 399.99,396.5 401.23,384.08 402.47,387.81 403.71,396.5 404.95,394.02 406.19,391.53 407.43,392.77 408.67,396.5 409.91,394.02 411.15,389.05 412.39,392.77 413.64,374.15 414.88,375.39 416.12,389.05 417.36,397.74 418.6,384.08 419.84,396.5 421.08,391.53 422.32,396.5 423.56,396.5 424.8,394.02 426.04,391.53 427.28,395.26 428.53,391.53 429.77,396.5 431.01,395.26 432.25,396.5 433.49,395.26 434.73,386.57 435.35,364.22 436.22,369.18 437.21,377.87 438.45,377.87 439.07,340.62 439.94,335.66" fill="none" stroke="#d7a253" stroke-width="1.9" stroke-linejoin="round" stroke-linecap="round" opacity="1"/>
<line x1="296.14" x2="296.14" y1="341.87" y2="346.83" stroke="#9a9a9a" stroke-width="0.9"/>
<line x1="351.11" x2="351.11" y1="325.72" y2="330.69" stroke="#9a9a9a" stroke-width="0.9"/>
<polyline points="295.89,346.21 296.88,360.49 305.2,386.57 307.06,386.57 308.92,387.81 310.78,381.6 312.02,382.84 313.26,384.08 314.5,382.84 315.74,380.36 316.99,386.57 318.23,385.32 319.47,367.94 320.71,382.84 321.95,386.57 323.19,389.05 324.43,389.67 325.67,386.57 326.91,385.32 328.15,385.32 329.39,387.81 330.64,384.08 331.88,391.53 333.12,381.6 334.36,379.12 335.6,382.84 336.84,384.08 338.08,386.57 339.32,382.84 340.56,381.6 341.8,367.94 343.04,380.36 344.28,382.84 345.53,396.5 346.77,384.08 348.01,380.36 349.25,379.12 350.49,329.45 351.73,391.53 360.42,395.26 361.66,387.81 362.9,389.05 364.14,389.05 364,389.05 365.86,387.81 367.72,386.57 369.58,384.08 371.45,382.84 373.31,380.36 375.17,381.6 376.41,384.08 377.65,386.57 378.64,377.87 379.51,385.32 380.75,387.81 382.61,385.32 384.47,384.08 385.72,381.6 386.96,375.39 388.2,369.18 389.44,366.7 391.3,372.91 392.54,375.39 393.78,380.36 395.02,364.22 396.26,376.63 396.88,387.81 398.12,380.36 399.36,379.12 400.61,386.57 401.85,392.77 403.09,385.32 404.33,384.08 406.19,387.81 407.43,391.53 408.67,387.81 410.53,382.84 412.39,382.84 414.26,377.87 416.12,374.15 417.98,371.67 419.22,379.12 420.46,387.81 421.7,391.53 422.94,384.08 424.18,382.84 426.04,386.57 427.91,385.32 429.77,386.57 431.63,386.57 432.87,380.36 434.11,374.15 435.97,371.67" fill="none" stroke="#161616" stroke-width="2.9" stroke-linejoin="round" stroke-linecap="round" opacity="1"/>
<circle cx="295.89" cy="346.21" r="1.7" fill="#1a1a1a" stroke="#6a6a6a" stroke-width="0.55"/>
<circle cx="296.88" cy="360.49" r="1.7" fill="#1a1a1a" stroke="#6a6a6a" stroke-width="0.55"/>
<circle cx="305.2" cy="386.57" r="1.7" fill="#1a1a1a" stroke="#6a6a6a" stroke-width="0.55"/>
<circle cx="307.06" cy="386.57" r="1.7" fill="#1a1a1a" stroke="#6a6a6a" stroke-width="0.55"/>
<circle cx="308.92" cy="387.81" r="1.7" fill="#1a1a1a" stroke="#6a6a6a" stroke-width="0.55"/>
<circle cx="310.78" cy="381.6" r="1.7" fill="#1a1a1a" stroke="#6a6a6a" stroke-width="0.55"/>
<circle cx="312.02" cy="382.84" r="1.7" fill="#1a1a1a" stroke="#6a6a6a" stroke-width="0.55"/>
<circle cx="313.26" cy="384.08" r="1.7" fill="#1a1a1a" stroke="#6a6a6a" stroke-width="0.55"/>
<circle cx="314.5" cy="382.84" r="1.7" fill="#1a1a1a" stroke="#6a6a6a" stroke-width="0.55"/>
<circle cx="315.74" cy="380.36" r="1.7" fill="#1a1a1a" stroke="#6a6a6a" stroke-width="0.55"/>
<circle cx="316.99" cy="386.57" r="1.7" fill="#1a1a1a" stroke="#6a6a6a" stroke-width="0.55"/>
<circle cx="318.23" cy="385.32" r="1.7" fill="#1a1a1a" stroke="#6a6a6a" stroke-width="0.55"/>
<circle cx="319.47" cy="367.94" r="1.7" fill="#1a1a1a" stroke="#6a6a6a" stroke-width="0.55"/>
<circle cx="320.71" cy="382.84" r="1.7" fill="#1a1a1a" stroke="#6a6a6a" stroke-width="0.55"/>
<circle cx="321.95" cy="386.57" r="1.7" fill="#1a1a1a" stroke="#6a6a6a" stroke-width="0.55"/>
<circle cx="323.19" cy="389.05" r="1.7" fill="#1a1a1a" stroke="#6a6a6a" stroke-width="0.55"/>
<circle cx="324.43" cy="389.67" r="1.7" fill="#1a1a1a" stroke="#6a6a6a" stroke-width="0.55"/>
<circle cx="325.67" cy="386.57" r="1.7" fill="#1a1a1a" stroke="#6a6a6a" stroke-width="0.55"/>
<circle cx="326.91" cy="385.32" r="1.7" fill="#1a1a1a" stroke="#6a6a6a" stroke-width="0.55"/>
<circle cx="328.15" cy="385.32" r="1.7" fill="#1a1a1a" stroke="#6a6a6a" stroke-width="0.55"/>
<circle cx="329.39" cy="387.81" r="1.7" fill="#1a1a1a" stroke="#6a6a6a" stroke-width="0.55"/>
<circle cx="330.64" cy="384.08" r="1.7" fill="#1a1a1a" stroke="#6a6a6a" stroke-width="0.55"/>
<circle cx="331.88" cy="391.53" r="1.7" fill="#1a1a1a" stroke="#6a6a6a" stroke-width="0.55"/>
<circle cx="333.12" cy="381.6" r="1.7" fill="#1a1a1a" stroke="#6a6a6a" stroke-width="0.55"/>
<circle cx="334.36" cy="379.12" r="1.7" fill="#1a1a1a" stroke="#6a6a6a" stroke-width="0.55"/>
<circle cx="335.6" cy="382.84" r="1.7" fill="#1a1a1a" stroke="#6a6a6a" stroke-width="0.55"/>
<circle cx="336.84" cy="384.08" r="1.7" fill="#1a1a1a" stroke="#6a6a6a" stroke-width="0.55"/>
<circle cx="338.08" cy="386.57" r="1.7" fill="#1a1a1a" stroke="#6a6a6a" stroke-width="0.55"/>
<circle cx="339.32" cy="382.84" r="1.7" fill="#1a1a1a" stroke="#6a6a6a" stroke-width="0.55"/>
<circle cx="340.56" cy="381.6" r="1.7" fill="#1a1a1a" stroke="#6a6a6a" stroke-width="0.55"/>
<circle cx="341.8" cy="367.94" r="1.7" fill="#1a1a1a" stroke="#6a6a6a" stroke-width="0.55"/>
<circle cx="343.04" cy="380.36" r="1.7" fill="#1a1a1a" stroke="#6a6a6a" stroke-width="0.55"/>
<circle cx="344.28" cy="382.84" r="1.7" fill="#1a1a1a" stroke="#6a6a6a" stroke-width="0.55"/>
<circle cx="345.53" cy="396.5" r="1.7" fill="#1a1a1a" stroke="#6a6a6a" stroke-width="0.55"/>
<circle cx="346.77" cy="384.08" r="1.7" fill="#1a1a1a" stroke="#6a6a6a" stroke-width="0.55"/>
<circle cx="348.01" cy="380.36" r="1.7" fill="#1a1a1a" stroke="#6a6a6a" stroke-width="0.55"/>
<circle cx="349.25" cy="379.12" r="1.7" fill="#1a1a1a" stroke="#6a6a6a" stroke-width="0.55"/>
<circle cx="350.49" cy="329.45" r="1.7" fill="#1a1a1a" stroke="#6a6a6a" stroke-width="0.55"/>
<circle cx="351.73" cy="391.53" r="1.7" fill="#1a1a1a" stroke="#6a6a6a" stroke-width="0.55"/>
<circle cx="360.42" cy="395.26" r="1.7" fill="#1a1a1a" stroke="#6a6a6a" stroke-width="0.55"/>
<circle cx="361.66" cy="387.81" r="1.7" fill="#1a1a1a" stroke="#6a6a6a" stroke-width="0.55"/>
<circle cx="362.9" cy="389.05" r="1.7" fill="#1a1a1a" stroke="#6a6a6a" stroke-width="0.55"/>
<circle cx="364.14" cy="389.05" r="1.7" fill="#1a1a1a" stroke="#6a6a6a" stroke-width="0.55"/>
<circle cx="364" cy="389.05" r="1.7" fill="#1a1a1a" stroke="#6a6a6a" stroke-width="0.55"/>
<circle cx="365.86" cy="387.81" r="1.7" fill="#1a1a1a" stroke="#6a6a6a" stroke-width="0.55"/>
<circle cx="367.72" cy="386.57" r="1.7" fill="#1a1a1a" stroke="#6a6a6a" stroke-width="0.55"/>
<circle cx="369.58" cy="384.08" r="1.7" fill="#1a1a1a" stroke="#6a6a6a" stroke-width="0.55"/>
<circle cx="371.45" cy="382.84" r="1.7" fill="#1a1a1a" stroke="#6a6a6a" stroke-width="0.55"/>
<circle cx="373.31" cy="380.36" r="1.7" fill="#1a1a1a" stroke="#6a6a6a" stroke-width="0.55"/>
<circle cx="375.17" cy="381.6" r="1.7" fill="#1a1a1a" stroke="#6a6a6a" stroke-width="0.55"/>
<circle cx="376.41" cy="384.08" r="1.7" fill="#1a1a1a" stroke="#6a6a6a" stroke-width="0.55"/>
<circle cx="377.65" cy="386.57" r="1.7" fill="#1a1a1a" stroke="#6a6a6a" stroke-width="0.55"/>
<circle cx="378.64" cy="377.87" r="1.7" fill="#1a1a1a" stroke="#6a6a6a" stroke-width="0.55"/>
<circle cx="379.51" cy="385.32" r="1.7" fill="#1a1a1a" stroke="#6a6a6a" stroke-width="0.55"/>
<circle cx="380.75" cy="387.81" r="1.7" fill="#1a1a1a" stroke="#6a6a6a" stroke-width="0.55"/>
<circle cx="382.61" cy="385.32" r="1.7" fill="#1a1a1a" stroke="#6a6a6a" stroke-width="0.55"/>
<circle cx="384.47" cy="384.08" r="1.7" fill="#1a1a1a" stroke="#6a6a6a" stroke-width="0.55"/>
<circle cx="385.72" cy="381.6" r="1.7" fill="#1a1a1a" stroke="#6a6a6a" stroke-width="0.55"/>
<circle cx="386.96" cy="375.39" r="1.7" fill="#1a1a1a" stroke="#6a6a6a" stroke-width="0.55"/>
<circle cx="388.2" cy="369.18" r="1.7" fill="#1a1a1a" stroke="#6a6a6a" stroke-width="0.55"/>
<circle cx="389.44" cy="366.7" r="1.7" fill="#1a1a1a" stroke="#6a6a6a" stroke-width="0.55"/>
<circle cx="391.3" cy="372.91" r="1.7" fill="#1a1a1a" stroke="#6a6a6a" stroke-width="0.55"/>
<circle cx="392.54" cy="375.39" r="1.7" fill="#1a1a1a" stroke="#6a6a6a" stroke-width="0.55"/>
<circle cx="393.78" cy="380.36" r="1.7" fill="#1a1a1a" stroke="#6a6a6a" stroke-width="0.55"/>
<circle cx="395.02" cy="364.22" r="1.7" fill="#1a1a1a" stroke="#6a6a6a" stroke-width="0.55"/>
<circle cx="396.26" cy="376.63" r="1.7" fill="#1a1a1a" stroke="#6a6a6a" stroke-width="0.55"/>
<circle cx="396.88" cy="387.81" r="1.7" fill="#1a1a1a" stroke="#6a6a6a" stroke-width="0.55"/>
<circle cx="398.12" cy="380.36" r="1.7" fill="#1a1a1a" stroke="#6a6a6a" stroke-width="0.55"/>
<circle cx="399.36" cy="379.12" r="1.7" fill="#1a1a1a" stroke="#6a6a6a" stroke-width="0.55"/>
<circle cx="400.61" cy="386.57" r="1.7" fill="#1a1a1a" stroke="#6a6a6a" stroke-width="0.55"/>
<circle cx="401.85" cy="392.77" r="1.7" fill="#1a1a1a" stroke="#6a6a6a" stroke-width="0.55"/>
<circle cx="403.09" cy="385.32" r="1.7" fill="#1a1a1a" stroke="#6a6a6a" stroke-width="0.55"/>
<circle cx="404.33" cy="384.08" r="1.7" fill="#1a1a1a" stroke="#6a6a6a" stroke-width="0.55"/>
<circle cx="406.19" cy="387.81" r="1.7" fill="#1a1a1a" stroke="#6a6a6a" stroke-width="0.55"/>
<circle cx="407.43" cy="391.53" r="1.7" fill="#1a1a1a" stroke="#6a6a6a" stroke-width="0.55"/>
<circle cx="408.67" cy="387.81" r="1.7" fill="#1a1a1a" stroke="#6a6a6a" stroke-width="0.55"/>
<circle cx="410.53" cy="382.84" r="1.7" fill="#1a1a1a" stroke="#6a6a6a" stroke-width="0.55"/>
<circle cx="412.39" cy="382.84" r="1.7" fill="#1a1a1a" stroke="#6a6a6a" stroke-width="0.55"/>
<circle cx="414.26" cy="377.87" r="1.7" fill="#1a1a1a" stroke="#6a6a6a" stroke-width="0.55"/>
<circle cx="416.12" cy="374.15" r="1.7" fill="#1a1a1a" stroke="#6a6a6a" stroke-width="0.55"/>
<circle cx="417.98" cy="371.67" r="1.7" fill="#1a1a1a" stroke="#6a6a6a" stroke-width="0.55"/>
<circle cx="419.22" cy="379.12" r="1.7" fill="#1a1a1a" stroke="#6a6a6a" stroke-width="0.55"/>
<circle cx="420.46" cy="387.81" r="1.7" fill="#1a1a1a" stroke="#6a6a6a" stroke-width="0.55"/>
<circle cx="421.7" cy="391.53" r="1.7" fill="#1a1a1a" stroke="#6a6a6a" stroke-width="0.55"/>
<circle cx="422.94" cy="384.08" r="1.7" fill="#1a1a1a" stroke="#6a6a6a" stroke-width="0.55"/>
<circle cx="424.18" cy="382.84" r="1.7" fill="#1a1a1a" stroke="#6a6a6a" stroke-width="0.55"/>
<circle cx="426.04" cy="386.57" r="1.7" fill="#1a1a1a" stroke="#6a6a6a" stroke-width="0.55"/>
<circle cx="427.91" cy="385.32" r="1.7" fill="#1a1a1a" stroke="#6a6a6a" stroke-width="0.55"/>
<circle cx="429.77" cy="386.57" r="1.7" fill="#1a1a1a" stroke="#6a6a6a" stroke-width="0.55"/>
<circle cx="431.63" cy="386.57" r="1.7" fill="#1a1a1a" stroke="#6a6a6a" stroke-width="0.55"/>
<circle cx="432.87" cy="380.36" r="1.7" fill="#1a1a1a" stroke="#6a6a6a" stroke-width="0.55"/>
<circle cx="434.11" cy="374.15" r="1.7" fill="#1a1a1a" stroke="#6a6a6a" stroke-width="0.55"/>
<circle cx="435.97" cy="371.67" r="1.7" fill="#1a1a1a" stroke="#6a6a6a" stroke-width="0.55"/>
</g>
<rect x="281.5" y="324.5" width="167" height="89" fill="none" stroke="#6e6e6e" stroke-width="0.9"/>
<line x1="278.3" x2="281.5" y1="414.1" y2="414.1" stroke="#5e5e5e" stroke-width="1.1"/>
<text x="276" y="419" text-anchor="end" class="tk">0.00</text>
<line x1="278.3" x2="281.5" y1="391.68" y2="391.68" stroke="#5e5e5e" stroke-width="1.1"/>
<text x="276" y="396.57" text-anchor="end" class="tk">0.05</text>
<line x1="278.3" x2="281.5" y1="369.25" y2="369.25" stroke="#5e5e5e" stroke-width="1.1"/>
<text x="276" y="374.15" text-anchor="end" class="tk">0.10</text>
<line x1="278.3" x2="281.5" y1="346.82" y2="346.82" stroke="#5e5e5e" stroke-width="1.1"/>
<text x="276" y="351.72" text-anchor="end" class="tk">0.15</text>
<line x1="278.3" x2="281.5" y1="324.4" y2="324.4" stroke="#5e5e5e" stroke-width="1.1"/>
<text x="276" y="329.3" text-anchor="end" class="tk">0.20</text>
<line y1="413.5" y2="416.5" x1="286.5" x2="286.5" stroke="#5e5e5e" stroke-width="1.1"/>
<text x="286.5" y="428.1" text-anchor="middle" class="tkx">0</text>
<line y1="413.5" y2="416.5" x1="334.4" x2="334.4" stroke="#5e5e5e" stroke-width="1.1"/>
<text x="334.4" y="428.1" text-anchor="middle" class="tkx">50</text>
<line y1="413.5" y2="416.5" x1="382.3" x2="382.3" stroke="#5e5e5e" stroke-width="1.1"/>
<text x="382.3" y="428.1" text-anchor="middle" class="tkx">100</text>
<line y1="413.5" y2="416.5" x1="430.2" x2="430.2" stroke="#5e5e5e" stroke-width="1.1"/>
<text x="430.2" y="428.1" text-anchor="middle" class="tkx">150</text>
<text x="365" y="445.2" text-anchor="middle" class="ax">residues</text>
<text transform="translate(243,369) rotate(-90)" text-anchor="middle" class="ax">T<tspan font-size="8.8" dy="2.8">2</tspan><tspan dy="-2.8"> (s)</tspan></text>
<line x1="512.5" x2="679.5" y1="402.89" y2="402.89" stroke="#e5e5e5" stroke-width="0.6"/>
<line x1="512.5" x2="679.5" y1="380.46" y2="380.46" stroke="#e5e5e5" stroke-width="0.6"/>
<line x1="512.5" x2="679.5" y1="358.04" y2="358.04" stroke="#e5e5e5" stroke-width="0.6"/>
<line x1="512.5" x2="679.5" y1="335.61" y2="335.61" stroke="#e5e5e5" stroke-width="0.6"/>
<line y1="324.5" y2="413.5" x1="541.52" x2="541.52" stroke="#e5e5e5" stroke-width="0.6"/>
<line y1="324.5" y2="413.5" x1="589.77" x2="589.77" stroke="#e5e5e5" stroke-width="0.6"/>
<line y1="324.5" y2="413.5" x1="638.02" x2="638.02" stroke="#e5e5e5" stroke-width="0.6"/>
<line x1="512.5" x2="679.5" y1="391.68" y2="391.68" stroke="#cbcbcb" stroke-width="0.9"/>
<line x1="512.5" x2="679.5" y1="369.25" y2="369.25" stroke="#cbcbcb" stroke-width="0.9"/>
<line x1="512.5" x2="679.5" y1="346.82" y2="346.82" stroke="#cbcbcb" stroke-width="0.9"/>
<line y1="324.5" y2="413.5" x1="517.4" x2="517.4" stroke="#c4c4c4" stroke-width="0.9"/>
<line y1="324.5" y2="413.5" x1="565.65" x2="565.65" stroke="#c4c4c4" stroke-width="0.9"/>
<line y1="324.5" y2="413.5" x1="613.9" x2="613.9" stroke="#c4c4c4" stroke-width="0.9"/>
<line y1="324.5" y2="413.5" x1="662.15" x2="662.15" stroke="#c4c4c4" stroke-width="0.9"/>
<g clip-path="url(#c22)">
<polyline points="525.65,401.47 526.27,386.57 526.89,374.15 528.13,359.25 529.37,351.8 530.61,348.07 531.85,346.83 533.09,350.56 534.34,346.83 535.58,344.35 536.82,346.83 538.06,346.83 539.3,349.32 540.54,348.07 541.78,350.56 543.02,354.28 544.26,356.77 545.5,358.01 546.74,359.25 547.99,361.73 549.23,366.7 550.47,362.97 551.71,354.28 552.95,353.04 554.19,355.52 555.43,353.04 556.67,350.56 557.91,349.32 559.15,346.83 560.39,348.07 561.64,349.32 562.88,349.32 564.12,348.07 565.36,349.32 566.6,358.01 567.84,351.8 569.08,350.56 570.32,349.32 571.56,346.83 572.8,349.32 574.04,346.83 575.28,349.32 576.53,353.04 577.77,361.73 579.01,360.49 580.25,365.46 581.49,375.39 582.73,371.67 583.97,364.22 585.21,360.49 586.45,359.25 587.69,354.28 588.93,348.07 590.18,346.83 591.42,348.07 592.66,349.32 593.9,353.04 595.14,350.56 595,351.8 596.86,350.56 598.72,348.07 600.58,346.83 602.45,350.56 604.31,351.8 606.17,354.28 607.41,356.77 608.65,354.28 609.89,351.8 611.13,354.28 612.37,359.25 613.61,361.73 614.85,365.46 616.09,369.18 617.34,367.94 618.58,364.22 619.82,366.7 621.06,369.18 622.3,366.7 623.54,369.18 624.78,371.67 626.02,366.7 627.26,360.49 628.5,358.01 629.74,362.97 630.99,354.28 632.23,353.04 633.47,351.8 634.71,350.56 635.95,350.56 637.19,351.8 638.43,350.56 639.67,354.28 640.91,356.77 642.15,358.01 643.39,359.25 644.64,369.18 645.88,396.5 647.12,384.08 648.36,365.46 649.6,361.73 650.84,356.77 652.08,354.28 653.32,351.8 654.56,350.56 655.8,349.32 657.04,350.56 658.28,351.8 659.53,353.04 660.77,354.28 662.01,356.77 663.25,359.25 664.49,361.73 665.73,366.7 666.97,374.15 668.21,381.6 669.45,391.53" fill="none" stroke="#d7a253" stroke-width="1.9" stroke-linejoin="round" stroke-linecap="round" opacity="1"/>
<polyline points="521.31,413.88 522.55,402.71 523.79,395.26 525.03,385.32 526.27,369.18 526.89,351.8 528.13,348.07 529.99,341.87 531.85,335.66 533.72,326.97 534.96,325.72 536.2,336.9 537.44,350.56 538.06,355.52 539.3,330.69 540.54,329.45 541.78,328.21 543.02,331.93 544.26,326.97 545.5,341.87 546.74,344.35 547.99,341.87 549.23,365.46 550.47,345.59 551.71,339.38 552.95,346.83 554.19,336.9 555.43,355.52 556.67,340.62 557.91,326.97 559.15,325.72 560.39,360.49 561.01,333.17 562.26,334.42 564.12,382.84 565.36,326.97 566.6,325.72 567.84,330.69 569.08,336.9 570.32,365.46 571.56,349.32 572.8,351.8 574.04,338.14 575.28,333.17 576.53,353.04 577.77,331.93 579.01,330.69 580.25,350.56 581.49,375.39 582.73,353.04 583.97,349.32 586.45,344.35 588.93,339.38 591.42,330.69 593.28,346.83 594.52,345.59 595,340.62 596.24,335.66 597.48,325.72 598.72,362.97 599.96,353.04 601.2,333.17 602.45,338.14 603.69,338.14 604.93,343.11 606.17,346.83 607.41,351.8 608.65,344.35 609.89,325.72 611.13,344.35 612.37,350.56 613.61,355.52 614.85,361.73 616.09,371.67 617.34,362.97 618.58,376.63 619.82,371.67 621.06,374.15 622.3,356.77 623.54,369.18 624.78,362.97 626.02,367.94 627.26,351.8 628.5,346.83 629.74,345.59 630.99,340.62 632.23,335.66 633.47,339.38 634.71,343.11 635.95,333.17 637.19,333.17 638.43,344.35 639.67,350.56 640.91,353.04 641.53,372.91 642.77,356.77 644.64,358.01 646.5,359.25 648.36,360.49 649.6,344.35 650.84,346.83 652.08,331.93 653.32,339.38 654.56,338.14 655.8,344.35 657.04,355.52 658.28,338.14 659.53,334.42 660.77,346.83 662.01,353.04 663.25,356.77 664.49,343.11 665.73,355.52 666.97,364.22 668.21,371.67 669.45,379.12 670.69,396.5 671.93,413.88" fill="none" stroke="#161616" stroke-width="2.8" stroke-linejoin="round" stroke-linecap="round" opacity="1"/>
<circle cx="521.31" cy="413.88" r="1.7" fill="#161616" stroke="none" stroke-width="0"/>
<circle cx="522.55" cy="402.71" r="1.7" fill="#161616" stroke="none" stroke-width="0"/>
<circle cx="523.79" cy="395.26" r="1.7" fill="#161616" stroke="none" stroke-width="0"/>
<circle cx="525.03" cy="385.32" r="1.7" fill="#161616" stroke="none" stroke-width="0"/>
<circle cx="526.27" cy="369.18" r="1.7" fill="#161616" stroke="none" stroke-width="0"/>
<circle cx="526.89" cy="351.8" r="1.7" fill="#161616" stroke="none" stroke-width="0"/>
<circle cx="528.13" cy="348.07" r="1.7" fill="#161616" stroke="none" stroke-width="0"/>
<circle cx="529.99" cy="341.87" r="1.7" fill="#161616" stroke="none" stroke-width="0"/>
<circle cx="531.85" cy="335.66" r="1.7" fill="#161616" stroke="none" stroke-width="0"/>
<circle cx="533.72" cy="326.97" r="1.7" fill="#161616" stroke="none" stroke-width="0"/>
<circle cx="534.96" cy="325.72" r="1.7" fill="#161616" stroke="none" stroke-width="0"/>
<circle cx="536.2" cy="336.9" r="1.7" fill="#161616" stroke="none" stroke-width="0"/>
<circle cx="537.44" cy="350.56" r="1.7" fill="#161616" stroke="none" stroke-width="0"/>
<circle cx="538.06" cy="355.52" r="1.7" fill="#161616" stroke="none" stroke-width="0"/>
<circle cx="539.3" cy="330.69" r="1.7" fill="#161616" stroke="none" stroke-width="0"/>
<circle cx="540.54" cy="329.45" r="1.7" fill="#161616" stroke="none" stroke-width="0"/>
<circle cx="541.78" cy="328.21" r="1.7" fill="#161616" stroke="none" stroke-width="0"/>
<circle cx="543.02" cy="331.93" r="1.7" fill="#161616" stroke="none" stroke-width="0"/>
<circle cx="544.26" cy="326.97" r="1.7" fill="#161616" stroke="none" stroke-width="0"/>
<circle cx="545.5" cy="341.87" r="1.7" fill="#161616" stroke="none" stroke-width="0"/>
<circle cx="546.74" cy="344.35" r="1.7" fill="#161616" stroke="none" stroke-width="0"/>
<circle cx="547.99" cy="341.87" r="1.7" fill="#161616" stroke="none" stroke-width="0"/>
<circle cx="549.23" cy="365.46" r="1.7" fill="#161616" stroke="none" stroke-width="0"/>
<circle cx="550.47" cy="345.59" r="1.7" fill="#161616" stroke="none" stroke-width="0"/>
<circle cx="551.71" cy="339.38" r="1.7" fill="#161616" stroke="none" stroke-width="0"/>
<circle cx="552.95" cy="346.83" r="1.7" fill="#161616" stroke="none" stroke-width="0"/>
<circle cx="554.19" cy="336.9" r="1.7" fill="#161616" stroke="none" stroke-width="0"/>
<circle cx="555.43" cy="355.52" r="1.7" fill="#161616" stroke="none" stroke-width="0"/>
<circle cx="556.67" cy="340.62" r="1.7" fill="#161616" stroke="none" stroke-width="0"/>
<circle cx="557.91" cy="326.97" r="1.7" fill="#161616" stroke="none" stroke-width="0"/>
<circle cx="559.15" cy="325.72" r="1.7" fill="#161616" stroke="none" stroke-width="0"/>
<circle cx="560.39" cy="360.49" r="1.7" fill="#161616" stroke="none" stroke-width="0"/>
<circle cx="561.01" cy="333.17" r="1.7" fill="#161616" stroke="none" stroke-width="0"/>
<circle cx="562.26" cy="334.42" r="1.7" fill="#161616" stroke="none" stroke-width="0"/>
<circle cx="564.12" cy="382.84" r="1.7" fill="#161616" stroke="none" stroke-width="0"/>
<circle cx="565.36" cy="326.97" r="1.7" fill="#161616" stroke="none" stroke-width="0"/>
<circle cx="566.6" cy="325.72" r="1.7" fill="#161616" stroke="none" stroke-width="0"/>
<circle cx="567.84" cy="330.69" r="1.7" fill="#161616" stroke="none" stroke-width="0"/>
<circle cx="569.08" cy="336.9" r="1.7" fill="#161616" stroke="none" stroke-width="0"/>
<circle cx="570.32" cy="365.46" r="1.7" fill="#161616" stroke="none" stroke-width="0"/>
<circle cx="571.56" cy="349.32" r="1.7" fill="#161616" stroke="none" stroke-width="0"/>
<circle cx="572.8" cy="351.8" r="1.7" fill="#161616" stroke="none" stroke-width="0"/>
<circle cx="574.04" cy="338.14" r="1.7" fill="#161616" stroke="none" stroke-width="0"/>
<circle cx="575.28" cy="333.17" r="1.7" fill="#161616" stroke="none" stroke-width="0"/>
<circle cx="576.53" cy="353.04" r="1.7" fill="#161616" stroke="none" stroke-width="0"/>
<circle cx="577.77" cy="331.93" r="1.7" fill="#161616" stroke="none" stroke-width="0"/>
<circle cx="579.01" cy="330.69" r="1.7" fill="#161616" stroke="none" stroke-width="0"/>
<circle cx="580.25" cy="350.56" r="1.7" fill="#161616" stroke="none" stroke-width="0"/>
<circle cx="581.49" cy="375.39" r="1.7" fill="#161616" stroke="none" stroke-width="0"/>
<circle cx="582.73" cy="353.04" r="1.7" fill="#161616" stroke="none" stroke-width="0"/>
<circle cx="583.97" cy="349.32" r="1.7" fill="#161616" stroke="none" stroke-width="0"/>
<circle cx="586.45" cy="344.35" r="1.7" fill="#161616" stroke="none" stroke-width="0"/>
<circle cx="588.93" cy="339.38" r="1.7" fill="#161616" stroke="none" stroke-width="0"/>
<circle cx="591.42" cy="330.69" r="1.7" fill="#161616" stroke="none" stroke-width="0"/>
<circle cx="593.28" cy="346.83" r="1.7" fill="#161616" stroke="none" stroke-width="0"/>
<circle cx="594.52" cy="345.59" r="1.7" fill="#161616" stroke="none" stroke-width="0"/>
<circle cx="595" cy="340.62" r="1.7" fill="#161616" stroke="none" stroke-width="0"/>
<circle cx="596.24" cy="335.66" r="1.7" fill="#161616" stroke="none" stroke-width="0"/>
<circle cx="597.48" cy="325.72" r="1.7" fill="#161616" stroke="none" stroke-width="0"/>
<circle cx="598.72" cy="362.97" r="1.7" fill="#161616" stroke="none" stroke-width="0"/>
<circle cx="599.96" cy="353.04" r="1.7" fill="#161616" stroke="none" stroke-width="0"/>
<circle cx="601.2" cy="333.17" r="1.7" fill="#161616" stroke="none" stroke-width="0"/>
<circle cx="602.45" cy="338.14" r="1.7" fill="#161616" stroke="none" stroke-width="0"/>
<circle cx="603.69" cy="338.14" r="1.7" fill="#161616" stroke="none" stroke-width="0"/>
<circle cx="604.93" cy="343.11" r="1.7" fill="#161616" stroke="none" stroke-width="0"/>
<circle cx="606.17" cy="346.83" r="1.7" fill="#161616" stroke="none" stroke-width="0"/>
<circle cx="607.41" cy="351.8" r="1.7" fill="#161616" stroke="none" stroke-width="0"/>
<circle cx="608.65" cy="344.35" r="1.7" fill="#161616" stroke="none" stroke-width="0"/>
<circle cx="609.89" cy="325.72" r="1.7" fill="#161616" stroke="none" stroke-width="0"/>
<circle cx="611.13" cy="344.35" r="1.7" fill="#161616" stroke="none" stroke-width="0"/>
<circle cx="612.37" cy="350.56" r="1.7" fill="#161616" stroke="none" stroke-width="0"/>
<circle cx="613.61" cy="355.52" r="1.7" fill="#161616" stroke="none" stroke-width="0"/>
<circle cx="614.85" cy="361.73" r="1.7" fill="#161616" stroke="none" stroke-width="0"/>
<circle cx="616.09" cy="371.67" r="1.7" fill="#161616" stroke="none" stroke-width="0"/>
<circle cx="617.34" cy="362.97" r="1.7" fill="#161616" stroke="none" stroke-width="0"/>
<circle cx="618.58" cy="376.63" r="1.7" fill="#161616" stroke="none" stroke-width="0"/>
<circle cx="619.82" cy="371.67" r="1.7" fill="#161616" stroke="none" stroke-width="0"/>
<circle cx="621.06" cy="374.15" r="1.7" fill="#161616" stroke="none" stroke-width="0"/>
<circle cx="622.3" cy="356.77" r="1.7" fill="#161616" stroke="none" stroke-width="0"/>
<circle cx="623.54" cy="369.18" r="1.7" fill="#161616" stroke="none" stroke-width="0"/>
<circle cx="624.78" cy="362.97" r="1.7" fill="#161616" stroke="none" stroke-width="0"/>
<circle cx="626.02" cy="367.94" r="1.7" fill="#161616" stroke="none" stroke-width="0"/>
<circle cx="627.26" cy="351.8" r="1.7" fill="#161616" stroke="none" stroke-width="0"/>
<circle cx="628.5" cy="346.83" r="1.7" fill="#161616" stroke="none" stroke-width="0"/>
<circle cx="629.74" cy="345.59" r="1.7" fill="#161616" stroke="none" stroke-width="0"/>
<circle cx="630.99" cy="340.62" r="1.7" fill="#161616" stroke="none" stroke-width="0"/>
<circle cx="632.23" cy="335.66" r="1.7" fill="#161616" stroke="none" stroke-width="0"/>
<circle cx="633.47" cy="339.38" r="1.7" fill="#161616" stroke="none" stroke-width="0"/>
<circle cx="634.71" cy="343.11" r="1.7" fill="#161616" stroke="none" stroke-width="0"/>
<circle cx="635.95" cy="333.17" r="1.7" fill="#161616" stroke="none" stroke-width="0"/>
<circle cx="637.19" cy="333.17" r="1.7" fill="#161616" stroke="none" stroke-width="0"/>
<circle cx="638.43" cy="344.35" r="1.7" fill="#161616" stroke="none" stroke-width="0"/>
<circle cx="639.67" cy="350.56" r="1.7" fill="#161616" stroke="none" stroke-width="0"/>
<circle cx="640.91" cy="353.04" r="1.7" fill="#161616" stroke="none" stroke-width="0"/>
<circle cx="641.53" cy="372.91" r="1.7" fill="#161616" stroke="none" stroke-width="0"/>
<circle cx="642.77" cy="356.77" r="1.7" fill="#161616" stroke="none" stroke-width="0"/>
<circle cx="644.64" cy="358.01" r="1.7" fill="#161616" stroke="none" stroke-width="0"/>
<circle cx="646.5" cy="359.25" r="1.7" fill="#161616" stroke="none" stroke-width="0"/>
<circle cx="648.36" cy="360.49" r="1.7" fill="#161616" stroke="none" stroke-width="0"/>
<circle cx="649.6" cy="344.35" r="1.7" fill="#161616" stroke="none" stroke-width="0"/>
<circle cx="650.84" cy="346.83" r="1.7" fill="#161616" stroke="none" stroke-width="0"/>
<circle cx="652.08" cy="331.93" r="1.7" fill="#161616" stroke="none" stroke-width="0"/>
<circle cx="653.32" cy="339.38" r="1.7" fill="#161616" stroke="none" stroke-width="0"/>
<circle cx="654.56" cy="338.14" r="1.7" fill="#161616" stroke="none" stroke-width="0"/>
<circle cx="655.8" cy="344.35" r="1.7" fill="#161616" stroke="none" stroke-width="0"/>
<circle cx="657.04" cy="355.52" r="1.7" fill="#161616" stroke="none" stroke-width="0"/>
<circle cx="658.28" cy="338.14" r="1.7" fill="#161616" stroke="none" stroke-width="0"/>
<circle cx="659.53" cy="334.42" r="1.7" fill="#161616" stroke="none" stroke-width="0"/>
<circle cx="660.77" cy="346.83" r="1.7" fill="#161616" stroke="none" stroke-width="0"/>
<circle cx="662.01" cy="353.04" r="1.7" fill="#161616" stroke="none" stroke-width="0"/>
<circle cx="663.25" cy="356.77" r="1.7" fill="#161616" stroke="none" stroke-width="0"/>
<circle cx="664.49" cy="343.11" r="1.7" fill="#161616" stroke="none" stroke-width="0"/>
<circle cx="665.73" cy="355.52" r="1.7" fill="#161616" stroke="none" stroke-width="0"/>
<circle cx="666.97" cy="364.22" r="1.7" fill="#161616" stroke="none" stroke-width="0"/>
<circle cx="668.21" cy="371.67" r="1.7" fill="#161616" stroke="none" stroke-width="0"/>
<circle cx="669.45" cy="379.12" r="1.7" fill="#161616" stroke="none" stroke-width="0"/>
<circle cx="670.69" cy="396.5" r="1.7" fill="#161616" stroke="none" stroke-width="0"/>
<circle cx="671.93" cy="413.88" r="1.7" fill="#161616" stroke="none" stroke-width="0"/>
</g>
<rect x="512.5" y="324.5" width="167" height="89" fill="none" stroke="#6e6e6e" stroke-width="0.9"/>
<line x1="509.3" x2="512.5" y1="414.1" y2="414.1" stroke="#5e5e5e" stroke-width="1.1"/>
<text x="507.2" y="419" text-anchor="end" class="tk">0.00</text>
<line x1="509.3" x2="512.5" y1="391.68" y2="391.68" stroke="#5e5e5e" stroke-width="1.1"/>
<text x="507.2" y="396.57" text-anchor="end" class="tk">0.25</text>
<line x1="509.3" x2="512.5" y1="369.25" y2="369.25" stroke="#5e5e5e" stroke-width="1.1"/>
<text x="507.2" y="374.15" text-anchor="end" class="tk">0.50</text>
<line x1="509.3" x2="512.5" y1="346.82" y2="346.82" stroke="#5e5e5e" stroke-width="1.1"/>
<text x="507.2" y="351.72" text-anchor="end" class="tk">0.75</text>
<line x1="509.3" x2="512.5" y1="324.4" y2="324.4" stroke="#5e5e5e" stroke-width="1.1"/>
<text x="507.2" y="329.3" text-anchor="end" class="tk">1.00</text>
<line y1="413.5" y2="416.5" x1="517.4" x2="517.4" stroke="#5e5e5e" stroke-width="1.1"/>
<text x="517.4" y="428.1" text-anchor="middle" class="tkx">0</text>
<line y1="413.5" y2="416.5" x1="565.65" x2="565.65" stroke="#5e5e5e" stroke-width="1.1"/>
<text x="565.65" y="428.1" text-anchor="middle" class="tkx">50</text>
<line y1="413.5" y2="416.5" x1="613.9" x2="613.9" stroke="#5e5e5e" stroke-width="1.1"/>
<text x="613.9" y="428.1" text-anchor="middle" class="tkx">100</text>
<line y1="413.5" y2="416.5" x1="662.15" x2="662.15" stroke="#5e5e5e" stroke-width="1.1"/>
<text x="662.15" y="428.1" text-anchor="middle" class="tkx">150</text>
<text x="596" y="445.2" text-anchor="middle" class="ax">residues</text>
<text transform="translate(474.6,369) rotate(-90)" text-anchor="middle" class="ax">hetNOE</text>
<text x="50.5" y="314.7" class="ti">CDNF</text>
<line x1="50.5" x2="216.5" y1="557.18" y2="557.18" stroke="#e5e5e5" stroke-width="0.6"/>
<line x1="50.5" x2="216.5" y1="539.34" y2="539.34" stroke="#e5e5e5" stroke-width="0.6"/>
<line x1="50.5" x2="216.5" y1="521.5" y2="521.5" stroke="#e5e5e5" stroke-width="0.6"/>
<line x1="50.5" x2="216.5" y1="503.66" y2="503.66" stroke="#e5e5e5" stroke-width="0.6"/>
<line x1="50.5" x2="216.5" y1="485.82" y2="485.82" stroke="#e5e5e5" stroke-width="0.6"/>
<line y1="477" y2="565.5" x1="77.97" x2="77.97" stroke="#e5e5e5" stroke-width="0.6"/>
<line y1="477" y2="565.5" x1="122.92" x2="122.92" stroke="#e5e5e5" stroke-width="0.6"/>
<line y1="477" y2="565.5" x1="167.88" x2="167.88" stroke="#e5e5e5" stroke-width="0.6"/>
<line y1="477" y2="565.5" x1="212.83" x2="212.83" stroke="#e5e5e5" stroke-width="0.6"/>
<line x1="50.5" x2="216.5" y1="548.26" y2="548.26" stroke="#cbcbcb" stroke-width="0.9"/>
<line x1="50.5" x2="216.5" y1="530.42" y2="530.42" stroke="#cbcbcb" stroke-width="0.9"/>
<line x1="50.5" x2="216.5" y1="512.58" y2="512.58" stroke="#cbcbcb" stroke-width="0.9"/>
<line x1="50.5" x2="216.5" y1="494.74" y2="494.74" stroke="#cbcbcb" stroke-width="0.9"/>
<line y1="477" y2="565.5" x1="55.5" x2="55.5" stroke="#c4c4c4" stroke-width="0.9"/>
<line y1="477" y2="565.5" x1="100.45" x2="100.45" stroke="#c4c4c4" stroke-width="0.9"/>
<line y1="477" y2="565.5" x1="145.4" x2="145.4" stroke="#c4c4c4" stroke-width="0.9"/>
<line y1="477" y2="565.5" x1="190.35" x2="190.35" stroke="#c4c4c4" stroke-width="0.9"/>
<g clip-path="url(#c30)">
<polyline points="57.45,492.38 58.07,512.25 58.69,530.87 59.93,535.84 61.17,543.29 62.41,535.84 63.65,544.53 64.89,532.12 66.13,542.05 67.37,534.6 68.61,522.18 69.85,519.7 71.09,517.22 72.34,514.73 73.58,513.49 74.82,504.8 76.06,512.25 77.3,509.77 78.54,513.49 79.78,497.35 81.02,507.28 82.26,509.77 83.5,512.25 84.74,506.04 85.99,499.83 87.23,498.59 88.47,487.42 89.71,482.45 90.95,489.9 92.19,499.83 93.43,496.11 94.67,506.04 95.91,514.73 97.15,508.52 98.39,508.52 99.64,512.25 100.88,509.77 102.12,513.49 103.36,511.01 104.6,512.25 105.84,517.22 107.08,515.97 108.32,519.7 109.56,527.15 110.8,523.42 112.04,519.7 113.28,522.18 114.53,518.46 115.77,524.67 117.01,522.18 118.25,484.93 119.49,489.9 120.73,499.83 121.97,507.28 123.21,512.25 124.45,517.22 125.69,522.18 126.93,515.97 128.18,514.73 129.42,519.7 130.66,517.22 133.14,515.97 133,514.73 134.24,515.97 135.48,517.22 136.72,511.01 137.96,512.25 139.2,504.8 140.45,506.04 141.69,507.28 142.93,506.04 144.17,509.77 145.41,504.8 146.65,507.28 147.89,511.01 149.13,513.49 150.37,514.73 151.61,515.97 152.85,518.46 154.09,519.7 155.34,522.18 156.58,523.42 157.82,527.15 159.06,529.63 160.3,534.6 161.54,537.08 162.78,527.15 164.02,529.63 165.26,524.67 166.5,522.18 167.74,517.22 168.99,517.22 170.23,519.7 171.47,518.46 172.71,524.67 173.95,519.7 175.19,527.15 176.43,532.12 177.67,529.63 178.91,511.01 180.15,515.97 181.39,507.28 182.64,502.32 183.88,503.56 185.12,509.77 185.74,498.59 186.98,509.77 188.22,504.8 189.46,517.22 190.7,514.73 191.94,507.28 193.18,517.22 194.42,504.8 195.66,512.25 196.91,519.7 198.15,507.28 199.39,523.42 200.63,527.15 201.87,528.39 203.11,529.63 204.35,527.15 205.59,538.32 206.83,529.63 208.07,533.36 209.31,508.52" fill="none" stroke="#abe0dc" stroke-width="1.8" stroke-linejoin="round" stroke-linecap="round" opacity="1"/>
<polyline points="73.58,556.33 74.2,547.02 84.74,503.56 85.36,480.59 86.61,533.36 87.85,499.83 89.09,487.42 89.71,524.67 90.95,518.46 92.81,519.7 94.67,520.94 96.53,522.18 99.64,513.49 100.88,484.93 102.12,496.11 103.36,519.7 103.98,479.97 105.22,506.04 107.08,507.28 108.32,522.18 109.56,503.56 110.8,512.25 112.04,522.18 113.28,488.04 114.53,508.52 115.77,506.04 117.63,524.67 118.87,499.83 120.11,483.07 121.97,499.83 123.21,535.84 124.45,524.67 125.69,535.84 126.93,522.18 128.18,522.18 129.42,520.94 130.66,539.57 131.9,522.18 133.14,509.77 133,522.18 134.24,512.25 135.48,491.76 136.72,506.04 137.96,512.25 139.2,513.49 141.07,515.35" fill="none" stroke="#161616" stroke-width="2.8" stroke-linejoin="round" stroke-linecap="round" opacity="1"/>
<circle cx="73.58" cy="556.33" r="1.7" fill="#161616" stroke="none" stroke-width="0"/>
<circle cx="74.2" cy="547.02" r="1.7" fill="#161616" stroke="none" stroke-width="0"/>
<circle cx="84.74" cy="503.56" r="1.7" fill="#161616" stroke="none" stroke-width="0"/>
<circle cx="85.36" cy="480.59" r="1.7" fill="#161616" stroke="none" stroke-width="0"/>
<circle cx="86.61" cy="533.36" r="1.7" fill="#161616" stroke="none" stroke-width="0"/>
<circle cx="87.85" cy="499.83" r="1.7" fill="#161616" stroke="none" stroke-width="0"/>
<circle cx="89.09" cy="487.42" r="1.7" fill="#161616" stroke="none" stroke-width="0"/>
<circle cx="89.71" cy="524.67" r="1.7" fill="#161616" stroke="none" stroke-width="0"/>
<circle cx="90.95" cy="518.46" r="1.7" fill="#161616" stroke="none" stroke-width="0"/>
<circle cx="92.81" cy="519.7" r="1.7" fill="#161616" stroke="none" stroke-width="0"/>
<circle cx="94.67" cy="520.94" r="1.7" fill="#161616" stroke="none" stroke-width="0"/>
<circle cx="96.53" cy="522.18" r="1.7" fill="#161616" stroke="none" stroke-width="0"/>
<circle cx="99.64" cy="513.49" r="1.7" fill="#161616" stroke="none" stroke-width="0"/>
<circle cx="100.88" cy="484.93" r="1.7" fill="#161616" stroke="none" stroke-width="0"/>
<circle cx="102.12" cy="496.11" r="1.7" fill="#161616" stroke="none" stroke-width="0"/>
<circle cx="103.36" cy="519.7" r="1.7" fill="#161616" stroke="none" stroke-width="0"/>
<circle cx="103.98" cy="479.97" r="1.7" fill="#161616" stroke="none" stroke-width="0"/>
<circle cx="105.22" cy="506.04" r="1.7" fill="#161616" stroke="none" stroke-width="0"/>
<circle cx="107.08" cy="507.28" r="1.7" fill="#161616" stroke="none" stroke-width="0"/>
<circle cx="108.32" cy="522.18" r="1.7" fill="#161616" stroke="none" stroke-width="0"/>
<circle cx="109.56" cy="503.56" r="1.7" fill="#161616" stroke="none" stroke-width="0"/>
<circle cx="110.8" cy="512.25" r="1.7" fill="#161616" stroke="none" stroke-width="0"/>
<circle cx="112.04" cy="522.18" r="1.7" fill="#161616" stroke="none" stroke-width="0"/>
<circle cx="113.28" cy="488.04" r="1.7" fill="#161616" stroke="none" stroke-width="0"/>
<circle cx="114.53" cy="508.52" r="1.7" fill="#161616" stroke="none" stroke-width="0"/>
<circle cx="115.77" cy="506.04" r="1.7" fill="#161616" stroke="none" stroke-width="0"/>
<circle cx="117.63" cy="524.67" r="1.7" fill="#161616" stroke="none" stroke-width="0"/>
<circle cx="118.87" cy="499.83" r="1.7" fill="#161616" stroke="none" stroke-width="0"/>
<circle cx="120.11" cy="483.07" r="1.7" fill="#161616" stroke="none" stroke-width="0"/>
<circle cx="121.97" cy="499.83" r="1.7" fill="#161616" stroke="none" stroke-width="0"/>
<circle cx="123.21" cy="535.84" r="1.7" fill="#161616" stroke="none" stroke-width="0"/>
<circle cx="124.45" cy="524.67" r="1.7" fill="#161616" stroke="none" stroke-width="0"/>
<circle cx="125.69" cy="535.84" r="1.7" fill="#161616" stroke="none" stroke-width="0"/>
<circle cx="126.93" cy="522.18" r="1.7" fill="#161616" stroke="none" stroke-width="0"/>
<circle cx="128.18" cy="522.18" r="1.7" fill="#161616" stroke="none" stroke-width="0"/>
<circle cx="129.42" cy="520.94" r="1.7" fill="#161616" stroke="none" stroke-width="0"/>
<circle cx="130.66" cy="539.57" r="1.7" fill="#161616" stroke="none" stroke-width="0"/>
<circle cx="131.9" cy="522.18" r="1.7" fill="#161616" stroke="none" stroke-width="0"/>
<circle cx="133.14" cy="509.77" r="1.7" fill="#161616" stroke="none" stroke-width="0"/>
<circle cx="133" cy="522.18" r="1.7" fill="#161616" stroke="none" stroke-width="0"/>
<circle cx="134.24" cy="512.25" r="1.7" fill="#161616" stroke="none" stroke-width="0"/>
<circle cx="135.48" cy="491.76" r="1.7" fill="#161616" stroke="none" stroke-width="0"/>
<circle cx="136.72" cy="506.04" r="1.7" fill="#161616" stroke="none" stroke-width="0"/>
<circle cx="137.96" cy="512.25" r="1.7" fill="#161616" stroke="none" stroke-width="0"/>
<circle cx="139.2" cy="513.49" r="1.7" fill="#161616" stroke="none" stroke-width="0"/>
<circle cx="141.07" cy="515.35" r="1.7" fill="#161616" stroke="none" stroke-width="0"/>
<polyline points="142.31,543.29 143.55,524.67 145.41,505.42 146.65,508.52 147.89,527.15 149.13,528.39 150.12,494.25 150.99,542.67 152.23,530.87" fill="none" stroke="#161616" stroke-width="2.8" stroke-linejoin="round" stroke-linecap="round" opacity="1"/>
<circle cx="142.31" cy="543.29" r="1.7" fill="#161616" stroke="none" stroke-width="0"/>
<circle cx="143.55" cy="524.67" r="1.7" fill="#161616" stroke="none" stroke-width="0"/>
<circle cx="145.41" cy="505.42" r="1.7" fill="#161616" stroke="none" stroke-width="0"/>
<circle cx="146.65" cy="508.52" r="1.7" fill="#161616" stroke="none" stroke-width="0"/>
<circle cx="147.89" cy="527.15" r="1.7" fill="#161616" stroke="none" stroke-width="0"/>
<circle cx="149.13" cy="528.39" r="1.7" fill="#161616" stroke="none" stroke-width="0"/>
<circle cx="150.12" cy="494.25" r="1.7" fill="#161616" stroke="none" stroke-width="0"/>
<circle cx="150.99" cy="542.67" r="1.7" fill="#161616" stroke="none" stroke-width="0"/>
<circle cx="152.23" cy="530.87" r="1.7" fill="#161616" stroke="none" stroke-width="0"/>
<polyline points="156.58,528.39 157.82,529.63 159.06,534.6 160.3,554.47 161.54,542.05 162.78,544.53 164.02,549.5 165.26,551.98 166.5,539.57 167.74,544.53 168.99,520.94 170.23,559.43 171.47,544.53 172.71,551.98 173.95,544.53 175.19,558.19 176.43,538.32 177.67,548.26 178.91,544.53 180.15,542.05 181.39,542.05 182.64,543.29 183.88,543.29 185.12,522.18 186.36,517.22 187.6,556.95 188.84,555.71 190.08,549.5 191.32,533.36 192.56,542.05 193.8,527.15 195.04,551.98 196.28,551.98 197.53,539.57 199.39,532.12 200.63,543.29 201.87,551.98 203.11,561.92 204.35,556.95 205.59,561.92" fill="none" stroke="#161616" stroke-width="2.8" stroke-linejoin="round" stroke-linecap="round" opacity="1"/>
<circle cx="156.58" cy="528.39" r="1.7" fill="#161616" stroke="none" stroke-width="0"/>
<circle cx="157.82" cy="529.63" r="1.7" fill="#161616" stroke="none" stroke-width="0"/>
<circle cx="159.06" cy="534.6" r="1.7" fill="#161616" stroke="none" stroke-width="0"/>
<circle cx="160.3" cy="554.47" r="1.7" fill="#161616" stroke="none" stroke-width="0"/>
<circle cx="161.54" cy="542.05" r="1.7" fill="#161616" stroke="none" stroke-width="0"/>
<circle cx="162.78" cy="544.53" r="1.7" fill="#161616" stroke="none" stroke-width="0"/>
<circle cx="164.02" cy="549.5" r="1.7" fill="#161616" stroke="none" stroke-width="0"/>
<circle cx="165.26" cy="551.98" r="1.7" fill="#161616" stroke="none" stroke-width="0"/>
<circle cx="166.5" cy="539.57" r="1.7" fill="#161616" stroke="none" stroke-width="0"/>
<circle cx="167.74" cy="544.53" r="1.7" fill="#161616" stroke="none" stroke-width="0"/>
<circle cx="168.99" cy="520.94" r="1.7" fill="#161616" stroke="none" stroke-width="0"/>
<circle cx="170.23" cy="559.43" r="1.7" fill="#161616" stroke="none" stroke-width="0"/>
<circle cx="171.47" cy="544.53" r="1.7" fill="#161616" stroke="none" stroke-width="0"/>
<circle cx="172.71" cy="551.98" r="1.7" fill="#161616" stroke="none" stroke-width="0"/>
<circle cx="173.95" cy="544.53" r="1.7" fill="#161616" stroke="none" stroke-width="0"/>
<circle cx="175.19" cy="558.19" r="1.7" fill="#161616" stroke="none" stroke-width="0"/>
<circle cx="176.43" cy="538.32" r="1.7" fill="#161616" stroke="none" stroke-width="0"/>
<circle cx="177.67" cy="548.26" r="1.7" fill="#161616" stroke="none" stroke-width="0"/>
<circle cx="178.91" cy="544.53" r="1.7" fill="#161616" stroke="none" stroke-width="0"/>
<circle cx="180.15" cy="542.05" r="1.7" fill="#161616" stroke="none" stroke-width="0"/>
<circle cx="181.39" cy="542.05" r="1.7" fill="#161616" stroke="none" stroke-width="0"/>
<circle cx="182.64" cy="543.29" r="1.7" fill="#161616" stroke="none" stroke-width="0"/>
<circle cx="183.88" cy="543.29" r="1.7" fill="#161616" stroke="none" stroke-width="0"/>
<circle cx="185.12" cy="522.18" r="1.7" fill="#161616" stroke="none" stroke-width="0"/>
<circle cx="186.36" cy="517.22" r="1.7" fill="#161616" stroke="none" stroke-width="0"/>
<circle cx="187.6" cy="556.95" r="1.7" fill="#161616" stroke="none" stroke-width="0"/>
<circle cx="188.84" cy="555.71" r="1.7" fill="#161616" stroke="none" stroke-width="0"/>
<circle cx="190.08" cy="549.5" r="1.7" fill="#161616" stroke="none" stroke-width="0"/>
<circle cx="191.32" cy="533.36" r="1.7" fill="#161616" stroke="none" stroke-width="0"/>
<circle cx="192.56" cy="542.05" r="1.7" fill="#161616" stroke="none" stroke-width="0"/>
<circle cx="193.8" cy="527.15" r="1.7" fill="#161616" stroke="none" stroke-width="0"/>
<circle cx="195.04" cy="551.98" r="1.7" fill="#161616" stroke="none" stroke-width="0"/>
<circle cx="196.28" cy="551.98" r="1.7" fill="#161616" stroke="none" stroke-width="0"/>
<circle cx="197.53" cy="539.57" r="1.7" fill="#161616" stroke="none" stroke-width="0"/>
<circle cx="199.39" cy="532.12" r="1.7" fill="#161616" stroke="none" stroke-width="0"/>
<circle cx="200.63" cy="543.29" r="1.7" fill="#161616" stroke="none" stroke-width="0"/>
<circle cx="201.87" cy="551.98" r="1.7" fill="#161616" stroke="none" stroke-width="0"/>
<circle cx="203.11" cy="561.92" r="1.7" fill="#161616" stroke="none" stroke-width="0"/>
<circle cx="204.35" cy="556.95" r="1.7" fill="#161616" stroke="none" stroke-width="0"/>
<circle cx="205.59" cy="561.92" r="1.7" fill="#161616" stroke="none" stroke-width="0"/>
<circle cx="208.45" cy="518.71" r="1.7" fill="#161616" stroke="none" stroke-width="0"/>
</g>
<line x1="216.5" x2="216.5" y1="477" y2="565.5" stroke="#6e6e6e" stroke-width="0.9"/>
<line x1="50.5" x2="216.5" y1="565.5" y2="565.5" stroke="#6e6e6e" stroke-width="0.9"/>
<line x1="50.5" x2="50.5" y1="477" y2="565.5" stroke="#8f8f8f" stroke-width="1.5"/>
<line x1="49.8" x2="217" y1="476.9" y2="476.9" stroke="#a9a9a9" stroke-width="2.2"/>
<line x1="47.3" x2="50.5" y1="566.1" y2="566.1" stroke="#5e5e5e" stroke-width="1.1"/>
<text x="44.6" y="571" text-anchor="end" class="tk">0.5</text>
<line x1="47.3" x2="50.5" y1="548.26" y2="548.26" stroke="#5e5e5e" stroke-width="1.1"/>
<text x="44.6" y="553.16" text-anchor="end" class="tk">0.6</text>
<line x1="47.3" x2="50.5" y1="530.42" y2="530.42" stroke="#5e5e5e" stroke-width="1.1"/>
<text x="44.6" y="535.32" text-anchor="end" class="tk">0.7</text>
<line x1="47.3" x2="50.5" y1="512.58" y2="512.58" stroke="#5e5e5e" stroke-width="1.1"/>
<text x="44.6" y="517.48" text-anchor="end" class="tk">0.8</text>
<line x1="47.3" x2="50.5" y1="494.74" y2="494.74" stroke="#5e5e5e" stroke-width="1.1"/>
<text x="44.6" y="499.64" text-anchor="end" class="tk">0.9</text>
<line x1="47.3" x2="50.5" y1="476.9" y2="476.9" stroke="#5e5e5e" stroke-width="1.1"/>
<text x="44.6" y="481.8" text-anchor="end" class="tk">1.0</text>
<line y1="565.5" y2="568.5" x1="55.5" x2="55.5" stroke="#5e5e5e" stroke-width="1.1"/>
<text x="55.5" y="580.1" text-anchor="middle" class="tkx">0</text>
<line y1="565.5" y2="568.5" x1="100.45" x2="100.45" stroke="#5e5e5e" stroke-width="1.1"/>
<text x="100.45" y="580.1" text-anchor="middle" class="tkx">50</text>
<line y1="565.5" y2="568.5" x1="145.4" x2="145.4" stroke="#5e5e5e" stroke-width="1.1"/>
<text x="145.4" y="580.1" text-anchor="middle" class="tkx">100</text>
<line y1="565.5" y2="568.5" x1="190.35" x2="190.35" stroke="#5e5e5e" stroke-width="1.1"/>
<text x="190.35" y="580.1" text-anchor="middle" class="tkx">150</text>
<text x="133.5" y="596.6" text-anchor="middle" class="ax">residues</text>
<text transform="translate(12,521.25) rotate(-90)" text-anchor="middle" class="ax">T<tspan font-size="8.8" dy="2.8">1</tspan><tspan dy="-2.8"> (s)</tspan></text>
<line x1="281.5" x2="447.5" y1="554.95" y2="554.95" stroke="#e5e5e5" stroke-width="0.6"/>
<line x1="281.5" x2="447.5" y1="532.65" y2="532.65" stroke="#e5e5e5" stroke-width="0.6"/>
<line x1="281.5" x2="447.5" y1="510.35" y2="510.35" stroke="#e5e5e5" stroke-width="0.6"/>
<line x1="281.5" x2="447.5" y1="488.05" y2="488.05" stroke="#e5e5e5" stroke-width="0.6"/>
<line y1="477" y2="565.5" x1="308.82" x2="308.82" stroke="#e5e5e5" stroke-width="0.6"/>
<line y1="477" y2="565.5" x1="353.67" x2="353.67" stroke="#e5e5e5" stroke-width="0.6"/>
<line y1="477" y2="565.5" x1="398.52" x2="398.52" stroke="#e5e5e5" stroke-width="0.6"/>
<line y1="477" y2="565.5" x1="443.38" x2="443.38" stroke="#e5e5e5" stroke-width="0.6"/>
<line x1="281.5" x2="447.5" y1="543.8" y2="543.8" stroke="#cbcbcb" stroke-width="0.9"/>
<line x1="281.5" x2="447.5" y1="521.5" y2="521.5" stroke="#cbcbcb" stroke-width="0.9"/>
<line x1="281.5" x2="447.5" y1="499.2" y2="499.2" stroke="#cbcbcb" stroke-width="0.9"/>
<line y1="477" y2="565.5" x1="286.4" x2="286.4" stroke="#c4c4c4" stroke-width="0.9"/>
<line y1="477" y2="565.5" x1="331.25" x2="331.25" stroke="#c4c4c4" stroke-width="0.9"/>
<line y1="477" y2="565.5" x1="376.1" x2="376.1" stroke="#c4c4c4" stroke-width="0.9"/>
<line y1="477" y2="565.5" x1="420.95" x2="420.95" stroke="#c4c4c4" stroke-width="0.9"/>
<g clip-path="url(#c31)">
<polyline points="291.55,538.32 292.17,512.25 292.79,499.83 293.41,497.35 294.03,529.63 294.65,484.93 295.27,484.93 295.89,512.25 296.51,499.83 297.13,518.46 297.75,509.77 298.37,506.04 299.61,512.25 300.85,514.73 302.09,518.46 302.72,524.67 303.34,547.02 304.58,549.5 305.82,551.98 307.06,544.53 308.3,537.08 309.54,532.12 310.78,538.32 312.02,544.53 313.26,542.05 314.5,534.6 315.74,537.08 316.99,530.87 318.23,544.53 319.47,534.6 320.71,529.63 321.95,527.15 323.19,522.18 324.43,527.15 325.67,529.63 326.91,533.36 328.15,539.57 329.39,544.53 330.64,542.05 331.88,533.36 333.12,539.57 334.36,545.77 335.6,543.29 336.84,547.02 338.08,549.5 339.32,539.57 340.56,533.36 341.8,544.53 343.04,547.02 344.28,542.05 345.53,544.53 346.77,542.05 348.01,544.53 349.25,547.02 350.49,542.05 351.73,544.53 352.97,539.57 354.21,544.53 355.45,549.5 356.69,549.5 357.93,549.5 359.18,551.98 360.42,550.74 361.66,553.22 362.9,549.5 364.14,553.22 364,549.5 365.24,551.98 366.48,554.47 367.72,544.53 368.96,547.02 370.2,549.5 371.45,542.05 372.69,544.53 373.93,548.26 375.17,547.02 376.41,551.98 377.65,547.02 378.89,547.02 380.13,544.53 381.37,545.77 382.61,537.08 383.23,519.7 383.85,517.22 384.47,527.15 385.09,512.25 385.72,537.08 386.34,507.28 386.96,517.22 387.58,506.04 388.2,534.6 388.82,508.52 389.44,501.07 390.06,507.28 390.68,522.18 391.3,502.32 392.54,512.25 393.78,506.04 395.02,512.25 396.26,509.77 397.5,514.73 398.74,524.67 399.99,537.08 401.23,534.6 402.47,532.12 403.71,533.36 404.95,532.12 406.19,534.6 407.43,533.36 408.67,537.08 409.91,549.5 411.15,522.18 412.39,532.12 413.64,542.05 414.88,515.97 416.12,527.15 417.36,527.15 418.6,529.63 419.84,530.87 421.08,529.63 422.32,532.12 423.56,532.12 424.8,530.87 426.04,528.39 427.28,529.63 428.53,529.63 429.77,522.18 431.01,518.46 432.25,512.25 433.49,491.14 434.11,477.48 434.73,479.97 435.35,487.42 435.97,512.25" fill="none" stroke="#abe0dc" stroke-width="1.8" stroke-linejoin="round" stroke-linecap="round" opacity="1"/>
<polyline points="292.79,532.12 293.41,499.83 294.4,497.35 295.89,499.83 297.13,507.28 298.37,509.77 299.61,514.73 300.85,515.97 302.09,515.97 303.34,518.46 304.58,544.53 305.82,549.5 308.3,549.5 310.78,544.53 313.26,544.53 315.74,545.77 318.23,548.26 320.71,544.53 323.19,524.67 325.67,532.12 328.15,544.53 330.64,544.53 333.12,539.57 335.6,547.02 338.08,544.53 340.56,549.5 343.04,549.5 345.53,549.5 348.01,549.5 350.49,551.98 352.97,549.5 355.45,551.98 357.93,551.98 360.42,551.98 362.9,553.22 364,550.74 367.72,551.98 371.45,549.5 375.17,549.5 378.89,549.5 381.37,549.5 383.85,527.15 386.34,514.73 388.82,503.56 391.3,507.28 393.78,508.52 396.26,512.25 398.74,534.6 401.23,537.08 404.95,533.36 408.67,534.6 412.39,533.36 416.12,530.87 419.84,530.87 423.56,532.12 427.28,530.87 429.77,527.15 432.25,518.46 434.11,499.83 435.35,504.8" fill="none" stroke="#abe0dc" stroke-width="1.2" stroke-linejoin="round" stroke-linecap="round" opacity="0.7"/>
<polyline points="298.99,521.56 309.54,549.5 310.78,539.57 312.02,533.36 313.26,544.53 314.5,548.26 315.74,535.84 316.99,544.53 318.23,543.29 319.47,542.05 320.71,538.32 321.95,535.84 323.19,542.05 324.43,549.5 325.67,544.53 326.91,543.29 328.15,542.05 329.39,539.57 330.64,537.08 331.88,535.84 333.12,544.53 334.36,547.02 335.6,542.05 336.84,537.08 338.08,542.05 339.32,544.53 340.56,540.81 341.8,543.29 343.04,539.57 344.28,539.57 345.53,540.81 346.77,549.5 348.01,535.84 349.25,534.6 350.49,533.36 351.73,532.12 352.97,529.63 354.21,532.12 355.45,537.08 356.69,538.32 357.93,540.81 359.18,544.53 360.42,539.57 361.66,539.57 362.9,540.81 364.14,539.57 364,539.57 365.24,540.81 366.48,542.05 367.72,540.81 368.96,542.05 370.2,551.98 371.45,547.02 372.69,542.05 373.93,548.26 375.17,544.53 376.41,543.29 377.65,542.05 378.89,542.05 380.13,544.53 381.37,547.02 382.61,544.53 383.85,543.29 385.09,542.05 386.34,540.81 387.58,533.36 388.82,523.42 390.06,524.67 391.3,533.36 392.54,538.32 393.78,529.63 395.02,528.39 396.26,530.87 397.5,529.63 398.74,532.12 399.99,535.84 401.23,529.63 402.47,530.87 403.71,532.12 404.95,533.36 406.19,534.6 407.43,533.36 408.67,528.39 409.91,524.67 411.15,530.87 412.39,532.12 413.64,535.84 414.88,529.63 416.12,519.7 417.36,533.36 418.6,532.12 419.84,529.63 421.08,535.84 422.32,529.63 423.56,530.87 424.8,529.63 426.04,532.12 427.28,532.12 428.53,530.87 429.77,533.36 431.01,533.36 432.25,522.18 433.49,509.77 434.73,499.83 435.97,499.83 437.21,503.56" fill="none" stroke="#161616" stroke-width="2.8" stroke-linejoin="round" stroke-linecap="round" opacity="1"/>
<circle cx="298.99" cy="521.56" r="1.7" fill="#161616" stroke="none" stroke-width="0"/>
<circle cx="309.54" cy="549.5" r="1.7" fill="#161616" stroke="none" stroke-width="0"/>
<circle cx="310.78" cy="539.57" r="1.7" fill="#161616" stroke="none" stroke-width="0"/>
<circle cx="312.02" cy="533.36" r="1.7" fill="#161616" stroke="none" stroke-width="0"/>
<circle cx="313.26" cy="544.53" r="1.7" fill="#161616" stroke="none" stroke-width="0"/>
<circle cx="314.5" cy="548.26" r="1.7" fill="#161616" stroke="none" stroke-width="0"/>
<circle cx="315.74" cy="535.84" r="1.7" fill="#161616" stroke="none" stroke-width="0"/>
<circle cx="316.99" cy="544.53" r="1.7" fill="#161616" stroke="none" stroke-width="0"/>
<circle cx="318.23" cy="543.29" r="1.7" fill="#161616" stroke="none" stroke-width="0"/>
<circle cx="319.47" cy="542.05" r="1.7" fill="#161616" stroke="none" stroke-width="0"/>
<circle cx="320.71" cy="538.32" r="1.7" fill="#161616" stroke="none" stroke-width="0"/>
<circle cx="321.95" cy="535.84" r="1.7" fill="#161616" stroke="none" stroke-width="0"/>
<circle cx="323.19" cy="542.05" r="1.7" fill="#161616" stroke="none" stroke-width="0"/>
<circle cx="324.43" cy="549.5" r="1.7" fill="#161616" stroke="none" stroke-width="0"/>
<circle cx="325.67" cy="544.53" r="1.7" fill="#161616" stroke="none" stroke-width="0"/>
<circle cx="326.91" cy="543.29" r="1.7" fill="#161616" stroke="none" stroke-width="0"/>
<circle cx="328.15" cy="542.05" r="1.7" fill="#161616" stroke="none" stroke-width="0"/>
<circle cx="329.39" cy="539.57" r="1.7" fill="#161616" stroke="none" stroke-width="0"/>
<circle cx="330.64" cy="537.08" r="1.7" fill="#161616" stroke="none" stroke-width="0"/>
<circle cx="331.88" cy="535.84" r="1.7" fill="#161616" stroke="none" stroke-width="0"/>
<circle cx="333.12" cy="544.53" r="1.7" fill="#161616" stroke="none" stroke-width="0"/>
<circle cx="334.36" cy="547.02" r="1.7" fill="#161616" stroke="none" stroke-width="0"/>
<circle cx="335.6" cy="542.05" r="1.7" fill="#161616" stroke="none" stroke-width="0"/>
<circle cx="336.84" cy="537.08" r="1.7" fill="#161616" stroke="none" stroke-width="0"/>
<circle cx="338.08" cy="542.05" r="1.7" fill="#161616" stroke="none" stroke-width="0"/>
<circle cx="339.32" cy="544.53" r="1.7" fill="#161616" stroke="none" stroke-width="0"/>
<circle cx="340.56" cy="540.81" r="1.7" fill="#161616" stroke="none" stroke-width="0"/>
<circle cx="341.8" cy="543.29" r="1.7" fill="#161616" stroke="none" stroke-width="0"/>
<circle cx="343.04" cy="539.57" r="1.7" fill="#161616" stroke="none" stroke-width="0"/>
<circle cx="344.28" cy="539.57" r="1.7" fill="#161616" stroke="none" stroke-width="0"/>
<circle cx="345.53" cy="540.81" r="1.7" fill="#161616" stroke="none" stroke-width="0"/>
<circle cx="346.77" cy="549.5" r="1.7" fill="#161616" stroke="none" stroke-width="0"/>
<circle cx="348.01" cy="535.84" r="1.7" fill="#161616" stroke="none" stroke-width="0"/>
<circle cx="349.25" cy="534.6" r="1.7" fill="#161616" stroke="none" stroke-width="0"/>
<circle cx="350.49" cy="533.36" r="1.7" fill="#161616" stroke="none" stroke-width="0"/>
<circle cx="351.73" cy="532.12" r="1.7" fill="#161616" stroke="none" stroke-width="0"/>
<circle cx="352.97" cy="529.63" r="1.7" fill="#161616" stroke="none" stroke-width="0"/>
<circle cx="354.21" cy="532.12" r="1.7" fill="#161616" stroke="none" stroke-width="0"/>
<circle cx="355.45" cy="537.08" r="1.7" fill="#161616" stroke="none" stroke-width="0"/>
<circle cx="356.69" cy="538.32" r="1.7" fill="#161616" stroke="none" stroke-width="0"/>
<circle cx="357.93" cy="540.81" r="1.7" fill="#161616" stroke="none" stroke-width="0"/>
<circle cx="359.18" cy="544.53" r="1.7" fill="#161616" stroke="none" stroke-width="0"/>
<circle cx="360.42" cy="539.57" r="1.7" fill="#161616" stroke="none" stroke-width="0"/>
<circle cx="361.66" cy="539.57" r="1.7" fill="#161616" stroke="none" stroke-width="0"/>
<circle cx="362.9" cy="540.81" r="1.7" fill="#161616" stroke="none" stroke-width="0"/>
<circle cx="364.14" cy="539.57" r="1.7" fill="#161616" stroke="none" stroke-width="0"/>
<circle cx="364" cy="539.57" r="1.7" fill="#161616" stroke="none" stroke-width="0"/>
<circle cx="365.24" cy="540.81" r="1.7" fill="#161616" stroke="none" stroke-width="0"/>
<circle cx="366.48" cy="542.05" r="1.7" fill="#161616" stroke="none" stroke-width="0"/>
<circle cx="367.72" cy="540.81" r="1.7" fill="#161616" stroke="none" stroke-width="0"/>
<circle cx="368.96" cy="542.05" r="1.7" fill="#161616" stroke="none" stroke-width="0"/>
<circle cx="370.2" cy="551.98" r="1.7" fill="#161616" stroke="none" stroke-width="0"/>
<circle cx="371.45" cy="547.02" r="1.7" fill="#161616" stroke="none" stroke-width="0"/>
<circle cx="372.69" cy="542.05" r="1.7" fill="#161616" stroke="none" stroke-width="0"/>
<circle cx="373.93" cy="548.26" r="1.7" fill="#161616" stroke="none" stroke-width="0"/>
<circle cx="375.17" cy="544.53" r="1.7" fill="#161616" stroke="none" stroke-width="0"/>
<circle cx="376.41" cy="543.29" r="1.7" fill="#161616" stroke="none" stroke-width="0"/>
<circle cx="377.65" cy="542.05" r="1.7" fill="#161616" stroke="none" stroke-width="0"/>
<circle cx="378.89" cy="542.05" r="1.7" fill="#161616" stroke="none" stroke-width="0"/>
<circle cx="380.13" cy="544.53" r="1.7" fill="#161616" stroke="none" stroke-width="0"/>
<circle cx="381.37" cy="547.02" r="1.7" fill="#161616" stroke="none" stroke-width="0"/>
<circle cx="382.61" cy="544.53" r="1.7" fill="#161616" stroke="none" stroke-width="0"/>
<circle cx="383.85" cy="543.29" r="1.7" fill="#161616" stroke="none" stroke-width="0"/>
<circle cx="385.09" cy="542.05" r="1.7" fill="#161616" stroke="none" stroke-width="0"/>
<circle cx="386.34" cy="540.81" r="1.7" fill="#161616" stroke="none" stroke-width="0"/>
<circle cx="387.58" cy="533.36" r="1.7" fill="#161616" stroke="none" stroke-width="0"/>
<circle cx="388.82" cy="523.42" r="1.7" fill="#161616" stroke="none" stroke-width="0"/>
<circle cx="390.06" cy="524.67" r="1.7" fill="#161616" stroke="none" stroke-width="0"/>
<circle cx="391.3" cy="533.36" r="1.7" fill="#161616" stroke="none" stroke-width="0"/>
<circle cx="392.54" cy="538.32" r="1.7" fill="#161616" stroke="none" stroke-width="0"/>
<circle cx="393.78" cy="529.63" r="1.7" fill="#161616" stroke="none" stroke-width="0"/>
<circle cx="395.02" cy="528.39" r="1.7" fill="#161616" stroke="none" stroke-width="0"/>
<circle cx="396.26" cy="530.87" r="1.7" fill="#161616" stroke="none" stroke-width="0"/>
<circle cx="397.5" cy="529.63" r="1.7" fill="#161616" stroke="none" stroke-width="0"/>
<circle cx="398.74" cy="532.12" r="1.7" fill="#161616" stroke="none" stroke-width="0"/>
<circle cx="399.99" cy="535.84" r="1.7" fill="#161616" stroke="none" stroke-width="0"/>
<circle cx="401.23" cy="529.63" r="1.7" fill="#161616" stroke="none" stroke-width="0"/>
<circle cx="402.47" cy="530.87" r="1.7" fill="#161616" stroke="none" stroke-width="0"/>
<circle cx="403.71" cy="532.12" r="1.7" fill="#161616" stroke="none" stroke-width="0"/>
<circle cx="404.95" cy="533.36" r="1.7" fill="#161616" stroke="none" stroke-width="0"/>
<circle cx="406.19" cy="534.6" r="1.7" fill="#161616" stroke="none" stroke-width="0"/>
<circle cx="407.43" cy="533.36" r="1.7" fill="#161616" stroke="none" stroke-width="0"/>
<circle cx="408.67" cy="528.39" r="1.7" fill="#161616" stroke="none" stroke-width="0"/>
<circle cx="409.91" cy="524.67" r="1.7" fill="#161616" stroke="none" stroke-width="0"/>
<circle cx="411.15" cy="530.87" r="1.7" fill="#161616" stroke="none" stroke-width="0"/>
<circle cx="412.39" cy="532.12" r="1.7" fill="#161616" stroke="none" stroke-width="0"/>
<circle cx="413.64" cy="535.84" r="1.7" fill="#161616" stroke="none" stroke-width="0"/>
<circle cx="414.88" cy="529.63" r="1.7" fill="#161616" stroke="none" stroke-width="0"/>
<circle cx="416.12" cy="519.7" r="1.7" fill="#161616" stroke="none" stroke-width="0"/>
<circle cx="417.36" cy="533.36" r="1.7" fill="#161616" stroke="none" stroke-width="0"/>
<circle cx="418.6" cy="532.12" r="1.7" fill="#161616" stroke="none" stroke-width="0"/>
<circle cx="419.84" cy="529.63" r="1.7" fill="#161616" stroke="none" stroke-width="0"/>
<circle cx="421.08" cy="535.84" r="1.7" fill="#161616" stroke="none" stroke-width="0"/>
<circle cx="422.32" cy="529.63" r="1.7" fill="#161616" stroke="none" stroke-width="0"/>
<circle cx="423.56" cy="530.87" r="1.7" fill="#161616" stroke="none" stroke-width="0"/>
<circle cx="424.8" cy="529.63" r="1.7" fill="#161616" stroke="none" stroke-width="0"/>
<circle cx="426.04" cy="532.12" r="1.7" fill="#161616" stroke="none" stroke-width="0"/>
<circle cx="427.28" cy="532.12" r="1.7" fill="#161616" stroke="none" stroke-width="0"/>
<circle cx="428.53" cy="530.87" r="1.7" fill="#161616" stroke="none" stroke-width="0"/>
<circle cx="429.77" cy="533.36" r="1.7" fill="#161616" stroke="none" stroke-width="0"/>
<circle cx="431.01" cy="533.36" r="1.7" fill="#161616" stroke="none" stroke-width="0"/>
<circle cx="432.25" cy="522.18" r="1.7" fill="#161616" stroke="none" stroke-width="0"/>
<circle cx="433.49" cy="509.77" r="1.7" fill="#161616" stroke="none" stroke-width="0"/>
<circle cx="434.73" cy="499.83" r="1.7" fill="#161616" stroke="none" stroke-width="0"/>
<circle cx="435.97" cy="499.83" r="1.7" fill="#161616" stroke="none" stroke-width="0"/>
<circle cx="437.21" cy="503.56" r="1.7" fill="#161616" stroke="none" stroke-width="0"/>
</g>
<line x1="447.5" x2="447.5" y1="477" y2="565.5" stroke="#6e6e6e" stroke-width="0.9"/>
<line x1="281.5" x2="447.5" y1="565.5" y2="565.5" stroke="#6e6e6e" stroke-width="0.9"/>
<line x1="281.5" x2="281.5" y1="477" y2="565.5" stroke="#8f8f8f" stroke-width="1.5"/>
<line x1="280.8" x2="448" y1="476.9" y2="476.9" stroke="#a9a9a9" stroke-width="2.2"/>
<line x1="278.3" x2="281.5" y1="566.1" y2="566.1" stroke="#5e5e5e" stroke-width="1.1"/>
<text x="276" y="571" text-anchor="end" class="tk">0.00</text>
<line x1="278.3" x2="281.5" y1="543.8" y2="543.8" stroke="#5e5e5e" stroke-width="1.1"/>
<text x="276" y="548.7" text-anchor="end" class="tk">0.05</text>
<line x1="278.3" x2="281.5" y1="521.5" y2="521.5" stroke="#5e5e5e" stroke-width="1.1"/>
<text x="276" y="526.4" text-anchor="end" class="tk">0.10</text>
<line x1="278.3" x2="281.5" y1="499.2" y2="499.2" stroke="#5e5e5e" stroke-width="1.1"/>
<text x="276" y="504.1" text-anchor="end" class="tk">0.15</text>
<line x1="278.3" x2="281.5" y1="476.9" y2="476.9" stroke="#5e5e5e" stroke-width="1.1"/>
<text x="276" y="481.8" text-anchor="end" class="tk">0.20</text>
<line y1="565.5" y2="568.5" x1="286.4" x2="286.4" stroke="#5e5e5e" stroke-width="1.1"/>
<text x="286.4" y="580.1" text-anchor="middle" class="tkx">0</text>
<line y1="565.5" y2="568.5" x1="331.25" x2="331.25" stroke="#5e5e5e" stroke-width="1.1"/>
<text x="331.25" y="580.1" text-anchor="middle" class="tkx">50</text>
<line y1="565.5" y2="568.5" x1="376.1" x2="376.1" stroke="#5e5e5e" stroke-width="1.1"/>
<text x="376.1" y="580.1" text-anchor="middle" class="tkx">100</text>
<line y1="565.5" y2="568.5" x1="420.95" x2="420.95" stroke="#5e5e5e" stroke-width="1.1"/>
<text x="420.95" y="580.1" text-anchor="middle" class="tkx">150</text>
<text x="364.5" y="596.6" text-anchor="middle" class="ax">residues</text>
<text transform="translate(243,521.25) rotate(-90)" text-anchor="middle" class="ax">T<tspan font-size="8.8" dy="2.8">2</tspan><tspan dy="-2.8"> (s)</tspan></text>
<line x1="512.5" x2="678.5" y1="554.95" y2="554.95" stroke="#e5e5e5" stroke-width="0.6"/>
<line x1="512.5" x2="678.5" y1="532.65" y2="532.65" stroke="#e5e5e5" stroke-width="0.6"/>
<line x1="512.5" x2="678.5" y1="510.35" y2="510.35" stroke="#e5e5e5" stroke-width="0.6"/>
<line x1="512.5" x2="678.5" y1="488.05" y2="488.05" stroke="#e5e5e5" stroke-width="0.6"/>
<line y1="477" y2="565.5" x1="539.38" x2="539.38" stroke="#e5e5e5" stroke-width="0.6"/>
<line y1="477" y2="565.5" x1="584.32" x2="584.32" stroke="#e5e5e5" stroke-width="0.6"/>
<line y1="477" y2="565.5" x1="629.27" x2="629.27" stroke="#e5e5e5" stroke-width="0.6"/>
<line y1="477" y2="565.5" x1="674.23" x2="674.23" stroke="#e5e5e5" stroke-width="0.6"/>
<line x1="512.5" x2="678.5" y1="543.8" y2="543.8" stroke="#cbcbcb" stroke-width="0.9"/>
<line x1="512.5" x2="678.5" y1="521.5" y2="521.5" stroke="#cbcbcb" stroke-width="0.9"/>
<line x1="512.5" x2="678.5" y1="499.2" y2="499.2" stroke="#cbcbcb" stroke-width="0.9"/>
<line y1="477" y2="565.5" x1="516.9" x2="516.9" stroke="#c4c4c4" stroke-width="0.9"/>
<line y1="477" y2="565.5" x1="561.85" x2="561.85" stroke="#c4c4c4" stroke-width="0.9"/>
<line y1="477" y2="565.5" x1="606.8" x2="606.8" stroke="#c4c4c4" stroke-width="0.9"/>
<line y1="477" y2="565.5" x1="651.75" x2="651.75" stroke="#c4c4c4" stroke-width="0.9"/>
<g clip-path="url(#c32)">
<polyline points="521.31,558.19 521.93,547.02 523.17,543.29 524.41,542.05 525.65,551.98 526.89,537.08 528.13,539.57 529.37,534.6 530.61,533.36 531.85,532.12 533.09,527.15 534.34,518.46 535.58,508.52 536.82,504.8 538.06,503.56 539.3,506.04 540.54,501.07 541.78,499.83 543.02,501.07 544.26,503.56 545.5,499.83 546.74,502.32 547.99,504.8 549.23,503.56 550.47,508.52 551.09,520.94 551.71,512.25 552.95,511.01 554.19,509.77 555.43,511.01 556.67,507.28 557.91,506.04 559.15,504.8 560.39,499.83 561.64,498.59 562.88,499.83 564.12,501.07 565.36,504.8 566.6,507.28 567.84,503.56 569.08,515.97 570.32,502.32 571.56,501.07 572.8,499.83 574.04,498.59 575.28,497.35 576.53,498.59 577.77,499.83 579.01,504.8 580.25,512.25 581.49,508.52 582.73,506.04 583.97,503.56 585.21,502.32 586.45,499.83 587.69,499.83 588.93,502.32 590.18,504.8 591.42,499.83 592.66,501.07 593.9,503.56 595.14,503.56 595,501.07 596.24,499.83 597.48,501.07 598.72,502.32 599.96,501.07 601.2,502.32 602.45,501.07 603.69,502.32 604.93,504.8 606.17,507.28 607.41,512.25 608.65,511.01 609.89,507.28 611.13,506.04 612.37,504.8 613.61,514.73 614.85,522.18 616.09,533.36 617.34,540.81 618.58,549.5 619.82,547.02 621.06,544.53 622.3,545.77 623.54,542.05 624.78,544.53 626.02,539.57 627.26,543.29 628.5,529.63 629.74,513.49 630.99,506.04 632.23,504.8 633.47,509.77 634.71,507.28 635.95,504.8 637.19,506.04 638.43,504.8 639.67,509.77 640.91,514.73 642.15,522.18 643.39,534.6 644.64,545.77 645.88,518.46 647.12,515.97 648.36,511.01 649.6,507.28 650.84,506.04 652.08,504.8 653.32,507.28 654.56,506.04 655.8,508.52 657.04,511.01 658.28,507.28 659.53,511.01 660.77,515.97 662.01,522.18 663.25,527.15" fill="none" stroke="#abe0dc" stroke-width="1.8" stroke-linejoin="round" stroke-linecap="round" opacity="1"/>
<polyline points="529.37,540.81 530.61,534.6 534.34,517.22 536.82,502.32 538.68,491.14 540.29,484.93 541.16,513.49 542.4,503.56 543.64,499.83 544.88,499.83 546.12,496.11 547.36,489.9 548.61,497.35 549.85,503.56 551.46,507.28 552.95,508.52 554.81,504.8 556.67,501.07 558.53,497.35 560.15,488.66 561.39,499.83 562.88,494.87 564.12,496.11 565.36,499.83 566.35,513.49 567.84,488.66 569.08,501.07 570.32,499.83 571.56,492.38 572.8,492.38 574.04,486.17 575.28,491.14 576.53,493.62 577.77,492.38 579.01,499.83 580.25,513.49 581.49,499.83 582.73,501.07 583.35,534.6 584.59,527.15 585.83,508.52 587.07,496.11 588.31,499.83 589.55,494.87 590.8,482.45 592.04,482.45 593.28,481.83 594.52,504.8 596.24,497.35 597.48,498.59 598.72,499.83 599.96,501.07 601.2,498.59 602.45,496.11 603.69,491.14 604.93,492.38 606.17,506.04 607.41,507.28 608.65,503.56 609.89,499.83 611.13,497.35 612.37,483.69 613.61,488.66 614.85,494.87 616.09,499.83 617.34,504.8 618.58,524.67 619.82,537.08 621.06,519.7 622.3,512.25 623.54,515.97 624.78,512.25 626.02,507.28 627.26,507.28 628.5,506.04 629.74,499.83 630.99,497.35 632.23,492.38 633.47,499.83 634.71,506.04 635.95,501.07 637.19,497.35 638.43,498.59 639.67,499.83 640.91,507.28 642.15,515.97 643.39,507.28 644.64,499.83 645.88,497.35 647.12,507.28 648.36,498.59 649.6,492.38 650.84,492.38 652.08,493.62 653.32,501.07 654.56,506.04 655.8,497.35 657.04,498.59 658.28,503.56 659.53,509.77 660.77,514.73 662.01,514.73 663.25,528.39 664.49,542.05 665.73,549.5 666.97,563.16" fill="none" stroke="#161616" stroke-width="2.8" stroke-linejoin="round" stroke-linecap="round" opacity="1"/>
<circle cx="529.37" cy="540.81" r="1.7" fill="#161616" stroke="none" stroke-width="0"/>
<circle cx="530.61" cy="534.6" r="1.7" fill="#161616" stroke="none" stroke-width="0"/>
<circle cx="534.34" cy="517.22" r="1.7" fill="#161616" stroke="none" stroke-width="0"/>
<circle cx="536.82" cy="502.32" r="1.7" fill="#161616" stroke="none" stroke-width="0"/>
<circle cx="538.68" cy="491.14" r="1.7" fill="#161616" stroke="none" stroke-width="0"/>
<circle cx="540.29" cy="484.93" r="1.7" fill="#161616" stroke="none" stroke-width="0"/>
<circle cx="541.16" cy="513.49" r="1.7" fill="#161616" stroke="none" stroke-width="0"/>
<circle cx="542.4" cy="503.56" r="1.7" fill="#161616" stroke="none" stroke-width="0"/>
<circle cx="543.64" cy="499.83" r="1.7" fill="#161616" stroke="none" stroke-width="0"/>
<circle cx="544.88" cy="499.83" r="1.7" fill="#161616" stroke="none" stroke-width="0"/>
<circle cx="546.12" cy="496.11" r="1.7" fill="#161616" stroke="none" stroke-width="0"/>
<circle cx="547.36" cy="489.9" r="1.7" fill="#161616" stroke="none" stroke-width="0"/>
<circle cx="548.61" cy="497.35" r="1.7" fill="#161616" stroke="none" stroke-width="0"/>
<circle cx="549.85" cy="503.56" r="1.7" fill="#161616" stroke="none" stroke-width="0"/>
<circle cx="551.46" cy="507.28" r="1.7" fill="#161616" stroke="none" stroke-width="0"/>
<circle cx="552.95" cy="508.52" r="1.7" fill="#161616" stroke="none" stroke-width="0"/>
<circle cx="554.81" cy="504.8" r="1.7" fill="#161616" stroke="none" stroke-width="0"/>
<circle cx="556.67" cy="501.07" r="1.7" fill="#161616" stroke="none" stroke-width="0"/>
<circle cx="558.53" cy="497.35" r="1.7" fill="#161616" stroke="none" stroke-width="0"/>
<circle cx="560.15" cy="488.66" r="1.7" fill="#161616" stroke="none" stroke-width="0"/>
<circle cx="561.39" cy="499.83" r="1.7" fill="#161616" stroke="none" stroke-width="0"/>
<circle cx="562.88" cy="494.87" r="1.7" fill="#161616" stroke="none" stroke-width="0"/>
<circle cx="564.12" cy="496.11" r="1.7" fill="#161616" stroke="none" stroke-width="0"/>
<circle cx="565.36" cy="499.83" r="1.7" fill="#161616" stroke="none" stroke-width="0"/>
<circle cx="566.35" cy="513.49" r="1.7" fill="#161616" stroke="none" stroke-width="0"/>
<circle cx="567.84" cy="488.66" r="1.7" fill="#161616" stroke="none" stroke-width="0"/>
<circle cx="569.08" cy="501.07" r="1.7" fill="#161616" stroke="none" stroke-width="0"/>
<circle cx="570.32" cy="499.83" r="1.7" fill="#161616" stroke="none" stroke-width="0"/>
<circle cx="571.56" cy="492.38" r="1.7" fill="#161616" stroke="none" stroke-width="0"/>
<circle cx="572.8" cy="492.38" r="1.7" fill="#161616" stroke="none" stroke-width="0"/>
<circle cx="574.04" cy="486.17" r="1.7" fill="#161616" stroke="none" stroke-width="0"/>
<circle cx="575.28" cy="491.14" r="1.7" fill="#161616" stroke="none" stroke-width="0"/>
<circle cx="576.53" cy="493.62" r="1.7" fill="#161616" stroke="none" stroke-width="0"/>
<circle cx="577.77" cy="492.38" r="1.7" fill="#161616" stroke="none" stroke-width="0"/>
<circle cx="579.01" cy="499.83" r="1.7" fill="#161616" stroke="none" stroke-width="0"/>
<circle cx="580.25" cy="513.49" r="1.7" fill="#161616" stroke="none" stroke-width="0"/>
<circle cx="581.49" cy="499.83" r="1.7" fill="#161616" stroke="none" stroke-width="0"/>
<circle cx="582.73" cy="501.07" r="1.7" fill="#161616" stroke="none" stroke-width="0"/>
<circle cx="583.35" cy="534.6" r="1.7" fill="#161616" stroke="none" stroke-width="0"/>
<circle cx="584.59" cy="527.15" r="1.7" fill="#161616" stroke="none" stroke-width="0"/>
<circle cx="585.83" cy="508.52" r="1.7" fill="#161616" stroke="none" stroke-width="0"/>
<circle cx="587.07" cy="496.11" r="1.7" fill="#161616" stroke="none" stroke-width="0"/>
<circle cx="588.31" cy="499.83" r="1.7" fill="#161616" stroke="none" stroke-width="0"/>
<circle cx="589.55" cy="494.87" r="1.7" fill="#161616" stroke="none" stroke-width="0"/>
<circle cx="590.8" cy="482.45" r="1.7" fill="#161616" stroke="none" stroke-width="0"/>
<circle cx="592.04" cy="482.45" r="1.7" fill="#161616" stroke="none" stroke-width="0"/>
<circle cx="593.28" cy="481.83" r="1.7" fill="#161616" stroke="none" stroke-width="0"/>
<circle cx="594.52" cy="504.8" r="1.7" fill="#161616" stroke="none" stroke-width="0"/>
<circle cx="596.24" cy="497.35" r="1.7" fill="#161616" stroke="none" stroke-width="0"/>
<circle cx="597.48" cy="498.59" r="1.7" fill="#161616" stroke="none" stroke-width="0"/>
<circle cx="598.72" cy="499.83" r="1.7" fill="#161616" stroke="none" stroke-width="0"/>
<circle cx="599.96" cy="501.07" r="1.7" fill="#161616" stroke="none" stroke-width="0"/>
<circle cx="601.2" cy="498.59" r="1.7" fill="#161616" stroke="none" stroke-width="0"/>
<circle cx="602.45" cy="496.11" r="1.7" fill="#161616" stroke="none" stroke-width="0"/>
<circle cx="603.69" cy="491.14" r="1.7" fill="#161616" stroke="none" stroke-width="0"/>
<circle cx="604.93" cy="492.38" r="1.7" fill="#161616" stroke="none" stroke-width="0"/>
<circle cx="606.17" cy="506.04" r="1.7" fill="#161616" stroke="none" stroke-width="0"/>
<circle cx="607.41" cy="507.28" r="1.7" fill="#161616" stroke="none" stroke-width="0"/>
<circle cx="608.65" cy="503.56" r="1.7" fill="#161616" stroke="none" stroke-width="0"/>
<circle cx="609.89" cy="499.83" r="1.7" fill="#161616" stroke="none" stroke-width="0"/>
<circle cx="611.13" cy="497.35" r="1.7" fill="#161616" stroke="none" stroke-width="0"/>
<circle cx="612.37" cy="483.69" r="1.7" fill="#161616" stroke="none" stroke-width="0"/>
<circle cx="613.61" cy="488.66" r="1.7" fill="#161616" stroke="none" stroke-width="0"/>
<circle cx="614.85" cy="494.87" r="1.7" fill="#161616" stroke="none" stroke-width="0"/>
<circle cx="616.09" cy="499.83" r="1.7" fill="#161616" stroke="none" stroke-width="0"/>
<circle cx="617.34" cy="504.8" r="1.7" fill="#161616" stroke="none" stroke-width="0"/>
<circle cx="618.58" cy="524.67" r="1.7" fill="#161616" stroke="none" stroke-width="0"/>
<circle cx="619.82" cy="537.08" r="1.7" fill="#161616" stroke="none" stroke-width="0"/>
<circle cx="621.06" cy="519.7" r="1.7" fill="#161616" stroke="none" stroke-width="0"/>
<circle cx="622.3" cy="512.25" r="1.7" fill="#161616" stroke="none" stroke-width="0"/>
<circle cx="623.54" cy="515.97" r="1.7" fill="#161616" stroke="none" stroke-width="0"/>
<circle cx="624.78" cy="512.25" r="1.7" fill="#161616" stroke="none" stroke-width="0"/>
<circle cx="626.02" cy="507.28" r="1.7" fill="#161616" stroke="none" stroke-width="0"/>
<circle cx="627.26" cy="507.28" r="1.7" fill="#161616" stroke="none" stroke-width="0"/>
<circle cx="628.5" cy="506.04" r="1.7" fill="#161616" stroke="none" stroke-width="0"/>
<circle cx="629.74" cy="499.83" r="1.7" fill="#161616" stroke="none" stroke-width="0"/>
<circle cx="630.99" cy="497.35" r="1.7" fill="#161616" stroke="none" stroke-width="0"/>
<circle cx="632.23" cy="492.38" r="1.7" fill="#161616" stroke="none" stroke-width="0"/>
<circle cx="633.47" cy="499.83" r="1.7" fill="#161616" stroke="none" stroke-width="0"/>
<circle cx="634.71" cy="506.04" r="1.7" fill="#161616" stroke="none" stroke-width="0"/>
<circle cx="635.95" cy="501.07" r="1.7" fill="#161616" stroke="none" stroke-width="0"/>
<circle cx="637.19" cy="497.35" r="1.7" fill="#161616" stroke="none" stroke-width="0"/>
<circle cx="638.43" cy="498.59" r="1.7" fill="#161616" stroke="none" stroke-width="0"/>
<circle cx="639.67" cy="499.83" r="1.7" fill="#161616" stroke="none" stroke-width="0"/>
<circle cx="640.91" cy="507.28" r="1.7" fill="#161616" stroke="none" stroke-width="0"/>
<circle cx="642.15" cy="515.97" r="1.7" fill="#161616" stroke="none" stroke-width="0"/>
<circle cx="643.39" cy="507.28" r="1.7" fill="#161616" stroke="none" stroke-width="0"/>
<circle cx="644.64" cy="499.83" r="1.7" fill="#161616" stroke="none" stroke-width="0"/>
<circle cx="645.88" cy="497.35" r="1.7" fill="#161616" stroke="none" stroke-width="0"/>
<circle cx="647.12" cy="507.28" r="1.7" fill="#161616" stroke="none" stroke-width="0"/>
<circle cx="648.36" cy="498.59" r="1.7" fill="#161616" stroke="none" stroke-width="0"/>
<circle cx="649.6" cy="492.38" r="1.7" fill="#161616" stroke="none" stroke-width="0"/>
<circle cx="650.84" cy="492.38" r="1.7" fill="#161616" stroke="none" stroke-width="0"/>
<circle cx="652.08" cy="493.62" r="1.7" fill="#161616" stroke="none" stroke-width="0"/>
<circle cx="653.32" cy="501.07" r="1.7" fill="#161616" stroke="none" stroke-width="0"/>
<circle cx="654.56" cy="506.04" r="1.7" fill="#161616" stroke="none" stroke-width="0"/>
<circle cx="655.8" cy="497.35" r="1.7" fill="#161616" stroke="none" stroke-width="0"/>
<circle cx="657.04" cy="498.59" r="1.7" fill="#161616" stroke="none" stroke-width="0"/>
<circle cx="658.28" cy="503.56" r="1.7" fill="#161616" stroke="none" stroke-width="0"/>
<circle cx="659.53" cy="509.77" r="1.7" fill="#161616" stroke="none" stroke-width="0"/>
<circle cx="660.77" cy="514.73" r="1.7" fill="#161616" stroke="none" stroke-width="0"/>
<circle cx="662.01" cy="514.73" r="1.7" fill="#161616" stroke="none" stroke-width="0"/>
<circle cx="663.25" cy="528.39" r="1.7" fill="#161616" stroke="none" stroke-width="0"/>
<circle cx="664.49" cy="542.05" r="1.7" fill="#161616" stroke="none" stroke-width="0"/>
<circle cx="665.73" cy="549.5" r="1.7" fill="#161616" stroke="none" stroke-width="0"/>
<circle cx="666.97" cy="563.16" r="1.7" fill="#161616" stroke="none" stroke-width="0"/>
</g>
<line x1="678.5" x2="678.5" y1="477" y2="565.5" stroke="#6e6e6e" stroke-width="0.9"/>
<line x1="512.5" x2="678.5" y1="565.5" y2="565.5" stroke="#6e6e6e" stroke-width="0.9"/>
<line x1="512.5" x2="512.5" y1="477" y2="565.5" stroke="#8f8f8f" stroke-width="1.5"/>
<line x1="511.8" x2="679" y1="476.9" y2="476.9" stroke="#a9a9a9" stroke-width="2.2"/>
<line x1="509.3" x2="512.5" y1="566.1" y2="566.1" stroke="#5e5e5e" stroke-width="1.1"/>
<text x="507.2" y="571" text-anchor="end" class="tk">0.00</text>
<line x1="509.3" x2="512.5" y1="543.8" y2="543.8" stroke="#5e5e5e" stroke-width="1.1"/>
<text x="507.2" y="548.7" text-anchor="end" class="tk">0.25</text>
<line x1="509.3" x2="512.5" y1="521.5" y2="521.5" stroke="#5e5e5e" stroke-width="1.1"/>
<text x="507.2" y="526.4" text-anchor="end" class="tk">0.50</text>
<line x1="509.3" x2="512.5" y1="499.2" y2="499.2" stroke="#5e5e5e" stroke-width="1.1"/>
<text x="507.2" y="504.1" text-anchor="end" class="tk">0.75</text>
<line x1="509.3" x2="512.5" y1="476.9" y2="476.9" stroke="#5e5e5e" stroke-width="1.1"/>
<text x="507.2" y="481.8" text-anchor="end" class="tk">1.00</text>
<line y1="565.5" y2="568.5" x1="516.9" x2="516.9" stroke="#5e5e5e" stroke-width="1.1"/>
<text x="516.9" y="580.1" text-anchor="middle" class="tkx">0</text>
<line y1="565.5" y2="568.5" x1="561.85" x2="561.85" stroke="#5e5e5e" stroke-width="1.1"/>
<text x="561.85" y="580.1" text-anchor="middle" class="tkx">50</text>
<line y1="565.5" y2="568.5" x1="606.8" x2="606.8" stroke="#5e5e5e" stroke-width="1.1"/>
<text x="606.8" y="580.1" text-anchor="middle" class="tkx">100</text>
<line y1="565.5" y2="568.5" x1="651.75" x2="651.75" stroke="#5e5e5e" stroke-width="1.1"/>
<text x="651.75" y="580.1" text-anchor="middle" class="tkx">150</text>
<text x="595.5" y="596.6" text-anchor="middle" class="ax">residues</text>
<text transform="translate(474.6,521.25) rotate(-90)" text-anchor="middle" class="ax">hetNOE</text>
<text x="50.5" y="467.2" class="ti">MANF</text>
<line x1="50.5" x2="217.5" y1="710.01" y2="710.01" stroke="#e5e5e5" stroke-width="0.6"/>
<line x1="50.5" x2="217.5" y1="692.03" y2="692.03" stroke="#e5e5e5" stroke-width="0.6"/>
<line x1="50.5" x2="217.5" y1="674.05" y2="674.05" stroke="#e5e5e5" stroke-width="0.6"/>
<line x1="50.5" x2="217.5" y1="656.07" y2="656.07" stroke="#e5e5e5" stroke-width="0.6"/>
<line x1="50.5" x2="217.5" y1="638.09" y2="638.09" stroke="#e5e5e5" stroke-width="0.6"/>
<line y1="629.2" y2="718.4" x1="84.62" x2="84.62" stroke="#e5e5e5" stroke-width="0.6"/>
<line y1="629.2" y2="718.4" x1="124.46" x2="124.46" stroke="#e5e5e5" stroke-width="0.6"/>
<line y1="629.2" y2="718.4" x1="164.3" x2="164.3" stroke="#e5e5e5" stroke-width="0.6"/>
<line y1="629.2" y2="718.4" x1="204.14" x2="204.14" stroke="#e5e5e5" stroke-width="0.6"/>
<line x1="50.5" x2="217.5" y1="701.02" y2="701.02" stroke="#cbcbcb" stroke-width="0.9"/>
<line x1="50.5" x2="217.5" y1="683.04" y2="683.04" stroke="#cbcbcb" stroke-width="0.9"/>
<line x1="50.5" x2="217.5" y1="665.06" y2="665.06" stroke="#cbcbcb" stroke-width="0.9"/>
<line x1="50.5" x2="217.5" y1="647.08" y2="647.08" stroke="#cbcbcb" stroke-width="0.9"/>
<line y1="629.2" y2="718.4" x1="64.7" x2="64.7" stroke="#c4c4c4" stroke-width="0.9"/>
<line y1="629.2" y2="718.4" x1="104.54" x2="104.54" stroke="#c4c4c4" stroke-width="0.9"/>
<line y1="629.2" y2="718.4" x1="144.38" x2="144.38" stroke="#c4c4c4" stroke-width="0.9"/>
<line y1="629.2" y2="718.4" x1="184.22" x2="184.22" stroke="#c4c4c4" stroke-width="0.9"/>
<g clip-path="url(#c40)">
<polyline points="58.07,656.8 59.31,670.46 60.55,686.6 61.79,687.84 63.03,689.08 64.27,689.08 65.51,685.36 66.75,690.32 67.99,696.53 69.23,695.29 70.47,695.29 71.72,696.53 72.96,697.77 74.2,687.84 75.44,692.81 76.68,695.29 77.92,689.08 79.16,690.32 80.4,687.84 81.64,681.63 82.88,676.67 83.5,675.42 84.74,686.6 85.99,687.84 87.23,687.84 88.47,690.32 89.71,692.81 90.95,696.53 92.19,700.26 93.43,700.26 94.67,699.02 95.91,700.26 97.15,701.5 98.39,702.74 99.64,695.29 100.88,696.53 102.12,697.77 103.36,701.5 104.6,697.77 105.84,694.05 107.08,697.77 108.32,701.5 109.56,689.08 110.8,671.7 112.04,676.67 113.28,684.12 114.53,689.08 115.77,687.84 117.01,684.12 118.25,680.39 119.49,676.67 120.73,671.7 121.97,665.49 123.21,681.63 124.45,679.15 125.69,674.18 126.93,671.7 128.18,667.97 129.42,670.46 130.66,671.7 131.9,672.94 133,672.94 134.24,674.18 135.48,684.12 136.72,685.36 137.96,679.15 139.2,674.18 140.45,667.97 141.69,667.97 142.93,665.49 144.17,664.25 145.41,666.73 146.65,671.7 147.89,666.73 149.13,667.97 150.37,675.42 151.61,669.22 152.85,666.73 154.09,674.18 155.34,675.42 156.58,672.94 157.82,661.77 159.06,658.04 160.3,664.25 161.54,674.18 162.78,679.15 164.02,681.63 165.26,685.36 166.5,676.67 167.74,665.49 168.99,664.25 170.23,669.22 171.47,670.46 172.71,666.73 173.95,664.25 175.19,669.22 176.43,674.18 177.67,669.22 178.91,663.01 180.15,667.97 181.39,670.46 182.64,667.97 183.88,671.7 185.12,669.22 186.36,672.94 187.6,669.22 188.84,672.94 190.08,674.18 191.32,672.94 192.56,674.18 193.8,672.94 195.04,674.18 196.28,671.7 197.53,669.22 198.77,672.94 200.01,679.15 201.25,680.39 202.49,679.15 203.73,679.15 204.97,679.15 206.21,676.67" fill="none" stroke="#2c6a3a" stroke-width="1.9" stroke-linejoin="round" stroke-linecap="round" opacity="1"/>
<polyline points="59.31,632.59 59.93,639.42 60.55,648.11 61.42,651.83 62.41,655.56 63.4,659.28 64.27,664.25 64.89,666.73 66.13,656.8 67.12,675.42 67.99,667.97 69.23,669.22 70.47,674.18 71.72,676.67 72.96,681.63 74.2,676.67 75.44,670.46 76.68,665.49 77.92,666.73 79.16,661.77 80.4,670.46 81.64,672.94 82.88,671.7 84.12,667.97 85.36,669.22 86.61,674.18 87.85,677.91 89.09,682.87 90.33,679.15 91.57,682.87 92.81,686.6 94.05,689.08 95.29,695.29 96.53,691.57 97.77,689.08 99.01,685.36 100.26,692.81 101.5,690.32 102.74,686.6 103.98,687.84 105.22,685.36 106.46,682.87 107.7,674.18 108.94,669.22 110.18,667.97 111.42,666.73 112.66,671.7 113.91,676.67 115.15,680.39 116.39,681.63 117.63,684.12 118.87,682.87 120.11,682.87 121.35,681.63 122.59,680.39 123.83,674.18 125.07,671.7 126.31,677.91 127.55,680.39 128.8,677.91 130.04,676.67 131.28,677.91 132.52,674.18 134.24,681.63 135.48,685.36 136.72,687.84 137.96,684.12 139.2,676.67 140.45,651.83 141.69,676.67 142.93,679.15 144.17,672.94 145.41,671.7 146.65,670.46 147.89,674.18 149.13,674.18 150.37,676.67 151.61,677.91 152.85,676.67 154.09,674.18 155.34,672.94 156.58,675.42 157.82,675.42 159.06,660.52 160.3,669.22 161.54,671.7 162.78,680.39 164.02,675.42 165.26,675.42 166.5,676.67 167.74,679.15 168.99,676.67 170.23,687.84 171.47,684.12 172.71,676.67 173.95,686.6 175.19,686.6 176.43,681.63 177.67,672.94 178.91,676.67 180.15,681.63 181.39,674.18 182.64,671.7 183.88,670.46 185.12,674.18 186.36,682.87 187.6,684.12 188.84,682.87 190.08,681.63 191.32,681.63 192.56,677.91 193.8,685.36 195.04,676.67 196.28,675.42 197.53,684.12 198.77,686.6 200.01,677.91 201.25,686.6 202.49,679.15 203.73,681.63 204.97,686.6 206.21,686.6 207.45,675.42 208.45,647.49" fill="none" stroke="#0e0e0e" stroke-width="2.8" stroke-linejoin="round" stroke-linecap="round" opacity="1"/>
<circle cx="59.31" cy="632.59" r="1.5" fill="#4a4a4a" stroke="#0e0e0e" stroke-width="0.8"/>
<circle cx="59.93" cy="639.42" r="1.5" fill="#4a4a4a" stroke="#0e0e0e" stroke-width="0.8"/>
<circle cx="60.55" cy="648.11" r="1.5" fill="#4a4a4a" stroke="#0e0e0e" stroke-width="0.8"/>
<circle cx="61.42" cy="651.83" r="1.5" fill="#4a4a4a" stroke="#0e0e0e" stroke-width="0.8"/>
<circle cx="62.41" cy="655.56" r="1.5" fill="#4a4a4a" stroke="#0e0e0e" stroke-width="0.8"/>
<circle cx="63.4" cy="659.28" r="1.5" fill="#4a4a4a" stroke="#0e0e0e" stroke-width="0.8"/>
<circle cx="64.27" cy="664.25" r="1.5" fill="#4a4a4a" stroke="#0e0e0e" stroke-width="0.8"/>
<circle cx="64.89" cy="666.73" r="1.5" fill="#4a4a4a" stroke="#0e0e0e" stroke-width="0.8"/>
<circle cx="66.13" cy="656.8" r="1.5" fill="#4a4a4a" stroke="#0e0e0e" stroke-width="0.8"/>
<circle cx="67.12" cy="675.42" r="1.5" fill="#4a4a4a" stroke="#0e0e0e" stroke-width="0.8"/>
<circle cx="67.99" cy="667.97" r="1.5" fill="#4a4a4a" stroke="#0e0e0e" stroke-width="0.8"/>
<circle cx="69.23" cy="669.22" r="1.5" fill="#4a4a4a" stroke="#0e0e0e" stroke-width="0.8"/>
<circle cx="70.47" cy="674.18" r="1.5" fill="#4a4a4a" stroke="#0e0e0e" stroke-width="0.8"/>
<circle cx="71.72" cy="676.67" r="1.5" fill="#4a4a4a" stroke="#0e0e0e" stroke-width="0.8"/>
<circle cx="72.96" cy="681.63" r="1.5" fill="#4a4a4a" stroke="#0e0e0e" stroke-width="0.8"/>
<circle cx="74.2" cy="676.67" r="1.5" fill="#4a4a4a" stroke="#0e0e0e" stroke-width="0.8"/>
<circle cx="75.44" cy="670.46" r="1.5" fill="#4a4a4a" stroke="#0e0e0e" stroke-width="0.8"/>
<circle cx="76.68" cy="665.49" r="1.5" fill="#4a4a4a" stroke="#0e0e0e" stroke-width="0.8"/>
<circle cx="77.92" cy="666.73" r="1.5" fill="#4a4a4a" stroke="#0e0e0e" stroke-width="0.8"/>
<circle cx="79.16" cy="661.77" r="1.5" fill="#4a4a4a" stroke="#0e0e0e" stroke-width="0.8"/>
<circle cx="80.4" cy="670.46" r="1.5" fill="#4a4a4a" stroke="#0e0e0e" stroke-width="0.8"/>
<circle cx="81.64" cy="672.94" r="1.5" fill="#4a4a4a" stroke="#0e0e0e" stroke-width="0.8"/>
<circle cx="82.88" cy="671.7" r="1.5" fill="#4a4a4a" stroke="#0e0e0e" stroke-width="0.8"/>
<circle cx="84.12" cy="667.97" r="1.5" fill="#4a4a4a" stroke="#0e0e0e" stroke-width="0.8"/>
<circle cx="85.36" cy="669.22" r="1.5" fill="#4a4a4a" stroke="#0e0e0e" stroke-width="0.8"/>
<circle cx="86.61" cy="674.18" r="1.5" fill="#4a4a4a" stroke="#0e0e0e" stroke-width="0.8"/>
<circle cx="87.85" cy="677.91" r="1.5" fill="#4a4a4a" stroke="#0e0e0e" stroke-width="0.8"/>
<circle cx="89.09" cy="682.87" r="1.5" fill="#4a4a4a" stroke="#0e0e0e" stroke-width="0.8"/>
<circle cx="90.33" cy="679.15" r="1.5" fill="#4a4a4a" stroke="#0e0e0e" stroke-width="0.8"/>
<circle cx="91.57" cy="682.87" r="1.5" fill="#4a4a4a" stroke="#0e0e0e" stroke-width="0.8"/>
<circle cx="92.81" cy="686.6" r="1.5" fill="#4a4a4a" stroke="#0e0e0e" stroke-width="0.8"/>
<circle cx="94.05" cy="689.08" r="1.5" fill="#4a4a4a" stroke="#0e0e0e" stroke-width="0.8"/>
<circle cx="95.29" cy="695.29" r="1.5" fill="#4a4a4a" stroke="#0e0e0e" stroke-width="0.8"/>
<circle cx="96.53" cy="691.57" r="1.5" fill="#4a4a4a" stroke="#0e0e0e" stroke-width="0.8"/>
<circle cx="97.77" cy="689.08" r="1.5" fill="#4a4a4a" stroke="#0e0e0e" stroke-width="0.8"/>
<circle cx="99.01" cy="685.36" r="1.5" fill="#4a4a4a" stroke="#0e0e0e" stroke-width="0.8"/>
<circle cx="100.26" cy="692.81" r="1.5" fill="#4a4a4a" stroke="#0e0e0e" stroke-width="0.8"/>
<circle cx="101.5" cy="690.32" r="1.5" fill="#4a4a4a" stroke="#0e0e0e" stroke-width="0.8"/>
<circle cx="102.74" cy="686.6" r="1.5" fill="#4a4a4a" stroke="#0e0e0e" stroke-width="0.8"/>
<circle cx="103.98" cy="687.84" r="1.5" fill="#4a4a4a" stroke="#0e0e0e" stroke-width="0.8"/>
<circle cx="105.22" cy="685.36" r="1.5" fill="#4a4a4a" stroke="#0e0e0e" stroke-width="0.8"/>
<circle cx="106.46" cy="682.87" r="1.5" fill="#4a4a4a" stroke="#0e0e0e" stroke-width="0.8"/>
<circle cx="107.7" cy="674.18" r="1.5" fill="#4a4a4a" stroke="#0e0e0e" stroke-width="0.8"/>
<circle cx="108.94" cy="669.22" r="1.5" fill="#4a4a4a" stroke="#0e0e0e" stroke-width="0.8"/>
<circle cx="110.18" cy="667.97" r="1.5" fill="#4a4a4a" stroke="#0e0e0e" stroke-width="0.8"/>
<circle cx="111.42" cy="666.73" r="1.5" fill="#4a4a4a" stroke="#0e0e0e" stroke-width="0.8"/>
<circle cx="112.66" cy="671.7" r="1.5" fill="#4a4a4a" stroke="#0e0e0e" stroke-width="0.8"/>
<circle cx="113.91" cy="676.67" r="1.5" fill="#4a4a4a" stroke="#0e0e0e" stroke-width="0.8"/>
<circle cx="115.15" cy="680.39" r="1.5" fill="#4a4a4a" stroke="#0e0e0e" stroke-width="0.8"/>
<circle cx="116.39" cy="681.63" r="1.5" fill="#4a4a4a" stroke="#0e0e0e" stroke-width="0.8"/>
<circle cx="117.63" cy="684.12" r="1.5" fill="#4a4a4a" stroke="#0e0e0e" stroke-width="0.8"/>
<circle cx="118.87" cy="682.87" r="1.5" fill="#4a4a4a" stroke="#0e0e0e" stroke-width="0.8"/>
<circle cx="120.11" cy="682.87" r="1.5" fill="#4a4a4a" stroke="#0e0e0e" stroke-width="0.8"/>
<circle cx="121.35" cy="681.63" r="1.5" fill="#4a4a4a" stroke="#0e0e0e" stroke-width="0.8"/>
<circle cx="122.59" cy="680.39" r="1.5" fill="#4a4a4a" stroke="#0e0e0e" stroke-width="0.8"/>
<circle cx="123.83" cy="674.18" r="1.5" fill="#4a4a4a" stroke="#0e0e0e" stroke-width="0.8"/>
<circle cx="125.07" cy="671.7" r="1.5" fill="#4a4a4a" stroke="#0e0e0e" stroke-width="0.8"/>
<circle cx="126.31" cy="677.91" r="1.5" fill="#4a4a4a" stroke="#0e0e0e" stroke-width="0.8"/>
<circle cx="127.55" cy="680.39" r="1.5" fill="#4a4a4a" stroke="#0e0e0e" stroke-width="0.8"/>
<circle cx="128.8" cy="677.91" r="1.5" fill="#4a4a4a" stroke="#0e0e0e" stroke-width="0.8"/>
<circle cx="130.04" cy="676.67" r="1.5" fill="#4a4a4a" stroke="#0e0e0e" stroke-width="0.8"/>
<circle cx="131.28" cy="677.91" r="1.5" fill="#4a4a4a" stroke="#0e0e0e" stroke-width="0.8"/>
<circle cx="132.52" cy="674.18" r="1.5" fill="#4a4a4a" stroke="#0e0e0e" stroke-width="0.8"/>
<circle cx="134.24" cy="681.63" r="1.5" fill="#4a4a4a" stroke="#0e0e0e" stroke-width="0.8"/>
<circle cx="135.48" cy="685.36" r="1.5" fill="#4a4a4a" stroke="#0e0e0e" stroke-width="0.8"/>
<circle cx="136.72" cy="687.84" r="1.5" fill="#4a4a4a" stroke="#0e0e0e" stroke-width="0.8"/>
<circle cx="137.96" cy="684.12" r="1.5" fill="#4a4a4a" stroke="#0e0e0e" stroke-width="0.8"/>
<circle cx="139.2" cy="676.67" r="1.5" fill="#4a4a4a" stroke="#0e0e0e" stroke-width="0.8"/>
<circle cx="140.45" cy="651.83" r="1.5" fill="#4a4a4a" stroke="#0e0e0e" stroke-width="0.8"/>
<circle cx="141.69" cy="676.67" r="1.5" fill="#4a4a4a" stroke="#0e0e0e" stroke-width="0.8"/>
<circle cx="142.93" cy="679.15" r="1.5" fill="#4a4a4a" stroke="#0e0e0e" stroke-width="0.8"/>
<circle cx="144.17" cy="672.94" r="1.5" fill="#4a4a4a" stroke="#0e0e0e" stroke-width="0.8"/>
<circle cx="145.41" cy="671.7" r="1.5" fill="#4a4a4a" stroke="#0e0e0e" stroke-width="0.8"/>
<circle cx="146.65" cy="670.46" r="1.5" fill="#4a4a4a" stroke="#0e0e0e" stroke-width="0.8"/>
<circle cx="147.89" cy="674.18" r="1.5" fill="#4a4a4a" stroke="#0e0e0e" stroke-width="0.8"/>
<circle cx="149.13" cy="674.18" r="1.5" fill="#4a4a4a" stroke="#0e0e0e" stroke-width="0.8"/>
<circle cx="150.37" cy="676.67" r="1.5" fill="#4a4a4a" stroke="#0e0e0e" stroke-width="0.8"/>
<circle cx="151.61" cy="677.91" r="1.5" fill="#4a4a4a" stroke="#0e0e0e" stroke-width="0.8"/>
<circle cx="152.85" cy="676.67" r="1.5" fill="#4a4a4a" stroke="#0e0e0e" stroke-width="0.8"/>
<circle cx="154.09" cy="674.18" r="1.5" fill="#4a4a4a" stroke="#0e0e0e" stroke-width="0.8"/>
<circle cx="155.34" cy="672.94" r="1.5" fill="#4a4a4a" stroke="#0e0e0e" stroke-width="0.8"/>
<circle cx="156.58" cy="675.42" r="1.5" fill="#4a4a4a" stroke="#0e0e0e" stroke-width="0.8"/>
<circle cx="157.82" cy="675.42" r="1.5" fill="#4a4a4a" stroke="#0e0e0e" stroke-width="0.8"/>
<circle cx="159.06" cy="660.52" r="1.5" fill="#4a4a4a" stroke="#0e0e0e" stroke-width="0.8"/>
<circle cx="160.3" cy="669.22" r="1.5" fill="#4a4a4a" stroke="#0e0e0e" stroke-width="0.8"/>
<circle cx="161.54" cy="671.7" r="1.5" fill="#4a4a4a" stroke="#0e0e0e" stroke-width="0.8"/>
<circle cx="162.78" cy="680.39" r="1.5" fill="#4a4a4a" stroke="#0e0e0e" stroke-width="0.8"/>
<circle cx="164.02" cy="675.42" r="1.5" fill="#4a4a4a" stroke="#0e0e0e" stroke-width="0.8"/>
<circle cx="165.26" cy="675.42" r="1.5" fill="#4a4a4a" stroke="#0e0e0e" stroke-width="0.8"/>
<circle cx="166.5" cy="676.67" r="1.5" fill="#4a4a4a" stroke="#0e0e0e" stroke-width="0.8"/>
<circle cx="167.74" cy="679.15" r="1.5" fill="#4a4a4a" stroke="#0e0e0e" stroke-width="0.8"/>
<circle cx="168.99" cy="676.67" r="1.5" fill="#4a4a4a" stroke="#0e0e0e" stroke-width="0.8"/>
<circle cx="170.23" cy="687.84" r="1.5" fill="#4a4a4a" stroke="#0e0e0e" stroke-width="0.8"/>
<circle cx="171.47" cy="684.12" r="1.5" fill="#4a4a4a" stroke="#0e0e0e" stroke-width="0.8"/>
<circle cx="172.71" cy="676.67" r="1.5" fill="#4a4a4a" stroke="#0e0e0e" stroke-width="0.8"/>
<circle cx="173.95" cy="686.6" r="1.5" fill="#4a4a4a" stroke="#0e0e0e" stroke-width="0.8"/>
<circle cx="175.19" cy="686.6" r="1.5" fill="#4a4a4a" stroke="#0e0e0e" stroke-width="0.8"/>
<circle cx="176.43" cy="681.63" r="1.5" fill="#4a4a4a" stroke="#0e0e0e" stroke-width="0.8"/>
<circle cx="177.67" cy="672.94" r="1.5" fill="#4a4a4a" stroke="#0e0e0e" stroke-width="0.8"/>
<circle cx="178.91" cy="676.67" r="1.5" fill="#4a4a4a" stroke="#0e0e0e" stroke-width="0.8"/>
<circle cx="180.15" cy="681.63" r="1.5" fill="#4a4a4a" stroke="#0e0e0e" stroke-width="0.8"/>
<circle cx="181.39" cy="674.18" r="1.5" fill="#4a4a4a" stroke="#0e0e0e" stroke-width="0.8"/>
<circle cx="182.64" cy="671.7" r="1.5" fill="#4a4a4a" stroke="#0e0e0e" stroke-width="0.8"/>
<circle cx="183.88" cy="670.46" r="1.5" fill="#4a4a4a" stroke="#0e0e0e" stroke-width="0.8"/>
<circle cx="185.12" cy="674.18" r="1.5" fill="#4a4a4a" stroke="#0e0e0e" stroke-width="0.8"/>
<circle cx="186.36" cy="682.87" r="1.5" fill="#4a4a4a" stroke="#0e0e0e" stroke-width="0.8"/>
<circle cx="187.6" cy="684.12" r="1.5" fill="#4a4a4a" stroke="#0e0e0e" stroke-width="0.8"/>
<circle cx="188.84" cy="682.87" r="1.5" fill="#4a4a4a" stroke="#0e0e0e" stroke-width="0.8"/>
<circle cx="190.08" cy="681.63" r="1.5" fill="#4a4a4a" stroke="#0e0e0e" stroke-width="0.8"/>
<circle cx="191.32" cy="681.63" r="1.5" fill="#4a4a4a" stroke="#0e0e0e" stroke-width="0.8"/>
<circle cx="192.56" cy="677.91" r="1.5" fill="#4a4a4a" stroke="#0e0e0e" stroke-width="0.8"/>
<circle cx="193.8" cy="685.36" r="1.5" fill="#4a4a4a" stroke="#0e0e0e" stroke-width="0.8"/>
<circle cx="195.04" cy="676.67" r="1.5" fill="#4a4a4a" stroke="#0e0e0e" stroke-width="0.8"/>
<circle cx="196.28" cy="675.42" r="1.5" fill="#4a4a4a" stroke="#0e0e0e" stroke-width="0.8"/>
<circle cx="197.53" cy="684.12" r="1.5" fill="#4a4a4a" stroke="#0e0e0e" stroke-width="0.8"/>
<circle cx="198.77" cy="686.6" r="1.5" fill="#4a4a4a" stroke="#0e0e0e" stroke-width="0.8"/>
<circle cx="200.01" cy="677.91" r="1.5" fill="#4a4a4a" stroke="#0e0e0e" stroke-width="0.8"/>
<circle cx="201.25" cy="686.6" r="1.5" fill="#4a4a4a" stroke="#0e0e0e" stroke-width="0.8"/>
<circle cx="202.49" cy="679.15" r="1.5" fill="#4a4a4a" stroke="#0e0e0e" stroke-width="0.8"/>
<circle cx="203.73" cy="681.63" r="1.5" fill="#4a4a4a" stroke="#0e0e0e" stroke-width="0.8"/>
<circle cx="204.97" cy="686.6" r="1.5" fill="#4a4a4a" stroke="#0e0e0e" stroke-width="0.8"/>
<circle cx="206.21" cy="686.6" r="1.5" fill="#4a4a4a" stroke="#0e0e0e" stroke-width="0.8"/>
<circle cx="207.45" cy="675.42" r="1.5" fill="#4a4a4a" stroke="#0e0e0e" stroke-width="0.8"/>
<circle cx="208.45" cy="647.49" r="1.5" fill="#4a4a4a" stroke="#0e0e0e" stroke-width="0.8"/>
</g>
<rect x="50.5" y="629.2" width="167" height="89.2" fill="none" stroke="#6e6e6e" stroke-width="0.9"/>
<line x1="47.3" x2="50.5" y1="719" y2="719" stroke="#5e5e5e" stroke-width="1.1"/>
<text x="44.6" y="723.9" text-anchor="end" class="tk">0.5</text>
<line x1="47.3" x2="50.5" y1="701.02" y2="701.02" stroke="#5e5e5e" stroke-width="1.1"/>
<text x="44.6" y="705.92" text-anchor="end" class="tk">0.6</text>
<line x1="47.3" x2="50.5" y1="683.04" y2="683.04" stroke="#5e5e5e" stroke-width="1.1"/>
<text x="44.6" y="687.94" text-anchor="end" class="tk">0.7</text>
<line x1="47.3" x2="50.5" y1="665.06" y2="665.06" stroke="#5e5e5e" stroke-width="1.1"/>
<text x="44.6" y="669.96" text-anchor="end" class="tk">0.8</text>
<line x1="47.3" x2="50.5" y1="647.08" y2="647.08" stroke="#5e5e5e" stroke-width="1.1"/>
<text x="44.6" y="651.98" text-anchor="end" class="tk">0.9</text>
<line x1="47.3" x2="50.5" y1="629.1" y2="629.1" stroke="#5e5e5e" stroke-width="1.1"/>
<text x="44.6" y="634" text-anchor="end" class="tk">1.0</text>
<line y1="718.4" y2="721.4" x1="64.7" x2="64.7" stroke="#5e5e5e" stroke-width="1.1"/>
<text x="64.7" y="733" text-anchor="middle" class="tkx">150</text>
<line y1="718.4" y2="721.4" x1="104.54" x2="104.54" stroke="#5e5e5e" stroke-width="1.1"/>
<text x="104.54" y="733" text-anchor="middle" class="tkx">180</text>
<line y1="718.4" y2="721.4" x1="144.38" x2="144.38" stroke="#5e5e5e" stroke-width="1.1"/>
<text x="144.38" y="733" text-anchor="middle" class="tkx">210</text>
<line y1="718.4" y2="721.4" x1="184.22" x2="184.22" stroke="#5e5e5e" stroke-width="1.1"/>
<text x="184.22" y="733" text-anchor="middle" class="tkx">240</text>
<text x="134" y="749.5" text-anchor="middle" class="ax">residues</text>
<text transform="translate(12,673.8) rotate(-90)" text-anchor="middle" class="ax">T<tspan font-size="8.8" dy="2.8">1</tspan><tspan dy="-2.8"> (s)</tspan></text>
<line x1="281.5" x2="448.5" y1="710.97" y2="710.97" stroke="#e5e5e5" stroke-width="0.6"/>
<line x1="281.5" x2="448.5" y1="696.1" y2="696.1" stroke="#e5e5e5" stroke-width="0.6"/>
<line x1="281.5" x2="448.5" y1="681.23" y2="681.23" stroke="#e5e5e5" stroke-width="0.6"/>
<line x1="281.5" x2="448.5" y1="666.37" y2="666.37" stroke="#e5e5e5" stroke-width="0.6"/>
<line x1="281.5" x2="448.5" y1="651.5" y2="651.5" stroke="#e5e5e5" stroke-width="0.6"/>
<line x1="281.5" x2="448.5" y1="636.63" y2="636.63" stroke="#e5e5e5" stroke-width="0.6"/>
<line y1="629.2" y2="718.4" x1="315.63" x2="315.63" stroke="#e5e5e5" stroke-width="0.6"/>
<line y1="629.2" y2="718.4" x1="355.5" x2="355.5" stroke="#e5e5e5" stroke-width="0.6"/>
<line y1="629.2" y2="718.4" x1="395.38" x2="395.38" stroke="#e5e5e5" stroke-width="0.6"/>
<line y1="629.2" y2="718.4" x1="435.25" x2="435.25" stroke="#e5e5e5" stroke-width="0.6"/>
<line x1="281.5" x2="448.5" y1="703.53" y2="703.53" stroke="#cbcbcb" stroke-width="0.9"/>
<line x1="281.5" x2="448.5" y1="688.67" y2="688.67" stroke="#cbcbcb" stroke-width="0.9"/>
<line x1="281.5" x2="448.5" y1="673.8" y2="673.8" stroke="#cbcbcb" stroke-width="0.9"/>
<line x1="281.5" x2="448.5" y1="658.93" y2="658.93" stroke="#cbcbcb" stroke-width="0.9"/>
<line x1="281.5" x2="448.5" y1="644.07" y2="644.07" stroke="#cbcbcb" stroke-width="0.9"/>
<line y1="629.2" y2="718.4" x1="295.7" x2="295.7" stroke="#c4c4c4" stroke-width="0.9"/>
<line y1="629.2" y2="718.4" x1="335.57" x2="335.57" stroke="#c4c4c4" stroke-width="0.9"/>
<line y1="629.2" y2="718.4" x1="375.44" x2="375.44" stroke="#c4c4c4" stroke-width="0.9"/>
<line y1="629.2" y2="718.4" x1="415.31" x2="415.31" stroke="#c4c4c4" stroke-width="0.9"/>
<g clip-path="url(#c41)">
<polyline points="289.07,644.38 289.69,659.28 290.93,661.77 292.17,665.49 292.79,690.32 294.03,679.15 295.27,684.12 295.89,696.53 297.13,681.63 298.37,686.6 299.61,690.32 300.85,690.32 302.09,691.57 303.34,692.81 304.58,691.57 305.82,690.32 307.06,691.57 308.3,694.05 309.29,696.53 310.16,684.12 311.4,689.08 312.64,676.67 313.88,675.42 315.12,680.39 316.36,684.12 317.61,686.6 318.85,689.08 320.09,687.84 321.33,690.32 322.57,691.57 323.81,692.81 325.05,695.29 326.29,691.57 327.53,690.32 328.77,691.57 330.01,690.32 331.26,692.81 332.5,696.53 333.74,691.57 334.61,701.5 335.6,690.32 336.84,690.32 338.08,694.05 339.32,700.26 340.31,702.74 341.55,685.36 342.42,675.42 343.66,681.63 344.91,687.84 346.15,689.08 347.39,685.36 348.63,687.84 349.87,689.08 351.11,689.08 352.35,689.08 353.59,689.08 354.83,687.84 356.07,685.36 357.31,682.87 358.55,681.63 359.18,700.26 360.42,690.32 361.66,700.26 362.65,708.95 363.89,689.08 364,689.08 365.24,687.84 366.48,689.08 367.72,701.5 368.96,710.19 369.58,696.53 370.2,703.98 371.45,708.95 372.69,706.47 373.93,708.95 375.17,707.71 376.41,711.43 377.65,706.47 378.89,710.19 380.13,705.22 381.37,711.43 382.61,708.95 383.85,707.71 385.09,706.47 386.34,711.43 387.58,706.47 388.82,707.71 390.06,703.98 391.3,706.47 392.54,703.98 393.78,699.02 395.02,700.26 396.26,710.19 397.5,703.98 399.99,705.22 402.47,703.98 404.95,703.98 407.43,703.98 409.91,702.74 412.39,702.74 413.64,707.71 414.26,711.43 414.88,703.98 416.12,705.22 418.6,703.98 421.08,703.98 423.56,705.22 426.04,705.22 428.53,703.98 429.77,711.43 431.01,707.71 432.25,699.02 433.49,691.57 434.73,687.84 435.97,689.08 436.59,674.18 437.21,681.63 438.45,702.74 439.69,680.39" fill="none" stroke="#2c6a3a" stroke-width="1.9" stroke-linejoin="round" stroke-linecap="round" opacity="1"/>
<polyline points="288.45,638.17 289.69,636.93 290.93,634.45 291.92,632.59 292.79,641.9 294.03,650.59 295.27,658.04 296.51,659.28 297.75,658.04 298.99,651.83 299.86,650.59 300.85,655.56 301.85,659.28 302.72,663.01 303.58,656.8 304.58,655.56 305.82,654.32 307.06,651.83 307.68,629.48 308.3,645.62 309.29,655.56 310.53,658.04 311.77,651.83 313.01,648.73 313.88,656.8 314.5,664.25 315.74,674.18 316.99,680.39 318.23,687.84 319.47,692.81 320.71,696.53 321.95,699.02 323.19,701.5 324.43,705.22 325.67,703.98 326.91,706.47 328.15,707.71 329.39,703.98 330.64,700.26 331.88,694.05 333.12,692.81 334.36,687.84 335.6,682.87 336.84,679.15 338.08,677.91 339.32,676.67 340.56,674.18 341.8,667.97 342.42,661.77 343.66,666.73 344.91,667.97 346.15,672.94 347.39,679.15 348.63,679.15 349.87,676.67 351.11,674.18 352.35,674.18 353.59,675.42 354.83,676.67 356.07,677.91 357.31,676.67 358.55,675.42 359.8,674.18 361.04,676.67 362.28,675.42 363.52,672.94 364,672.94 365.24,676.67 366.48,680.39 367.72,684.12 368.96,687.84 370.2,690.32 371.45,695.29 372.69,699.02 373.93,702.74 375.17,703.98 376.41,703.98 378.89,703.98 381.37,704.6 383.85,704.6 386.34,705.22 387.58,706.47 388.82,707.71 390.06,707.71 391.3,706.47 392.54,705.22 393.78,707.71 395.02,706.47 396.26,701.5 396.88,700.26 397.5,703.98 399.99,703.98 402.47,703.98 404.95,703.98 407.43,703.98 409.91,703.98 412.39,703.98 413.64,705.22 414.88,701.5 416.12,702.74 417.36,703.98 418.6,702.74 419.84,702.74 421.08,703.98 423.56,703.98 426.04,703.98 427.28,705.22 428.53,703.98 429.77,702.74 431.01,703.98 432.25,705.22 433.49,702.74 434.73,699.02 435.97,694.05 437.21,686.6 438.45,674.18 439.45,651.83" fill="none" stroke="#0e0e0e" stroke-width="2.8" stroke-linejoin="round" stroke-linecap="round" opacity="1"/>
<circle cx="288.45" cy="638.17" r="1.5" fill="#4a4a4a" stroke="#0e0e0e" stroke-width="0.8"/>
<circle cx="289.69" cy="636.93" r="1.5" fill="#4a4a4a" stroke="#0e0e0e" stroke-width="0.8"/>
<circle cx="290.93" cy="634.45" r="1.5" fill="#4a4a4a" stroke="#0e0e0e" stroke-width="0.8"/>
<circle cx="291.92" cy="632.59" r="1.5" fill="#4a4a4a" stroke="#0e0e0e" stroke-width="0.8"/>
<circle cx="292.79" cy="641.9" r="1.5" fill="#4a4a4a" stroke="#0e0e0e" stroke-width="0.8"/>
<circle cx="294.03" cy="650.59" r="1.5" fill="#4a4a4a" stroke="#0e0e0e" stroke-width="0.8"/>
<circle cx="295.27" cy="658.04" r="1.5" fill="#4a4a4a" stroke="#0e0e0e" stroke-width="0.8"/>
<circle cx="296.51" cy="659.28" r="1.5" fill="#4a4a4a" stroke="#0e0e0e" stroke-width="0.8"/>
<circle cx="297.75" cy="658.04" r="1.5" fill="#4a4a4a" stroke="#0e0e0e" stroke-width="0.8"/>
<circle cx="298.99" cy="651.83" r="1.5" fill="#4a4a4a" stroke="#0e0e0e" stroke-width="0.8"/>
<circle cx="299.86" cy="650.59" r="1.5" fill="#4a4a4a" stroke="#0e0e0e" stroke-width="0.8"/>
<circle cx="300.85" cy="655.56" r="1.5" fill="#4a4a4a" stroke="#0e0e0e" stroke-width="0.8"/>
<circle cx="301.85" cy="659.28" r="1.5" fill="#4a4a4a" stroke="#0e0e0e" stroke-width="0.8"/>
<circle cx="302.72" cy="663.01" r="1.5" fill="#4a4a4a" stroke="#0e0e0e" stroke-width="0.8"/>
<circle cx="303.58" cy="656.8" r="1.5" fill="#4a4a4a" stroke="#0e0e0e" stroke-width="0.8"/>
<circle cx="304.58" cy="655.56" r="1.5" fill="#4a4a4a" stroke="#0e0e0e" stroke-width="0.8"/>
<circle cx="305.82" cy="654.32" r="1.5" fill="#4a4a4a" stroke="#0e0e0e" stroke-width="0.8"/>
<circle cx="307.06" cy="651.83" r="1.5" fill="#4a4a4a" stroke="#0e0e0e" stroke-width="0.8"/>
<circle cx="307.68" cy="629.48" r="1.5" fill="#4a4a4a" stroke="#0e0e0e" stroke-width="0.8"/>
<circle cx="308.3" cy="645.62" r="1.5" fill="#4a4a4a" stroke="#0e0e0e" stroke-width="0.8"/>
<circle cx="309.29" cy="655.56" r="1.5" fill="#4a4a4a" stroke="#0e0e0e" stroke-width="0.8"/>
<circle cx="310.53" cy="658.04" r="1.5" fill="#4a4a4a" stroke="#0e0e0e" stroke-width="0.8"/>
<circle cx="311.77" cy="651.83" r="1.5" fill="#4a4a4a" stroke="#0e0e0e" stroke-width="0.8"/>
<circle cx="313.01" cy="648.73" r="1.5" fill="#4a4a4a" stroke="#0e0e0e" stroke-width="0.8"/>
<circle cx="313.88" cy="656.8" r="1.5" fill="#4a4a4a" stroke="#0e0e0e" stroke-width="0.8"/>
<circle cx="314.5" cy="664.25" r="1.5" fill="#4a4a4a" stroke="#0e0e0e" stroke-width="0.8"/>
<circle cx="315.74" cy="674.18" r="1.5" fill="#4a4a4a" stroke="#0e0e0e" stroke-width="0.8"/>
<circle cx="316.99" cy="680.39" r="1.5" fill="#4a4a4a" stroke="#0e0e0e" stroke-width="0.8"/>
<circle cx="318.23" cy="687.84" r="1.5" fill="#4a4a4a" stroke="#0e0e0e" stroke-width="0.8"/>
<circle cx="319.47" cy="692.81" r="1.5" fill="#4a4a4a" stroke="#0e0e0e" stroke-width="0.8"/>
<circle cx="320.71" cy="696.53" r="1.5" fill="#4a4a4a" stroke="#0e0e0e" stroke-width="0.8"/>
<circle cx="321.95" cy="699.02" r="1.5" fill="#4a4a4a" stroke="#0e0e0e" stroke-width="0.8"/>
<circle cx="323.19" cy="701.5" r="1.5" fill="#4a4a4a" stroke="#0e0e0e" stroke-width="0.8"/>
<circle cx="324.43" cy="705.22" r="1.5" fill="#4a4a4a" stroke="#0e0e0e" stroke-width="0.8"/>
<circle cx="325.67" cy="703.98" r="1.5" fill="#4a4a4a" stroke="#0e0e0e" stroke-width="0.8"/>
<circle cx="326.91" cy="706.47" r="1.5" fill="#4a4a4a" stroke="#0e0e0e" stroke-width="0.8"/>
<circle cx="328.15" cy="707.71" r="1.5" fill="#4a4a4a" stroke="#0e0e0e" stroke-width="0.8"/>
<circle cx="329.39" cy="703.98" r="1.5" fill="#4a4a4a" stroke="#0e0e0e" stroke-width="0.8"/>
<circle cx="330.64" cy="700.26" r="1.5" fill="#4a4a4a" stroke="#0e0e0e" stroke-width="0.8"/>
<circle cx="331.88" cy="694.05" r="1.5" fill="#4a4a4a" stroke="#0e0e0e" stroke-width="0.8"/>
<circle cx="333.12" cy="692.81" r="1.5" fill="#4a4a4a" stroke="#0e0e0e" stroke-width="0.8"/>
<circle cx="334.36" cy="687.84" r="1.5" fill="#4a4a4a" stroke="#0e0e0e" stroke-width="0.8"/>
<circle cx="335.6" cy="682.87" r="1.5" fill="#4a4a4a" stroke="#0e0e0e" stroke-width="0.8"/>
<circle cx="336.84" cy="679.15" r="1.5" fill="#4a4a4a" stroke="#0e0e0e" stroke-width="0.8"/>
<circle cx="338.08" cy="677.91" r="1.5" fill="#4a4a4a" stroke="#0e0e0e" stroke-width="0.8"/>
<circle cx="339.32" cy="676.67" r="1.5" fill="#4a4a4a" stroke="#0e0e0e" stroke-width="0.8"/>
<circle cx="340.56" cy="674.18" r="1.5" fill="#4a4a4a" stroke="#0e0e0e" stroke-width="0.8"/>
<circle cx="341.8" cy="667.97" r="1.5" fill="#4a4a4a" stroke="#0e0e0e" stroke-width="0.8"/>
<circle cx="342.42" cy="661.77" r="1.5" fill="#4a4a4a" stroke="#0e0e0e" stroke-width="0.8"/>
<circle cx="343.66" cy="666.73" r="1.5" fill="#4a4a4a" stroke="#0e0e0e" stroke-width="0.8"/>
<circle cx="344.91" cy="667.97" r="1.5" fill="#4a4a4a" stroke="#0e0e0e" stroke-width="0.8"/>
<circle cx="346.15" cy="672.94" r="1.5" fill="#4a4a4a" stroke="#0e0e0e" stroke-width="0.8"/>
<circle cx="347.39" cy="679.15" r="1.5" fill="#4a4a4a" stroke="#0e0e0e" stroke-width="0.8"/>
<circle cx="348.63" cy="679.15" r="1.5" fill="#4a4a4a" stroke="#0e0e0e" stroke-width="0.8"/>
<circle cx="349.87" cy="676.67" r="1.5" fill="#4a4a4a" stroke="#0e0e0e" stroke-width="0.8"/>
<circle cx="351.11" cy="674.18" r="1.5" fill="#4a4a4a" stroke="#0e0e0e" stroke-width="0.8"/>
<circle cx="352.35" cy="674.18" r="1.5" fill="#4a4a4a" stroke="#0e0e0e" stroke-width="0.8"/>
<circle cx="353.59" cy="675.42" r="1.5" fill="#4a4a4a" stroke="#0e0e0e" stroke-width="0.8"/>
<circle cx="354.83" cy="676.67" r="1.5" fill="#4a4a4a" stroke="#0e0e0e" stroke-width="0.8"/>
<circle cx="356.07" cy="677.91" r="1.5" fill="#4a4a4a" stroke="#0e0e0e" stroke-width="0.8"/>
<circle cx="357.31" cy="676.67" r="1.5" fill="#4a4a4a" stroke="#0e0e0e" stroke-width="0.8"/>
<circle cx="358.55" cy="675.42" r="1.5" fill="#4a4a4a" stroke="#0e0e0e" stroke-width="0.8"/>
<circle cx="359.8" cy="674.18" r="1.5" fill="#4a4a4a" stroke="#0e0e0e" stroke-width="0.8"/>
<circle cx="361.04" cy="676.67" r="1.5" fill="#4a4a4a" stroke="#0e0e0e" stroke-width="0.8"/>
<circle cx="362.28" cy="675.42" r="1.5" fill="#4a4a4a" stroke="#0e0e0e" stroke-width="0.8"/>
<circle cx="363.52" cy="672.94" r="1.5" fill="#4a4a4a" stroke="#0e0e0e" stroke-width="0.8"/>
<circle cx="364" cy="672.94" r="1.5" fill="#4a4a4a" stroke="#0e0e0e" stroke-width="0.8"/>
<circle cx="365.24" cy="676.67" r="1.5" fill="#4a4a4a" stroke="#0e0e0e" stroke-width="0.8"/>
<circle cx="366.48" cy="680.39" r="1.5" fill="#4a4a4a" stroke="#0e0e0e" stroke-width="0.8"/>
<circle cx="367.72" cy="684.12" r="1.5" fill="#4a4a4a" stroke="#0e0e0e" stroke-width="0.8"/>
<circle cx="368.96" cy="687.84" r="1.5" fill="#4a4a4a" stroke="#0e0e0e" stroke-width="0.8"/>
<circle cx="370.2" cy="690.32" r="1.5" fill="#4a4a4a" stroke="#0e0e0e" stroke-width="0.8"/>
<circle cx="371.45" cy="695.29" r="1.5" fill="#4a4a4a" stroke="#0e0e0e" stroke-width="0.8"/>
<circle cx="372.69" cy="699.02" r="1.5" fill="#4a4a4a" stroke="#0e0e0e" stroke-width="0.8"/>
<circle cx="373.93" cy="702.74" r="1.5" fill="#4a4a4a" stroke="#0e0e0e" stroke-width="0.8"/>
<circle cx="375.17" cy="703.98" r="1.5" fill="#4a4a4a" stroke="#0e0e0e" stroke-width="0.8"/>
<circle cx="376.41" cy="703.98" r="1.5" fill="#4a4a4a" stroke="#0e0e0e" stroke-width="0.8"/>
<circle cx="378.89" cy="703.98" r="1.5" fill="#4a4a4a" stroke="#0e0e0e" stroke-width="0.8"/>
<circle cx="381.37" cy="704.6" r="1.5" fill="#4a4a4a" stroke="#0e0e0e" stroke-width="0.8"/>
<circle cx="383.85" cy="704.6" r="1.5" fill="#4a4a4a" stroke="#0e0e0e" stroke-width="0.8"/>
<circle cx="386.34" cy="705.22" r="1.5" fill="#4a4a4a" stroke="#0e0e0e" stroke-width="0.8"/>
<circle cx="387.58" cy="706.47" r="1.5" fill="#4a4a4a" stroke="#0e0e0e" stroke-width="0.8"/>
<circle cx="388.82" cy="707.71" r="1.5" fill="#4a4a4a" stroke="#0e0e0e" stroke-width="0.8"/>
<circle cx="390.06" cy="707.71" r="1.5" fill="#4a4a4a" stroke="#0e0e0e" stroke-width="0.8"/>
<circle cx="391.3" cy="706.47" r="1.5" fill="#4a4a4a" stroke="#0e0e0e" stroke-width="0.8"/>
<circle cx="392.54" cy="705.22" r="1.5" fill="#4a4a4a" stroke="#0e0e0e" stroke-width="0.8"/>
<circle cx="393.78" cy="707.71" r="1.5" fill="#4a4a4a" stroke="#0e0e0e" stroke-width="0.8"/>
<circle cx="395.02" cy="706.47" r="1.5" fill="#4a4a4a" stroke="#0e0e0e" stroke-width="0.8"/>
<circle cx="396.26" cy="701.5" r="1.5" fill="#4a4a4a" stroke="#0e0e0e" stroke-width="0.8"/>
<circle cx="396.88" cy="700.26" r="1.5" fill="#4a4a4a" stroke="#0e0e0e" stroke-width="0.8"/>
<circle cx="397.5" cy="703.98" r="1.5" fill="#4a4a4a" stroke="#0e0e0e" stroke-width="0.8"/>
<circle cx="399.99" cy="703.98" r="1.5" fill="#4a4a4a" stroke="#0e0e0e" stroke-width="0.8"/>
<circle cx="402.47" cy="703.98" r="1.5" fill="#4a4a4a" stroke="#0e0e0e" stroke-width="0.8"/>
<circle cx="404.95" cy="703.98" r="1.5" fill="#4a4a4a" stroke="#0e0e0e" stroke-width="0.8"/>
<circle cx="407.43" cy="703.98" r="1.5" fill="#4a4a4a" stroke="#0e0e0e" stroke-width="0.8"/>
<circle cx="409.91" cy="703.98" r="1.5" fill="#4a4a4a" stroke="#0e0e0e" stroke-width="0.8"/>
<circle cx="412.39" cy="703.98" r="1.5" fill="#4a4a4a" stroke="#0e0e0e" stroke-width="0.8"/>
<circle cx="413.64" cy="705.22" r="1.5" fill="#4a4a4a" stroke="#0e0e0e" stroke-width="0.8"/>
<circle cx="414.88" cy="701.5" r="1.5" fill="#4a4a4a" stroke="#0e0e0e" stroke-width="0.8"/>
<circle cx="416.12" cy="702.74" r="1.5" fill="#4a4a4a" stroke="#0e0e0e" stroke-width="0.8"/>
<circle cx="417.36" cy="703.98" r="1.5" fill="#4a4a4a" stroke="#0e0e0e" stroke-width="0.8"/>
<circle cx="418.6" cy="702.74" r="1.5" fill="#4a4a4a" stroke="#0e0e0e" stroke-width="0.8"/>
<circle cx="419.84" cy="702.74" r="1.5" fill="#4a4a4a" stroke="#0e0e0e" stroke-width="0.8"/>
<circle cx="421.08" cy="703.98" r="1.5" fill="#4a4a4a" stroke="#0e0e0e" stroke-width="0.8"/>
<circle cx="423.56" cy="703.98" r="1.5" fill="#4a4a4a" stroke="#0e0e0e" stroke-width="0.8"/>
<circle cx="426.04" cy="703.98" r="1.5" fill="#4a4a4a" stroke="#0e0e0e" stroke-width="0.8"/>
<circle cx="427.28" cy="705.22" r="1.5" fill="#4a4a4a" stroke="#0e0e0e" stroke-width="0.8"/>
<circle cx="428.53" cy="703.98" r="1.5" fill="#4a4a4a" stroke="#0e0e0e" stroke-width="0.8"/>
<circle cx="429.77" cy="702.74" r="1.5" fill="#4a4a4a" stroke="#0e0e0e" stroke-width="0.8"/>
<circle cx="431.01" cy="703.98" r="1.5" fill="#4a4a4a" stroke="#0e0e0e" stroke-width="0.8"/>
<circle cx="432.25" cy="705.22" r="1.5" fill="#4a4a4a" stroke="#0e0e0e" stroke-width="0.8"/>
<circle cx="433.49" cy="702.74" r="1.5" fill="#4a4a4a" stroke="#0e0e0e" stroke-width="0.8"/>
<circle cx="434.73" cy="699.02" r="1.5" fill="#4a4a4a" stroke="#0e0e0e" stroke-width="0.8"/>
<circle cx="435.97" cy="694.05" r="1.5" fill="#4a4a4a" stroke="#0e0e0e" stroke-width="0.8"/>
<circle cx="437.21" cy="686.6" r="1.5" fill="#4a4a4a" stroke="#0e0e0e" stroke-width="0.8"/>
<circle cx="438.45" cy="674.18" r="1.5" fill="#4a4a4a" stroke="#0e0e0e" stroke-width="0.8"/>
<circle cx="439.45" cy="651.83" r="1.5" fill="#4a4a4a" stroke="#0e0e0e" stroke-width="0.8"/>
</g>
<rect x="281.5" y="629.2" width="167" height="89.2" fill="none" stroke="#6e6e6e" stroke-width="0.9"/>
<line x1="278.3" x2="281.5" y1="718.4" y2="718.4" stroke="#5e5e5e" stroke-width="1.1"/>
<text x="276" y="723.3" text-anchor="end" class="tk">0.0</text>
<line x1="278.3" x2="281.5" y1="703.53" y2="703.53" stroke="#5e5e5e" stroke-width="1.1"/>
<text x="276" y="708.43" text-anchor="end" class="tk">0.1</text>
<line x1="278.3" x2="281.5" y1="688.67" y2="688.67" stroke="#5e5e5e" stroke-width="1.1"/>
<text x="276" y="693.57" text-anchor="end" class="tk">0.2</text>
<line x1="278.3" x2="281.5" y1="673.8" y2="673.8" stroke="#5e5e5e" stroke-width="1.1"/>
<text x="276" y="678.7" text-anchor="end" class="tk">0.3</text>
<line x1="278.3" x2="281.5" y1="658.93" y2="658.93" stroke="#5e5e5e" stroke-width="1.1"/>
<text x="276" y="663.83" text-anchor="end" class="tk">0.4</text>
<line x1="278.3" x2="281.5" y1="644.07" y2="644.07" stroke="#5e5e5e" stroke-width="1.1"/>
<text x="276" y="648.97" text-anchor="end" class="tk">0.5</text>
<line y1="718.4" y2="721.4" x1="295.7" x2="295.7" stroke="#5e5e5e" stroke-width="1.1"/>
<text x="295.7" y="733" text-anchor="middle" class="tkx">150</text>
<line y1="718.4" y2="721.4" x1="335.57" x2="335.57" stroke="#5e5e5e" stroke-width="1.1"/>
<text x="335.57" y="733" text-anchor="middle" class="tkx">180</text>
<line y1="718.4" y2="721.4" x1="375.44" x2="375.44" stroke="#5e5e5e" stroke-width="1.1"/>
<text x="375.44" y="733" text-anchor="middle" class="tkx">210</text>
<line y1="718.4" y2="721.4" x1="415.31" x2="415.31" stroke="#5e5e5e" stroke-width="1.1"/>
<text x="415.31" y="733" text-anchor="middle" class="tkx">240</text>
<text x="365" y="749.5" text-anchor="middle" class="ax">residues</text>
<text transform="translate(243,673.8) rotate(-90)" text-anchor="middle" class="ax">T<tspan font-size="8.8" dy="2.8">2</tspan><tspan dy="-2.8"> (s)</tspan></text>
<line x1="512.5" x2="679.5" y1="703.53" y2="703.53" stroke="#e5e5e5" stroke-width="0.6"/>
<line x1="512.5" x2="679.5" y1="673.8" y2="673.8" stroke="#e5e5e5" stroke-width="0.6"/>
<line x1="512.5" x2="679.5" y1="644.07" y2="644.07" stroke="#e5e5e5" stroke-width="0.6"/>
<line y1="629.2" y2="718.4" x1="547.08" x2="547.08" stroke="#e5e5e5" stroke-width="0.6"/>
<line y1="629.2" y2="718.4" x1="586.83" x2="586.83" stroke="#e5e5e5" stroke-width="0.6"/>
<line y1="629.2" y2="718.4" x1="626.58" x2="626.58" stroke="#e5e5e5" stroke-width="0.6"/>
<line y1="629.2" y2="718.4" x1="666.33" x2="666.33" stroke="#e5e5e5" stroke-width="0.6"/>
<line x1="512.5" x2="679.5" y1="688.67" y2="688.67" stroke="#cbcbcb" stroke-width="0.9"/>
<line x1="512.5" x2="679.5" y1="658.93" y2="658.93" stroke="#cbcbcb" stroke-width="0.9"/>
<line y1="629.2" y2="718.4" x1="527.2" x2="527.2" stroke="#c4c4c4" stroke-width="0.9"/>
<line y1="629.2" y2="718.4" x1="566.95" x2="566.95" stroke="#c4c4c4" stroke-width="0.9"/>
<line y1="629.2" y2="718.4" x1="606.7" x2="606.7" stroke="#c4c4c4" stroke-width="0.9"/>
<line y1="629.2" y2="718.4" x1="646.45" x2="646.45" stroke="#c4c4c4" stroke-width="0.9"/>
<g clip-path="url(#c42)">
<polyline points="520.69,704.6 521.93,691.57 523.17,681.63 524.41,676.67 525.65,672.94 526.89,669.22 528.13,667.97 529.37,661.77 530.61,656.8 531.85,654.32 533.09,653.07 534.34,652.45 535.58,654.32 536.82,656.8 538.06,656.8 539.3,656.18 540.54,659.28 541.78,661.77 543.02,664.25 544.26,669.84 545.5,666.73 546.74,664.25 547.99,661.77 549.23,659.28 550.47,658.04 551.71,656.8 552.95,654.32 554.19,653.07 555.43,651.83 556.67,651.83 557.91,652.45 559.15,651.83 560.39,650.59 561.64,652.45 562.88,651.83 564.12,651.21 565.36,651.21 566.6,653.07 567.84,654.32 569.08,655.56 570.32,656.8 571.56,658.04 572.8,664.25 573.42,670.46 574.66,665.49 575.91,661.77 577.15,661.15 578.39,661.15 579.63,661.77 580.87,664.25 582.11,666.73 583.35,669.22 584.59,670.46 585.83,670.46 587.07,674.18 588.31,674.18 589.55,674.18 590.8,673.56 592.04,672.94 593.28,670.46 594.52,665.49 595,665.49 596.24,674.18 597.48,669.22 598.72,666.73 599.96,664.25 601.2,663.01 602.45,658.04 603.69,645.62 604.93,643.14 607.41,643.14 609.89,643.14 612.37,643.14 614.85,643.14 617.34,643.14 619.82,644.38 622.3,646.87 624.78,645.62 626.64,650.59 628.5,646.87 630.99,645.62 633.47,644.38 635.95,644.38 638.43,644.38 640.91,644.38 643.39,644.38 645.88,645.62 648.36,644.38 650.84,644.38 653.32,643.14 655.8,641.9 658.28,643.14 660.77,645.62 662.01,648.11 663.25,656.8 664.49,661.77 665.73,666.73 666.97,674.18 668.21,682.87 669.45,695.29 670.94,706.47" fill="none" stroke="#2c6a3a" stroke-width="1.9" stroke-linejoin="round" stroke-linecap="round" opacity="1"/>
<polyline points="522.55,712.67 523.79,711.43 524.41,705.22 525.65,696.53 526.89,694.05 528.13,689.08 529.37,687.84 530.61,687.22 531.85,686.6 533.09,685.98 534.34,684.12 535.58,682.87 536.82,687.84 538.06,691.57 539.3,695.29 540.54,690.32 541.78,694.05 543.02,689.08 544.26,687.84 545.5,685.36 546.74,685.36 547.99,684.12 549.23,679.15 550.47,676.67 551.71,672.94 552.95,667.97 554.19,661.77 554.81,658.04 556.05,658.04 557.29,655.56 558.53,664.25 559.77,663.01 561.01,660.52 562.26,664.25 563.5,666.73 564.74,667.97 565.98,669.22 567.22,674.18 568.46,677.91 569.7,680.39 570.94,681.63 572.18,685.36 573.42,680.39 574.66,677.91 575.91,676.67 577.15,674.18 578.39,675.42 579.63,676.67 580.87,679.15 582.11,676.67 583.35,676.67 584.59,677.91 585.83,679.15 587.07,676.67 588.31,675.42 589.55,674.18 590.8,676.67 592.04,680.39 593.28,677.91 594.52,674.18 596.24,672.94 597.48,669.22 598.72,666.73 599.96,664.25 601.2,658.04 601.82,654.32 602.69,636.31 603.69,639.42 604.93,643.14 606.17,641.9 607.41,639.42 608.65,643.14 609.89,644.38 611.13,641.9 612.37,643.14 613.61,640.66 614.85,638.17 616.09,640.66 617.34,641.9 618.58,643.14 619.82,641.9 621.06,645.62 622.3,646.87 623.54,644.38 624.78,643.14 626.02,645.62 627.26,644.38 628.5,645.62 629.74,641.9 630.99,645.62 632.23,643.14 633.47,641.9 634.71,640.66 635.95,639.42 637.19,640.66 638.43,641.9 639.67,640.66 640.91,644.38 642.15,643.14 643.39,641.9 644.64,645.62 645.88,649.35 647.12,641.9 648.36,640.66 649.6,643.14 650.84,645.62 652.08,643.14 653.32,640.66 654.56,639.42 655.8,640.66 657.04,636.93 658.28,639.42 659.53,640.66 660.77,641.9 662.01,645.62 663.25,654.32 664.49,658.04 665.73,661.77 666.97,666.73 668.21,682.87 669.45,703.98" fill="none" stroke="#0e0e0e" stroke-width="2.8" stroke-linejoin="round" stroke-linecap="round" opacity="1"/>
<circle cx="522.55" cy="712.67" r="1.5" fill="#4a4a4a" stroke="#0e0e0e" stroke-width="0.8"/>
<circle cx="523.79" cy="711.43" r="1.5" fill="#4a4a4a" stroke="#0e0e0e" stroke-width="0.8"/>
<circle cx="524.41" cy="705.22" r="1.5" fill="#4a4a4a" stroke="#0e0e0e" stroke-width="0.8"/>
<circle cx="525.65" cy="696.53" r="1.5" fill="#4a4a4a" stroke="#0e0e0e" stroke-width="0.8"/>
<circle cx="526.89" cy="694.05" r="1.5" fill="#4a4a4a" stroke="#0e0e0e" stroke-width="0.8"/>
<circle cx="528.13" cy="689.08" r="1.5" fill="#4a4a4a" stroke="#0e0e0e" stroke-width="0.8"/>
<circle cx="529.37" cy="687.84" r="1.5" fill="#4a4a4a" stroke="#0e0e0e" stroke-width="0.8"/>
<circle cx="530.61" cy="687.22" r="1.5" fill="#4a4a4a" stroke="#0e0e0e" stroke-width="0.8"/>
<circle cx="531.85" cy="686.6" r="1.5" fill="#4a4a4a" stroke="#0e0e0e" stroke-width="0.8"/>
<circle cx="533.09" cy="685.98" r="1.5" fill="#4a4a4a" stroke="#0e0e0e" stroke-width="0.8"/>
<circle cx="534.34" cy="684.12" r="1.5" fill="#4a4a4a" stroke="#0e0e0e" stroke-width="0.8"/>
<circle cx="535.58" cy="682.87" r="1.5" fill="#4a4a4a" stroke="#0e0e0e" stroke-width="0.8"/>
<circle cx="536.82" cy="687.84" r="1.5" fill="#4a4a4a" stroke="#0e0e0e" stroke-width="0.8"/>
<circle cx="538.06" cy="691.57" r="1.5" fill="#4a4a4a" stroke="#0e0e0e" stroke-width="0.8"/>
<circle cx="539.3" cy="695.29" r="1.5" fill="#4a4a4a" stroke="#0e0e0e" stroke-width="0.8"/>
<circle cx="540.54" cy="690.32" r="1.5" fill="#4a4a4a" stroke="#0e0e0e" stroke-width="0.8"/>
<circle cx="541.78" cy="694.05" r="1.5" fill="#4a4a4a" stroke="#0e0e0e" stroke-width="0.8"/>
<circle cx="543.02" cy="689.08" r="1.5" fill="#4a4a4a" stroke="#0e0e0e" stroke-width="0.8"/>
<circle cx="544.26" cy="687.84" r="1.5" fill="#4a4a4a" stroke="#0e0e0e" stroke-width="0.8"/>
<circle cx="545.5" cy="685.36" r="1.5" fill="#4a4a4a" stroke="#0e0e0e" stroke-width="0.8"/>
<circle cx="546.74" cy="685.36" r="1.5" fill="#4a4a4a" stroke="#0e0e0e" stroke-width="0.8"/>
<circle cx="547.99" cy="684.12" r="1.5" fill="#4a4a4a" stroke="#0e0e0e" stroke-width="0.8"/>
<circle cx="549.23" cy="679.15" r="1.5" fill="#4a4a4a" stroke="#0e0e0e" stroke-width="0.8"/>
<circle cx="550.47" cy="676.67" r="1.5" fill="#4a4a4a" stroke="#0e0e0e" stroke-width="0.8"/>
<circle cx="551.71" cy="672.94" r="1.5" fill="#4a4a4a" stroke="#0e0e0e" stroke-width="0.8"/>
<circle cx="552.95" cy="667.97" r="1.5" fill="#4a4a4a" stroke="#0e0e0e" stroke-width="0.8"/>
<circle cx="554.19" cy="661.77" r="1.5" fill="#4a4a4a" stroke="#0e0e0e" stroke-width="0.8"/>
<circle cx="554.81" cy="658.04" r="1.5" fill="#4a4a4a" stroke="#0e0e0e" stroke-width="0.8"/>
<circle cx="556.05" cy="658.04" r="1.5" fill="#4a4a4a" stroke="#0e0e0e" stroke-width="0.8"/>
<circle cx="557.29" cy="655.56" r="1.5" fill="#4a4a4a" stroke="#0e0e0e" stroke-width="0.8"/>
<circle cx="558.53" cy="664.25" r="1.5" fill="#4a4a4a" stroke="#0e0e0e" stroke-width="0.8"/>
<circle cx="559.77" cy="663.01" r="1.5" fill="#4a4a4a" stroke="#0e0e0e" stroke-width="0.8"/>
<circle cx="561.01" cy="660.52" r="1.5" fill="#4a4a4a" stroke="#0e0e0e" stroke-width="0.8"/>
<circle cx="562.26" cy="664.25" r="1.5" fill="#4a4a4a" stroke="#0e0e0e" stroke-width="0.8"/>
<circle cx="563.5" cy="666.73" r="1.5" fill="#4a4a4a" stroke="#0e0e0e" stroke-width="0.8"/>
<circle cx="564.74" cy="667.97" r="1.5" fill="#4a4a4a" stroke="#0e0e0e" stroke-width="0.8"/>
<circle cx="565.98" cy="669.22" r="1.5" fill="#4a4a4a" stroke="#0e0e0e" stroke-width="0.8"/>
<circle cx="567.22" cy="674.18" r="1.5" fill="#4a4a4a" stroke="#0e0e0e" stroke-width="0.8"/>
<circle cx="568.46" cy="677.91" r="1.5" fill="#4a4a4a" stroke="#0e0e0e" stroke-width="0.8"/>
<circle cx="569.7" cy="680.39" r="1.5" fill="#4a4a4a" stroke="#0e0e0e" stroke-width="0.8"/>
<circle cx="570.94" cy="681.63" r="1.5" fill="#4a4a4a" stroke="#0e0e0e" stroke-width="0.8"/>
<circle cx="572.18" cy="685.36" r="1.5" fill="#4a4a4a" stroke="#0e0e0e" stroke-width="0.8"/>
<circle cx="573.42" cy="680.39" r="1.5" fill="#4a4a4a" stroke="#0e0e0e" stroke-width="0.8"/>
<circle cx="574.66" cy="677.91" r="1.5" fill="#4a4a4a" stroke="#0e0e0e" stroke-width="0.8"/>
<circle cx="575.91" cy="676.67" r="1.5" fill="#4a4a4a" stroke="#0e0e0e" stroke-width="0.8"/>
<circle cx="577.15" cy="674.18" r="1.5" fill="#4a4a4a" stroke="#0e0e0e" stroke-width="0.8"/>
<circle cx="578.39" cy="675.42" r="1.5" fill="#4a4a4a" stroke="#0e0e0e" stroke-width="0.8"/>
<circle cx="579.63" cy="676.67" r="1.5" fill="#4a4a4a" stroke="#0e0e0e" stroke-width="0.8"/>
<circle cx="580.87" cy="679.15" r="1.5" fill="#4a4a4a" stroke="#0e0e0e" stroke-width="0.8"/>
<circle cx="582.11" cy="676.67" r="1.5" fill="#4a4a4a" stroke="#0e0e0e" stroke-width="0.8"/>
<circle cx="583.35" cy="676.67" r="1.5" fill="#4a4a4a" stroke="#0e0e0e" stroke-width="0.8"/>
<circle cx="584.59" cy="677.91" r="1.5" fill="#4a4a4a" stroke="#0e0e0e" stroke-width="0.8"/>
<circle cx="585.83" cy="679.15" r="1.5" fill="#4a4a4a" stroke="#0e0e0e" stroke-width="0.8"/>
<circle cx="587.07" cy="676.67" r="1.5" fill="#4a4a4a" stroke="#0e0e0e" stroke-width="0.8"/>
<circle cx="588.31" cy="675.42" r="1.5" fill="#4a4a4a" stroke="#0e0e0e" stroke-width="0.8"/>
<circle cx="589.55" cy="674.18" r="1.5" fill="#4a4a4a" stroke="#0e0e0e" stroke-width="0.8"/>
<circle cx="590.8" cy="676.67" r="1.5" fill="#4a4a4a" stroke="#0e0e0e" stroke-width="0.8"/>
<circle cx="592.04" cy="680.39" r="1.5" fill="#4a4a4a" stroke="#0e0e0e" stroke-width="0.8"/>
<circle cx="593.28" cy="677.91" r="1.5" fill="#4a4a4a" stroke="#0e0e0e" stroke-width="0.8"/>
<circle cx="594.52" cy="674.18" r="1.5" fill="#4a4a4a" stroke="#0e0e0e" stroke-width="0.8"/>
<circle cx="596.24" cy="672.94" r="1.5" fill="#4a4a4a" stroke="#0e0e0e" stroke-width="0.8"/>
<circle cx="597.48" cy="669.22" r="1.5" fill="#4a4a4a" stroke="#0e0e0e" stroke-width="0.8"/>
<circle cx="598.72" cy="666.73" r="1.5" fill="#4a4a4a" stroke="#0e0e0e" stroke-width="0.8"/>
<circle cx="599.96" cy="664.25" r="1.5" fill="#4a4a4a" stroke="#0e0e0e" stroke-width="0.8"/>
<circle cx="601.2" cy="658.04" r="1.5" fill="#4a4a4a" stroke="#0e0e0e" stroke-width="0.8"/>
<circle cx="601.82" cy="654.32" r="1.5" fill="#4a4a4a" stroke="#0e0e0e" stroke-width="0.8"/>
<circle cx="602.69" cy="636.31" r="1.5" fill="#4a4a4a" stroke="#0e0e0e" stroke-width="0.8"/>
<circle cx="603.69" cy="639.42" r="1.5" fill="#4a4a4a" stroke="#0e0e0e" stroke-width="0.8"/>
<circle cx="604.93" cy="643.14" r="1.5" fill="#4a4a4a" stroke="#0e0e0e" stroke-width="0.8"/>
<circle cx="606.17" cy="641.9" r="1.5" fill="#4a4a4a" stroke="#0e0e0e" stroke-width="0.8"/>
<circle cx="607.41" cy="639.42" r="1.5" fill="#4a4a4a" stroke="#0e0e0e" stroke-width="0.8"/>
<circle cx="608.65" cy="643.14" r="1.5" fill="#4a4a4a" stroke="#0e0e0e" stroke-width="0.8"/>
<circle cx="609.89" cy="644.38" r="1.5" fill="#4a4a4a" stroke="#0e0e0e" stroke-width="0.8"/>
<circle cx="611.13" cy="641.9" r="1.5" fill="#4a4a4a" stroke="#0e0e0e" stroke-width="0.8"/>
<circle cx="612.37" cy="643.14" r="1.5" fill="#4a4a4a" stroke="#0e0e0e" stroke-width="0.8"/>
<circle cx="613.61" cy="640.66" r="1.5" fill="#4a4a4a" stroke="#0e0e0e" stroke-width="0.8"/>
<circle cx="614.85" cy="638.17" r="1.5" fill="#4a4a4a" stroke="#0e0e0e" stroke-width="0.8"/>
<circle cx="616.09" cy="640.66" r="1.5" fill="#4a4a4a" stroke="#0e0e0e" stroke-width="0.8"/>
<circle cx="617.34" cy="641.9" r="1.5" fill="#4a4a4a" stroke="#0e0e0e" stroke-width="0.8"/>
<circle cx="618.58" cy="643.14" r="1.5" fill="#4a4a4a" stroke="#0e0e0e" stroke-width="0.8"/>
<circle cx="619.82" cy="641.9" r="1.5" fill="#4a4a4a" stroke="#0e0e0e" stroke-width="0.8"/>
<circle cx="621.06" cy="645.62" r="1.5" fill="#4a4a4a" stroke="#0e0e0e" stroke-width="0.8"/>
<circle cx="622.3" cy="646.87" r="1.5" fill="#4a4a4a" stroke="#0e0e0e" stroke-width="0.8"/>
<circle cx="623.54" cy="644.38" r="1.5" fill="#4a4a4a" stroke="#0e0e0e" stroke-width="0.8"/>
<circle cx="624.78" cy="643.14" r="1.5" fill="#4a4a4a" stroke="#0e0e0e" stroke-width="0.8"/>
<circle cx="626.02" cy="645.62" r="1.5" fill="#4a4a4a" stroke="#0e0e0e" stroke-width="0.8"/>
<circle cx="627.26" cy="644.38" r="1.5" fill="#4a4a4a" stroke="#0e0e0e" stroke-width="0.8"/>
<circle cx="628.5" cy="645.62" r="1.5" fill="#4a4a4a" stroke="#0e0e0e" stroke-width="0.8"/>
<circle cx="629.74" cy="641.9" r="1.5" fill="#4a4a4a" stroke="#0e0e0e" stroke-width="0.8"/>
<circle cx="630.99" cy="645.62" r="1.5" fill="#4a4a4a" stroke="#0e0e0e" stroke-width="0.8"/>
<circle cx="632.23" cy="643.14" r="1.5" fill="#4a4a4a" stroke="#0e0e0e" stroke-width="0.8"/>
<circle cx="633.47" cy="641.9" r="1.5" fill="#4a4a4a" stroke="#0e0e0e" stroke-width="0.8"/>
<circle cx="634.71" cy="640.66" r="1.5" fill="#4a4a4a" stroke="#0e0e0e" stroke-width="0.8"/>
<circle cx="635.95" cy="639.42" r="1.5" fill="#4a4a4a" stroke="#0e0e0e" stroke-width="0.8"/>
<circle cx="637.19" cy="640.66" r="1.5" fill="#4a4a4a" stroke="#0e0e0e" stroke-width="0.8"/>
<circle cx="638.43" cy="641.9" r="1.5" fill="#4a4a4a" stroke="#0e0e0e" stroke-width="0.8"/>
<circle cx="639.67" cy="640.66" r="1.5" fill="#4a4a4a" stroke="#0e0e0e" stroke-width="0.8"/>
<circle cx="640.91" cy="644.38" r="1.5" fill="#4a4a4a" stroke="#0e0e0e" stroke-width="0.8"/>
<circle cx="642.15" cy="643.14" r="1.5" fill="#4a4a4a" stroke="#0e0e0e" stroke-width="0.8"/>
<circle cx="643.39" cy="641.9" r="1.5" fill="#4a4a4a" stroke="#0e0e0e" stroke-width="0.8"/>
<circle cx="644.64" cy="645.62" r="1.5" fill="#4a4a4a" stroke="#0e0e0e" stroke-width="0.8"/>
<circle cx="645.88" cy="649.35" r="1.5" fill="#4a4a4a" stroke="#0e0e0e" stroke-width="0.8"/>
<circle cx="647.12" cy="641.9" r="1.5" fill="#4a4a4a" stroke="#0e0e0e" stroke-width="0.8"/>
<circle cx="648.36" cy="640.66" r="1.5" fill="#4a4a4a" stroke="#0e0e0e" stroke-width="0.8"/>
<circle cx="649.6" cy="643.14" r="1.5" fill="#4a4a4a" stroke="#0e0e0e" stroke-width="0.8"/>
<circle cx="650.84" cy="645.62" r="1.5" fill="#4a4a4a" stroke="#0e0e0e" stroke-width="0.8"/>
<circle cx="652.08" cy="643.14" r="1.5" fill="#4a4a4a" stroke="#0e0e0e" stroke-width="0.8"/>
<circle cx="653.32" cy="640.66" r="1.5" fill="#4a4a4a" stroke="#0e0e0e" stroke-width="0.8"/>
<circle cx="654.56" cy="639.42" r="1.5" fill="#4a4a4a" stroke="#0e0e0e" stroke-width="0.8"/>
<circle cx="655.8" cy="640.66" r="1.5" fill="#4a4a4a" stroke="#0e0e0e" stroke-width="0.8"/>
<circle cx="657.04" cy="636.93" r="1.5" fill="#4a4a4a" stroke="#0e0e0e" stroke-width="0.8"/>
<circle cx="658.28" cy="639.42" r="1.5" fill="#4a4a4a" stroke="#0e0e0e" stroke-width="0.8"/>
<circle cx="659.53" cy="640.66" r="1.5" fill="#4a4a4a" stroke="#0e0e0e" stroke-width="0.8"/>
<circle cx="660.77" cy="641.9" r="1.5" fill="#4a4a4a" stroke="#0e0e0e" stroke-width="0.8"/>
<circle cx="662.01" cy="645.62" r="1.5" fill="#4a4a4a" stroke="#0e0e0e" stroke-width="0.8"/>
<circle cx="663.25" cy="654.32" r="1.5" fill="#4a4a4a" stroke="#0e0e0e" stroke-width="0.8"/>
<circle cx="664.49" cy="658.04" r="1.5" fill="#4a4a4a" stroke="#0e0e0e" stroke-width="0.8"/>
<circle cx="665.73" cy="661.77" r="1.5" fill="#4a4a4a" stroke="#0e0e0e" stroke-width="0.8"/>
<circle cx="666.97" cy="666.73" r="1.5" fill="#4a4a4a" stroke="#0e0e0e" stroke-width="0.8"/>
<circle cx="668.21" cy="682.87" r="1.5" fill="#4a4a4a" stroke="#0e0e0e" stroke-width="0.8"/>
<circle cx="669.45" cy="703.98" r="1.5" fill="#4a4a4a" stroke="#0e0e0e" stroke-width="0.8"/>
</g>
<line x1="679.5" x2="679.5" y1="629.2" y2="718.4" stroke="#6e6e6e" stroke-width="0.9"/>
<line x1="512.5" x2="679.5" y1="718.4" y2="718.4" stroke="#6e6e6e" stroke-width="0.9"/>
<line x1="512.5" x2="679.5" y1="629.2" y2="629.2" stroke="#6e6e6e" stroke-width="0.9"/>
<line x1="513" x2="513" y1="629.2" y2="718.4" stroke="#a6a6a6" stroke-width="1.8"/>
<line x1="509.3" x2="512.5" y1="718.4" y2="718.4" stroke="#5e5e5e" stroke-width="1.1"/>
<text x="507.2" y="723.3" text-anchor="end" class="tk">-0.5</text>
<line x1="509.3" x2="512.5" y1="688.67" y2="688.67" stroke="#5e5e5e" stroke-width="1.1"/>
<text x="507.2" y="693.57" text-anchor="end" class="tk">0.0</text>
<line x1="509.3" x2="512.5" y1="658.93" y2="658.93" stroke="#5e5e5e" stroke-width="1.1"/>
<text x="507.2" y="663.83" text-anchor="end" class="tk">0.5</text>
<line x1="509.3" x2="512.5" y1="629.2" y2="629.2" stroke="#5e5e5e" stroke-width="1.1"/>
<text x="507.2" y="634.1" text-anchor="end" class="tk">1.0</text>
<line y1="718.4" y2="721.4" x1="527.2" x2="527.2" stroke="#5e5e5e" stroke-width="1.1"/>
<text x="527.2" y="733" text-anchor="middle" class="tkx">150</text>
<line y1="718.4" y2="721.4" x1="566.95" x2="566.95" stroke="#5e5e5e" stroke-width="1.1"/>
<text x="566.95" y="733" text-anchor="middle" class="tkx">180</text>
<line y1="718.4" y2="721.4" x1="606.7" x2="606.7" stroke="#5e5e5e" stroke-width="1.1"/>
<text x="606.7" y="733" text-anchor="middle" class="tkx">210</text>
<line y1="718.4" y2="721.4" x1="646.45" x2="646.45" stroke="#5e5e5e" stroke-width="1.1"/>
<text x="646.45" y="733" text-anchor="middle" class="tkx">240</text>
<text x="596" y="749.5" text-anchor="middle" class="ax">residues</text>
<text transform="translate(474.6,673.8) rotate(-90)" text-anchor="middle" class="ax">hetNOE</text>
<text x="50.5" y="619.4" class="ti">EN2</text>
</svg></body></html>
